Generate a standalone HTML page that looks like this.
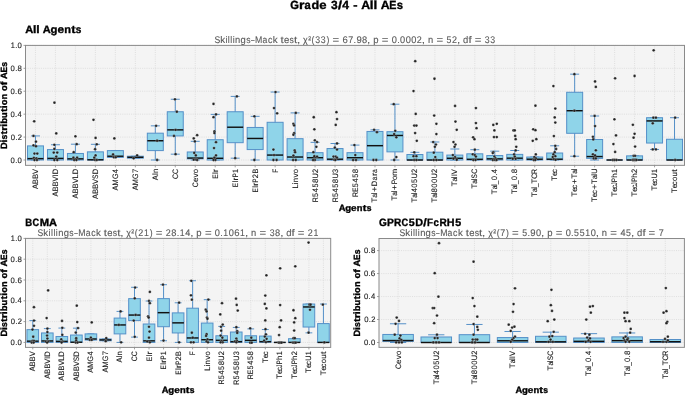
<!DOCTYPE html>
<html><head><meta charset="utf-8"><style>
html,body{margin:0;padding:0;background:#fff;}
svg{display:block;font-family:"Liberation Sans", sans-serif;will-change:transform;text-rendering:geometricPrecision;}
</style></head><body>
<svg width="685" height="395" viewBox="0 0 685 395">
<rect width="685" height="395" fill="#fff"/>
<rect x="25.5" y="45.4" width="659.0" height="119.94999999999999" fill="#f4f4f4"/>
<line x1="25.5" x2="684.5" y1="160.00" y2="160.00" stroke="#d6d6d6" stroke-width="0.7" stroke-dasharray="1 1.2"/>
<line x1="25.5" x2="684.5" y1="137.08" y2="137.08" stroke="#d6d6d6" stroke-width="0.7" stroke-dasharray="1 1.2"/>
<line x1="25.5" x2="684.5" y1="114.16" y2="114.16" stroke="#d6d6d6" stroke-width="0.7" stroke-dasharray="1 1.2"/>
<line x1="25.5" x2="684.5" y1="91.24" y2="91.24" stroke="#d6d6d6" stroke-width="0.7" stroke-dasharray="1 1.2"/>
<line x1="25.5" x2="684.5" y1="68.32" y2="68.32" stroke="#d6d6d6" stroke-width="0.7" stroke-dasharray="1 1.2"/>
<line x1="25.5" x2="684.5" y1="45.40" y2="45.40" stroke="#d6d6d6" stroke-width="0.7" stroke-dasharray="1 1.2"/>
<line x1="35.48" x2="35.48" y1="45.4" y2="165.35" stroke="#d6d6d6" stroke-width="0.7" stroke-dasharray="1 1.2"/>
<line x1="55.45" x2="55.45" y1="45.4" y2="165.35" stroke="#d6d6d6" stroke-width="0.7" stroke-dasharray="1 1.2"/>
<line x1="75.42" x2="75.42" y1="45.4" y2="165.35" stroke="#d6d6d6" stroke-width="0.7" stroke-dasharray="1 1.2"/>
<line x1="95.39" x2="95.39" y1="45.4" y2="165.35" stroke="#d6d6d6" stroke-width="0.7" stroke-dasharray="1 1.2"/>
<line x1="115.36" x2="115.36" y1="45.4" y2="165.35" stroke="#d6d6d6" stroke-width="0.7" stroke-dasharray="1 1.2"/>
<line x1="135.33" x2="135.33" y1="45.4" y2="165.35" stroke="#d6d6d6" stroke-width="0.7" stroke-dasharray="1 1.2"/>
<line x1="155.30" x2="155.30" y1="45.4" y2="165.35" stroke="#d6d6d6" stroke-width="0.7" stroke-dasharray="1 1.2"/>
<line x1="175.27" x2="175.27" y1="45.4" y2="165.35" stroke="#d6d6d6" stroke-width="0.7" stroke-dasharray="1 1.2"/>
<line x1="195.24" x2="195.24" y1="45.4" y2="165.35" stroke="#d6d6d6" stroke-width="0.7" stroke-dasharray="1 1.2"/>
<line x1="215.21" x2="215.21" y1="45.4" y2="165.35" stroke="#d6d6d6" stroke-width="0.7" stroke-dasharray="1 1.2"/>
<line x1="235.18" x2="235.18" y1="45.4" y2="165.35" stroke="#d6d6d6" stroke-width="0.7" stroke-dasharray="1 1.2"/>
<line x1="255.15" x2="255.15" y1="45.4" y2="165.35" stroke="#d6d6d6" stroke-width="0.7" stroke-dasharray="1 1.2"/>
<line x1="275.12" x2="275.12" y1="45.4" y2="165.35" stroke="#d6d6d6" stroke-width="0.7" stroke-dasharray="1 1.2"/>
<line x1="295.09" x2="295.09" y1="45.4" y2="165.35" stroke="#d6d6d6" stroke-width="0.7" stroke-dasharray="1 1.2"/>
<line x1="315.06" x2="315.06" y1="45.4" y2="165.35" stroke="#d6d6d6" stroke-width="0.7" stroke-dasharray="1 1.2"/>
<line x1="335.03" x2="335.03" y1="45.4" y2="165.35" stroke="#d6d6d6" stroke-width="0.7" stroke-dasharray="1 1.2"/>
<line x1="355.00" x2="355.00" y1="45.4" y2="165.35" stroke="#d6d6d6" stroke-width="0.7" stroke-dasharray="1 1.2"/>
<line x1="374.97" x2="374.97" y1="45.4" y2="165.35" stroke="#d6d6d6" stroke-width="0.7" stroke-dasharray="1 1.2"/>
<line x1="394.94" x2="394.94" y1="45.4" y2="165.35" stroke="#d6d6d6" stroke-width="0.7" stroke-dasharray="1 1.2"/>
<line x1="414.91" x2="414.91" y1="45.4" y2="165.35" stroke="#d6d6d6" stroke-width="0.7" stroke-dasharray="1 1.2"/>
<line x1="434.88" x2="434.88" y1="45.4" y2="165.35" stroke="#d6d6d6" stroke-width="0.7" stroke-dasharray="1 1.2"/>
<line x1="454.85" x2="454.85" y1="45.4" y2="165.35" stroke="#d6d6d6" stroke-width="0.7" stroke-dasharray="1 1.2"/>
<line x1="474.82" x2="474.82" y1="45.4" y2="165.35" stroke="#d6d6d6" stroke-width="0.7" stroke-dasharray="1 1.2"/>
<line x1="494.79" x2="494.79" y1="45.4" y2="165.35" stroke="#d6d6d6" stroke-width="0.7" stroke-dasharray="1 1.2"/>
<line x1="514.76" x2="514.76" y1="45.4" y2="165.35" stroke="#d6d6d6" stroke-width="0.7" stroke-dasharray="1 1.2"/>
<line x1="534.73" x2="534.73" y1="45.4" y2="165.35" stroke="#d6d6d6" stroke-width="0.7" stroke-dasharray="1 1.2"/>
<line x1="554.70" x2="554.70" y1="45.4" y2="165.35" stroke="#d6d6d6" stroke-width="0.7" stroke-dasharray="1 1.2"/>
<line x1="574.67" x2="574.67" y1="45.4" y2="165.35" stroke="#d6d6d6" stroke-width="0.7" stroke-dasharray="1 1.2"/>
<line x1="594.64" x2="594.64" y1="45.4" y2="165.35" stroke="#d6d6d6" stroke-width="0.7" stroke-dasharray="1 1.2"/>
<line x1="614.61" x2="614.61" y1="45.4" y2="165.35" stroke="#d6d6d6" stroke-width="0.7" stroke-dasharray="1 1.2"/>
<line x1="634.58" x2="634.58" y1="45.4" y2="165.35" stroke="#d6d6d6" stroke-width="0.7" stroke-dasharray="1 1.2"/>
<line x1="654.55" x2="654.55" y1="45.4" y2="165.35" stroke="#d6d6d6" stroke-width="0.7" stroke-dasharray="1 1.2"/>
<line x1="674.52" x2="674.52" y1="45.4" y2="165.35" stroke="#d6d6d6" stroke-width="0.7" stroke-dasharray="1 1.2"/>
<line x1="35.48" x2="35.48" y1="145.90" y2="135.93" stroke="#5590c8" stroke-width="1.0" stroke-linecap="square"/>
<line x1="35.48" x2="35.48" y1="160.00" y2="160.00" stroke="#5590c8" stroke-width="1.0" stroke-linecap="square"/>
<line x1="31.49" x2="39.48" y1="135.93" y2="135.93" stroke="#5590c8" stroke-width="1.0" stroke-linecap="square"/>
<line x1="31.49" x2="39.48" y1="160.00" y2="160.00" stroke="#5590c8" stroke-width="1.0" stroke-linecap="square"/>
<rect x="27.50" y="145.90" width="15.98" height="14.10" fill="#8fd4e9" stroke="#5590c8" stroke-width="1.0" stroke-linecap="square"/>
<line x1="27.50" x2="43.47" y1="158.62" y2="158.62" stroke="#111" stroke-width="1.45"/>
<circle cx="34.18" cy="121.27" r="1.38" fill="#222" stroke="#fff" stroke-width="0.22"/>
<circle cx="33.48" cy="135.93" r="1.38" fill="#222" stroke="#fff" stroke-width="0.22"/>
<circle cx="35.98" cy="141.66" r="1.38" fill="#222" stroke="#fff" stroke-width="0.22"/>
<circle cx="33.48" cy="145.33" r="1.38" fill="#222" stroke="#fff" stroke-width="0.22"/>
<circle cx="35.98" cy="146.25" r="1.38" fill="#222" stroke="#fff" stroke-width="0.22"/>
<circle cx="34.48" cy="153.58" r="1.38" fill="#222" stroke="#fff" stroke-width="0.22"/>
<circle cx="37.28" cy="153.58" r="1.38" fill="#222" stroke="#fff" stroke-width="0.22"/>
<circle cx="33.88" cy="157.82" r="1.38" fill="#222" stroke="#fff" stroke-width="0.22"/>
<circle cx="36.38" cy="158.40" r="1.38" fill="#222" stroke="#fff" stroke-width="0.22"/>
<circle cx="34.48" cy="160.00" r="1.38" fill="#222" stroke="#fff" stroke-width="0.22"/>
<circle cx="36.98" cy="160.00" r="1.38" fill="#222" stroke="#fff" stroke-width="0.22"/>
<line x1="55.45" x2="55.45" y1="149.57" y2="144.76" stroke="#5590c8" stroke-width="1.0" stroke-linecap="square"/>
<line x1="55.45" x2="55.45" y1="160.00" y2="160.00" stroke="#5590c8" stroke-width="1.0" stroke-linecap="square"/>
<line x1="51.46" x2="59.45" y1="144.76" y2="144.76" stroke="#5590c8" stroke-width="1.0" stroke-linecap="square"/>
<line x1="51.46" x2="59.45" y1="160.00" y2="160.00" stroke="#5590c8" stroke-width="1.0" stroke-linecap="square"/>
<rect x="47.47" y="149.57" width="15.98" height="10.43" fill="#8fd4e9" stroke="#5590c8" stroke-width="1.0" stroke-linecap="square"/>
<line x1="47.47" x2="63.44" y1="158.40" y2="158.40" stroke="#111" stroke-width="1.45"/>
<circle cx="54.45" cy="102.70" r="1.38" fill="#222" stroke="#fff" stroke-width="0.22"/>
<circle cx="56.25" cy="133.41" r="1.38" fill="#222" stroke="#fff" stroke-width="0.22"/>
<circle cx="54.35" cy="144.76" r="1.38" fill="#222" stroke="#fff" stroke-width="0.22"/>
<circle cx="54.35" cy="148.88" r="1.38" fill="#222" stroke="#fff" stroke-width="0.22"/>
<circle cx="53.75" cy="152.55" r="1.38" fill="#222" stroke="#fff" stroke-width="0.22"/>
<circle cx="57.25" cy="152.55" r="1.38" fill="#222" stroke="#fff" stroke-width="0.22"/>
<circle cx="56.25" cy="156.56" r="1.38" fill="#222" stroke="#fff" stroke-width="0.22"/>
<circle cx="54.35" cy="160.00" r="1.38" fill="#222" stroke="#fff" stroke-width="0.22"/>
<circle cx="57.25" cy="160.00" r="1.38" fill="#222" stroke="#fff" stroke-width="0.22"/>
<line x1="75.42" x2="75.42" y1="153.47" y2="144.19" stroke="#5590c8" stroke-width="1.0" stroke-linecap="square"/>
<line x1="75.42" x2="75.42" y1="160.00" y2="160.00" stroke="#5590c8" stroke-width="1.0" stroke-linecap="square"/>
<line x1="71.43" x2="79.42" y1="144.19" y2="144.19" stroke="#5590c8" stroke-width="1.0" stroke-linecap="square"/>
<line x1="71.43" x2="79.42" y1="160.00" y2="160.00" stroke="#5590c8" stroke-width="1.0" stroke-linecap="square"/>
<rect x="67.44" y="153.47" width="15.98" height="6.53" fill="#8fd4e9" stroke="#5590c8" stroke-width="1.0" stroke-linecap="square"/>
<line x1="67.44" x2="83.41" y1="158.85" y2="158.85" stroke="#111" stroke-width="1.45"/>
<circle cx="75.42" cy="136.28" r="1.38" fill="#222" stroke="#fff" stroke-width="0.22"/>
<circle cx="76.72" cy="144.19" r="1.38" fill="#222" stroke="#fff" stroke-width="0.22"/>
<circle cx="73.72" cy="152.21" r="1.38" fill="#222" stroke="#fff" stroke-width="0.22"/>
<circle cx="73.42" cy="157.71" r="1.38" fill="#222" stroke="#fff" stroke-width="0.22"/>
<circle cx="77.12" cy="157.71" r="1.38" fill="#222" stroke="#fff" stroke-width="0.22"/>
<circle cx="74.22" cy="160.00" r="1.38" fill="#222" stroke="#fff" stroke-width="0.22"/>
<circle cx="76.42" cy="160.00" r="1.38" fill="#222" stroke="#fff" stroke-width="0.22"/>
<line x1="95.39" x2="95.39" y1="151.86" y2="144.30" stroke="#5590c8" stroke-width="1.0" stroke-linecap="square"/>
<line x1="95.39" x2="95.39" y1="160.00" y2="160.00" stroke="#5590c8" stroke-width="1.0" stroke-linecap="square"/>
<line x1="91.40" x2="99.39" y1="144.30" y2="144.30" stroke="#5590c8" stroke-width="1.0" stroke-linecap="square"/>
<line x1="91.40" x2="99.39" y1="160.00" y2="160.00" stroke="#5590c8" stroke-width="1.0" stroke-linecap="square"/>
<rect x="87.41" y="151.86" width="15.98" height="8.14" fill="#8fd4e9" stroke="#5590c8" stroke-width="1.0" stroke-linecap="square"/>
<line x1="87.41" x2="103.38" y1="159.77" y2="159.77" stroke="#111" stroke-width="1.45"/>
<circle cx="93.49" cy="119.78" r="1.38" fill="#222" stroke="#fff" stroke-width="0.22"/>
<circle cx="95.59" cy="137.88" r="1.38" fill="#222" stroke="#fff" stroke-width="0.22"/>
<circle cx="96.79" cy="144.30" r="1.38" fill="#222" stroke="#fff" stroke-width="0.22"/>
<circle cx="95.09" cy="149.23" r="1.38" fill="#222" stroke="#fff" stroke-width="0.22"/>
<circle cx="95.59" cy="155.42" r="1.38" fill="#222" stroke="#fff" stroke-width="0.22"/>
<circle cx="94.29" cy="157.71" r="1.38" fill="#222" stroke="#fff" stroke-width="0.22"/>
<circle cx="95.09" cy="160.00" r="1.38" fill="#222" stroke="#fff" stroke-width="0.22"/>
<circle cx="96.79" cy="160.00" r="1.38" fill="#222" stroke="#fff" stroke-width="0.22"/>
<line x1="115.36" x2="115.36" y1="150.60" y2="150.60" stroke="#5590c8" stroke-width="1.0" stroke-linecap="square"/>
<line x1="115.36" x2="115.36" y1="157.36" y2="157.36" stroke="#5590c8" stroke-width="1.0" stroke-linecap="square"/>
<line x1="111.37" x2="119.36" y1="150.60" y2="150.60" stroke="#5590c8" stroke-width="1.0" stroke-linecap="square"/>
<line x1="111.37" x2="119.36" y1="157.36" y2="157.36" stroke="#5590c8" stroke-width="1.0" stroke-linecap="square"/>
<rect x="107.38" y="150.60" width="15.98" height="6.76" fill="#8fd4e9" stroke="#5590c8" stroke-width="1.0" stroke-linecap="square"/>
<line x1="107.38" x2="123.35" y1="156.22" y2="156.22" stroke="#111" stroke-width="1.45"/>
<circle cx="114.36" cy="138.46" r="1.38" fill="#222" stroke="#fff" stroke-width="0.22"/>
<circle cx="113.06" cy="154.50" r="1.38" fill="#222" stroke="#fff" stroke-width="0.22"/>
<circle cx="113.86" cy="157.25" r="1.38" fill="#222" stroke="#fff" stroke-width="0.22"/>
<circle cx="115.76" cy="157.25" r="1.38" fill="#222" stroke="#fff" stroke-width="0.22"/>
<line x1="135.33" x2="135.33" y1="156.22" y2="156.22" stroke="#5590c8" stroke-width="1.0" stroke-linecap="square"/>
<line x1="135.33" x2="135.33" y1="158.17" y2="158.17" stroke="#5590c8" stroke-width="1.0" stroke-linecap="square"/>
<line x1="131.34" x2="139.33" y1="156.22" y2="156.22" stroke="#5590c8" stroke-width="1.0" stroke-linecap="square"/>
<line x1="131.34" x2="139.33" y1="158.17" y2="158.17" stroke="#5590c8" stroke-width="1.0" stroke-linecap="square"/>
<rect x="127.35" y="156.22" width="15.98" height="1.95" fill="#8fd4e9" stroke="#5590c8" stroke-width="1.0" stroke-linecap="square"/>
<line x1="127.35" x2="143.32" y1="157.25" y2="157.25" stroke="#111" stroke-width="1.45"/>
<circle cx="137.13" cy="155.42" r="1.38" fill="#222" stroke="#fff" stroke-width="0.22"/>
<circle cx="133.63" cy="158.28" r="1.38" fill="#222" stroke="#fff" stroke-width="0.22"/>
<line x1="155.30" x2="155.30" y1="133.18" y2="125.85" stroke="#5590c8" stroke-width="1.0" stroke-linecap="square"/>
<line x1="155.30" x2="155.30" y1="150.60" y2="160.00" stroke="#5590c8" stroke-width="1.0" stroke-linecap="square"/>
<line x1="151.31" x2="159.30" y1="125.85" y2="125.85" stroke="#5590c8" stroke-width="1.0" stroke-linecap="square"/>
<line x1="151.31" x2="159.30" y1="160.00" y2="160.00" stroke="#5590c8" stroke-width="1.0" stroke-linecap="square"/>
<rect x="147.32" y="133.18" width="15.98" height="17.42" fill="#8fd4e9" stroke="#5590c8" stroke-width="1.0" stroke-linecap="square"/>
<line x1="147.32" x2="163.29" y1="140.75" y2="140.75" stroke="#111" stroke-width="1.45"/>
<circle cx="156.10" cy="125.85" r="1.38" fill="#222" stroke="#fff" stroke-width="0.22"/>
<circle cx="157.10" cy="140.75" r="1.38" fill="#222" stroke="#fff" stroke-width="0.22"/>
<circle cx="157.10" cy="160.00" r="1.38" fill="#222" stroke="#fff" stroke-width="0.22"/>
<line x1="175.27" x2="175.27" y1="111.75" y2="99.26" stroke="#5590c8" stroke-width="1.0" stroke-linecap="square"/>
<line x1="175.27" x2="175.27" y1="135.93" y2="154.16" stroke="#5590c8" stroke-width="1.0" stroke-linecap="square"/>
<line x1="171.28" x2="179.27" y1="99.26" y2="99.26" stroke="#5590c8" stroke-width="1.0" stroke-linecap="square"/>
<line x1="171.28" x2="179.27" y1="154.16" y2="154.16" stroke="#5590c8" stroke-width="1.0" stroke-linecap="square"/>
<rect x="167.28" y="111.75" width="15.98" height="24.18" fill="#8fd4e9" stroke="#5590c8" stroke-width="1.0" stroke-linecap="square"/>
<line x1="167.28" x2="183.26" y1="129.86" y2="129.86" stroke="#111" stroke-width="1.45"/>
<circle cx="174.97" cy="99.26" r="1.38" fill="#222" stroke="#fff" stroke-width="0.22"/>
<circle cx="176.87" cy="111.75" r="1.38" fill="#222" stroke="#fff" stroke-width="0.22"/>
<circle cx="175.57" cy="129.86" r="1.38" fill="#222" stroke="#fff" stroke-width="0.22"/>
<circle cx="173.97" cy="135.93" r="1.38" fill="#222" stroke="#fff" stroke-width="0.22"/>
<circle cx="175.57" cy="154.16" r="1.38" fill="#222" stroke="#fff" stroke-width="0.22"/>
<line x1="195.24" x2="195.24" y1="151.98" y2="141.32" stroke="#5590c8" stroke-width="1.0" stroke-linecap="square"/>
<line x1="195.24" x2="195.24" y1="158.85" y2="160.00" stroke="#5590c8" stroke-width="1.0" stroke-linecap="square"/>
<line x1="191.25" x2="199.24" y1="141.32" y2="141.32" stroke="#5590c8" stroke-width="1.0" stroke-linecap="square"/>
<line x1="191.25" x2="199.24" y1="160.00" y2="160.00" stroke="#5590c8" stroke-width="1.0" stroke-linecap="square"/>
<rect x="187.25" y="151.98" width="15.98" height="6.88" fill="#8fd4e9" stroke="#5590c8" stroke-width="1.0" stroke-linecap="square"/>
<line x1="187.25" x2="203.23" y1="158.05" y2="158.05" stroke="#111" stroke-width="1.45"/>
<circle cx="197.14" cy="135.13" r="1.38" fill="#222" stroke="#fff" stroke-width="0.22"/>
<circle cx="193.74" cy="138.46" r="1.38" fill="#222" stroke="#fff" stroke-width="0.22"/>
<circle cx="194.84" cy="141.43" r="1.38" fill="#222" stroke="#fff" stroke-width="0.22"/>
<circle cx="194.24" cy="152.89" r="1.38" fill="#222" stroke="#fff" stroke-width="0.22"/>
<circle cx="195.84" cy="155.42" r="1.38" fill="#222" stroke="#fff" stroke-width="0.22"/>
<circle cx="193.74" cy="159.66" r="1.38" fill="#222" stroke="#fff" stroke-width="0.22"/>
<circle cx="196.24" cy="159.66" r="1.38" fill="#222" stroke="#fff" stroke-width="0.22"/>
<circle cx="197.14" cy="160.00" r="1.38" fill="#222" stroke="#fff" stroke-width="0.22"/>
<line x1="215.21" x2="215.21" y1="139.72" y2="114.39" stroke="#5590c8" stroke-width="1.0" stroke-linecap="square"/>
<line x1="215.21" x2="215.21" y1="160.00" y2="160.00" stroke="#5590c8" stroke-width="1.0" stroke-linecap="square"/>
<line x1="211.22" x2="219.21" y1="114.39" y2="114.39" stroke="#5590c8" stroke-width="1.0" stroke-linecap="square"/>
<line x1="211.22" x2="219.21" y1="160.00" y2="160.00" stroke="#5590c8" stroke-width="1.0" stroke-linecap="square"/>
<rect x="207.22" y="139.72" width="15.98" height="20.28" fill="#8fd4e9" stroke="#5590c8" stroke-width="1.0" stroke-linecap="square"/>
<line x1="207.22" x2="223.20" y1="158.28" y2="158.28" stroke="#111" stroke-width="1.45"/>
<circle cx="213.51" cy="103.96" r="1.38" fill="#222" stroke="#fff" stroke-width="0.22"/>
<circle cx="216.01" cy="114.39" r="1.38" fill="#222" stroke="#fff" stroke-width="0.22"/>
<circle cx="213.51" cy="117.14" r="1.38" fill="#222" stroke="#fff" stroke-width="0.22"/>
<circle cx="214.41" cy="131.35" r="1.38" fill="#222" stroke="#fff" stroke-width="0.22"/>
<circle cx="214.41" cy="133.07" r="1.38" fill="#222" stroke="#fff" stroke-width="0.22"/>
<circle cx="216.01" cy="142.24" r="1.38" fill="#222" stroke="#fff" stroke-width="0.22"/>
<circle cx="214.01" cy="148.08" r="1.38" fill="#222" stroke="#fff" stroke-width="0.22"/>
<circle cx="216.01" cy="155.42" r="1.38" fill="#222" stroke="#fff" stroke-width="0.22"/>
<circle cx="214.41" cy="157.71" r="1.38" fill="#222" stroke="#fff" stroke-width="0.22"/>
<circle cx="215.41" cy="160.00" r="1.38" fill="#222" stroke="#fff" stroke-width="0.22"/>
<circle cx="213.51" cy="160.00" r="1.38" fill="#222" stroke="#fff" stroke-width="0.22"/>
<line x1="235.18" x2="235.18" y1="111.75" y2="96.40" stroke="#5590c8" stroke-width="1.0" stroke-linecap="square"/>
<line x1="235.18" x2="235.18" y1="142.70" y2="158.17" stroke="#5590c8" stroke-width="1.0" stroke-linecap="square"/>
<line x1="231.19" x2="239.18" y1="96.40" y2="96.40" stroke="#5590c8" stroke-width="1.0" stroke-linecap="square"/>
<line x1="231.19" x2="239.18" y1="158.17" y2="158.17" stroke="#5590c8" stroke-width="1.0" stroke-linecap="square"/>
<rect x="227.19" y="111.75" width="15.98" height="30.94" fill="#8fd4e9" stroke="#5590c8" stroke-width="1.0" stroke-linecap="square"/>
<line x1="227.19" x2="243.17" y1="127.22" y2="127.22" stroke="#111" stroke-width="1.45"/>
<circle cx="236.88" cy="96.40" r="1.38" fill="#222" stroke="#fff" stroke-width="0.22"/>
<circle cx="235.18" cy="158.17" r="1.38" fill="#222" stroke="#fff" stroke-width="0.22"/>
<line x1="255.15" x2="255.15" y1="127.45" y2="116.34" stroke="#5590c8" stroke-width="1.0" stroke-linecap="square"/>
<line x1="255.15" x2="255.15" y1="149.57" y2="160.00" stroke="#5590c8" stroke-width="1.0" stroke-linecap="square"/>
<line x1="251.16" x2="259.15" y1="116.34" y2="116.34" stroke="#5590c8" stroke-width="1.0" stroke-linecap="square"/>
<line x1="251.16" x2="259.15" y1="160.00" y2="160.00" stroke="#5590c8" stroke-width="1.0" stroke-linecap="square"/>
<rect x="247.16" y="127.45" width="15.98" height="22.12" fill="#8fd4e9" stroke="#5590c8" stroke-width="1.0" stroke-linecap="square"/>
<line x1="247.16" x2="263.14" y1="138.46" y2="138.46" stroke="#111" stroke-width="1.45"/>
<circle cx="254.35" cy="116.34" r="1.38" fill="#222" stroke="#fff" stroke-width="0.22"/>
<circle cx="254.35" cy="160.00" r="1.38" fill="#222" stroke="#fff" stroke-width="0.22"/>
<line x1="275.12" x2="275.12" y1="122.30" y2="92.04" stroke="#5590c8" stroke-width="1.0" stroke-linecap="square"/>
<line x1="275.12" x2="275.12" y1="160.00" y2="160.00" stroke="#5590c8" stroke-width="1.0" stroke-linecap="square"/>
<line x1="271.13" x2="279.12" y1="92.04" y2="92.04" stroke="#5590c8" stroke-width="1.0" stroke-linecap="square"/>
<line x1="271.13" x2="279.12" y1="160.00" y2="160.00" stroke="#5590c8" stroke-width="1.0" stroke-linecap="square"/>
<rect x="267.13" y="122.30" width="15.98" height="37.70" fill="#8fd4e9" stroke="#5590c8" stroke-width="1.0" stroke-linecap="square"/>
<line x1="267.13" x2="283.11" y1="155.07" y2="155.07" stroke="#111" stroke-width="1.45"/>
<circle cx="275.52" cy="92.04" r="1.38" fill="#222" stroke="#fff" stroke-width="0.22"/>
<circle cx="274.02" cy="108.09" r="1.38" fill="#222" stroke="#fff" stroke-width="0.22"/>
<circle cx="277.12" cy="113.36" r="1.38" fill="#222" stroke="#fff" stroke-width="0.22"/>
<circle cx="273.42" cy="149.57" r="1.38" fill="#222" stroke="#fff" stroke-width="0.22"/>
<circle cx="274.02" cy="155.07" r="1.38" fill="#222" stroke="#fff" stroke-width="0.22"/>
<circle cx="273.42" cy="160.00" r="1.38" fill="#222" stroke="#fff" stroke-width="0.22"/>
<circle cx="276.62" cy="160.00" r="1.38" fill="#222" stroke="#fff" stroke-width="0.22"/>
<line x1="295.09" x2="295.09" y1="138.68" y2="112.90" stroke="#5590c8" stroke-width="1.0" stroke-linecap="square"/>
<line x1="295.09" x2="295.09" y1="160.00" y2="160.00" stroke="#5590c8" stroke-width="1.0" stroke-linecap="square"/>
<line x1="291.10" x2="299.08" y1="112.90" y2="112.90" stroke="#5590c8" stroke-width="1.0" stroke-linecap="square"/>
<line x1="291.10" x2="299.08" y1="160.00" y2="160.00" stroke="#5590c8" stroke-width="1.0" stroke-linecap="square"/>
<rect x="287.10" y="138.68" width="15.98" height="21.32" fill="#8fd4e9" stroke="#5590c8" stroke-width="1.0" stroke-linecap="square"/>
<line x1="287.10" x2="303.08" y1="157.02" y2="157.02" stroke="#111" stroke-width="1.45"/>
<circle cx="295.79" cy="112.90" r="1.38" fill="#222" stroke="#fff" stroke-width="0.22"/>
<circle cx="293.39" cy="123.79" r="1.38" fill="#222" stroke="#fff" stroke-width="0.22"/>
<circle cx="294.09" cy="125.39" r="1.38" fill="#222" stroke="#fff" stroke-width="0.22"/>
<circle cx="294.09" cy="133.18" r="1.38" fill="#222" stroke="#fff" stroke-width="0.22"/>
<circle cx="293.39" cy="134.79" r="1.38" fill="#222" stroke="#fff" stroke-width="0.22"/>
<circle cx="294.69" cy="150.49" r="1.38" fill="#222" stroke="#fff" stroke-width="0.22"/>
<circle cx="295.09" cy="152.21" r="1.38" fill="#222" stroke="#fff" stroke-width="0.22"/>
<circle cx="293.39" cy="155.53" r="1.38" fill="#222" stroke="#fff" stroke-width="0.22"/>
<circle cx="293.09" cy="160.00" r="1.38" fill="#222" stroke="#fff" stroke-width="0.22"/>
<circle cx="295.79" cy="160.00" r="1.38" fill="#222" stroke="#fff" stroke-width="0.22"/>
<line x1="315.06" x2="315.06" y1="152.67" y2="142.35" stroke="#5590c8" stroke-width="1.0" stroke-linecap="square"/>
<line x1="315.06" x2="315.06" y1="160.00" y2="160.00" stroke="#5590c8" stroke-width="1.0" stroke-linecap="square"/>
<line x1="311.07" x2="319.05" y1="142.35" y2="142.35" stroke="#5590c8" stroke-width="1.0" stroke-linecap="square"/>
<line x1="311.07" x2="319.05" y1="160.00" y2="160.00" stroke="#5590c8" stroke-width="1.0" stroke-linecap="square"/>
<rect x="307.07" y="152.67" width="15.98" height="7.33" fill="#8fd4e9" stroke="#5590c8" stroke-width="1.0" stroke-linecap="square"/>
<line x1="307.07" x2="323.05" y1="157.71" y2="157.71" stroke="#111" stroke-width="1.45"/>
<circle cx="313.76" cy="117.25" r="1.38" fill="#222" stroke="#fff" stroke-width="0.22"/>
<circle cx="314.36" cy="129.29" r="1.38" fill="#222" stroke="#fff" stroke-width="0.22"/>
<circle cx="314.86" cy="140.29" r="1.38" fill="#222" stroke="#fff" stroke-width="0.22"/>
<circle cx="317.06" cy="142.01" r="1.38" fill="#222" stroke="#fff" stroke-width="0.22"/>
<circle cx="316.36" cy="146.82" r="1.38" fill="#222" stroke="#fff" stroke-width="0.22"/>
<circle cx="313.36" cy="152.21" r="1.38" fill="#222" stroke="#fff" stroke-width="0.22"/>
<circle cx="314.36" cy="156.22" r="1.38" fill="#222" stroke="#fff" stroke-width="0.22"/>
<circle cx="317.06" cy="156.56" r="1.38" fill="#222" stroke="#fff" stroke-width="0.22"/>
<circle cx="314.86" cy="160.00" r="1.38" fill="#222" stroke="#fff" stroke-width="0.22"/>
<circle cx="313.06" cy="160.00" r="1.38" fill="#222" stroke="#fff" stroke-width="0.22"/>
<line x1="335.03" x2="335.03" y1="148.54" y2="143.50" stroke="#5590c8" stroke-width="1.0" stroke-linecap="square"/>
<line x1="335.03" x2="335.03" y1="160.00" y2="160.00" stroke="#5590c8" stroke-width="1.0" stroke-linecap="square"/>
<line x1="331.04" x2="339.02" y1="143.50" y2="143.50" stroke="#5590c8" stroke-width="1.0" stroke-linecap="square"/>
<line x1="331.04" x2="339.02" y1="160.00" y2="160.00" stroke="#5590c8" stroke-width="1.0" stroke-linecap="square"/>
<rect x="327.04" y="148.54" width="15.98" height="11.46" fill="#8fd4e9" stroke="#5590c8" stroke-width="1.0" stroke-linecap="square"/>
<line x1="327.04" x2="343.02" y1="159.20" y2="159.20" stroke="#111" stroke-width="1.45"/>
<circle cx="336.43" cy="112.21" r="1.38" fill="#222" stroke="#fff" stroke-width="0.22"/>
<circle cx="337.03" cy="119.09" r="1.38" fill="#222" stroke="#fff" stroke-width="0.22"/>
<circle cx="335.73" cy="124.93" r="1.38" fill="#222" stroke="#fff" stroke-width="0.22"/>
<circle cx="337.03" cy="143.50" r="1.38" fill="#222" stroke="#fff" stroke-width="0.22"/>
<circle cx="334.83" cy="147.51" r="1.38" fill="#222" stroke="#fff" stroke-width="0.22"/>
<circle cx="337.03" cy="149.57" r="1.38" fill="#222" stroke="#fff" stroke-width="0.22"/>
<circle cx="333.53" cy="156.56" r="1.38" fill="#222" stroke="#fff" stroke-width="0.22"/>
<circle cx="335.73" cy="156.56" r="1.38" fill="#222" stroke="#fff" stroke-width="0.22"/>
<circle cx="337.03" cy="157.71" r="1.38" fill="#222" stroke="#fff" stroke-width="0.22"/>
<circle cx="334.23" cy="159.77" r="1.38" fill="#222" stroke="#fff" stroke-width="0.22"/>
<circle cx="335.33" cy="160.00" r="1.38" fill="#222" stroke="#fff" stroke-width="0.22"/>
<line x1="355.00" x2="355.00" y1="152.67" y2="145.10" stroke="#5590c8" stroke-width="1.0" stroke-linecap="square"/>
<line x1="355.00" x2="355.00" y1="160.00" y2="160.00" stroke="#5590c8" stroke-width="1.0" stroke-linecap="square"/>
<line x1="351.01" x2="358.99" y1="145.10" y2="145.10" stroke="#5590c8" stroke-width="1.0" stroke-linecap="square"/>
<line x1="351.01" x2="358.99" y1="160.00" y2="160.00" stroke="#5590c8" stroke-width="1.0" stroke-linecap="square"/>
<rect x="347.01" y="152.67" width="15.98" height="7.33" fill="#8fd4e9" stroke="#5590c8" stroke-width="1.0" stroke-linecap="square"/>
<line x1="347.01" x2="362.99" y1="157.71" y2="157.71" stroke="#111" stroke-width="1.45"/>
<circle cx="354.40" cy="145.10" r="1.38" fill="#222" stroke="#fff" stroke-width="0.22"/>
<circle cx="355.30" cy="155.07" r="1.38" fill="#222" stroke="#fff" stroke-width="0.22"/>
<circle cx="353.10" cy="160.00" r="1.38" fill="#222" stroke="#fff" stroke-width="0.22"/>
<circle cx="356.00" cy="160.00" r="1.38" fill="#222" stroke="#fff" stroke-width="0.22"/>
<line x1="374.97" x2="374.97" y1="131.46" y2="129.86" stroke="#5590c8" stroke-width="1.0" stroke-linecap="square"/>
<line x1="374.97" x2="374.97" y1="160.00" y2="160.00" stroke="#5590c8" stroke-width="1.0" stroke-linecap="square"/>
<line x1="370.98" x2="378.96" y1="129.86" y2="129.86" stroke="#5590c8" stroke-width="1.0" stroke-linecap="square"/>
<line x1="370.98" x2="378.96" y1="160.00" y2="160.00" stroke="#5590c8" stroke-width="1.0" stroke-linecap="square"/>
<rect x="366.98" y="131.46" width="15.98" height="28.54" fill="#8fd4e9" stroke="#5590c8" stroke-width="1.0" stroke-linecap="square"/>
<line x1="366.98" x2="382.96" y1="145.68" y2="145.68" stroke="#111" stroke-width="1.45"/>
<circle cx="374.07" cy="129.86" r="1.38" fill="#222" stroke="#fff" stroke-width="0.22"/>
<circle cx="376.97" cy="132.15" r="1.38" fill="#222" stroke="#fff" stroke-width="0.22"/>
<circle cx="373.47" cy="160.00" r="1.38" fill="#222" stroke="#fff" stroke-width="0.22"/>
<circle cx="376.27" cy="160.00" r="1.38" fill="#222" stroke="#fff" stroke-width="0.22"/>
<line x1="394.94" x2="394.94" y1="131.69" y2="104.19" stroke="#5590c8" stroke-width="1.0" stroke-linecap="square"/>
<line x1="394.94" x2="394.94" y1="151.86" y2="160.00" stroke="#5590c8" stroke-width="1.0" stroke-linecap="square"/>
<line x1="390.95" x2="398.93" y1="104.19" y2="104.19" stroke="#5590c8" stroke-width="1.0" stroke-linecap="square"/>
<line x1="390.95" x2="398.93" y1="160.00" y2="160.00" stroke="#5590c8" stroke-width="1.0" stroke-linecap="square"/>
<rect x="386.95" y="131.69" width="15.98" height="20.17" fill="#8fd4e9" stroke="#5590c8" stroke-width="1.0" stroke-linecap="square"/>
<line x1="386.95" x2="402.93" y1="135.48" y2="135.48" stroke="#111" stroke-width="1.45"/>
<circle cx="393.74" cy="104.19" r="1.38" fill="#222" stroke="#fff" stroke-width="0.22"/>
<circle cx="395.24" cy="130.78" r="1.38" fill="#222" stroke="#fff" stroke-width="0.22"/>
<circle cx="394.14" cy="134.10" r="1.38" fill="#222" stroke="#fff" stroke-width="0.22"/>
<circle cx="396.34" cy="137.31" r="1.38" fill="#222" stroke="#fff" stroke-width="0.22"/>
<circle cx="396.34" cy="157.02" r="1.38" fill="#222" stroke="#fff" stroke-width="0.22"/>
<circle cx="394.14" cy="160.00" r="1.38" fill="#222" stroke="#fff" stroke-width="0.22"/>
<line x1="414.91" x2="414.91" y1="154.50" y2="152.32" stroke="#5590c8" stroke-width="1.0" stroke-linecap="square"/>
<line x1="414.91" x2="414.91" y1="160.00" y2="160.00" stroke="#5590c8" stroke-width="1.0" stroke-linecap="square"/>
<line x1="410.92" x2="418.90" y1="152.32" y2="152.32" stroke="#5590c8" stroke-width="1.0" stroke-linecap="square"/>
<line x1="410.92" x2="418.90" y1="160.00" y2="160.00" stroke="#5590c8" stroke-width="1.0" stroke-linecap="square"/>
<rect x="406.92" y="154.50" width="15.98" height="5.50" fill="#8fd4e9" stroke="#5590c8" stroke-width="1.0" stroke-linecap="square"/>
<line x1="406.92" x2="422.90" y1="160.00" y2="160.00" stroke="#111" stroke-width="1.45"/>
<circle cx="415.21" cy="61.21" r="1.38" fill="#222" stroke="#fff" stroke-width="0.22"/>
<circle cx="413.51" cy="91.01" r="1.38" fill="#222" stroke="#fff" stroke-width="0.22"/>
<circle cx="415.71" cy="113.93" r="1.38" fill="#222" stroke="#fff" stroke-width="0.22"/>
<circle cx="414.21" cy="125.62" r="1.38" fill="#222" stroke="#fff" stroke-width="0.22"/>
<circle cx="416.41" cy="125.62" r="1.38" fill="#222" stroke="#fff" stroke-width="0.22"/>
<circle cx="415.11" cy="133.07" r="1.38" fill="#222" stroke="#fff" stroke-width="0.22"/>
<circle cx="416.81" cy="140.86" r="1.38" fill="#222" stroke="#fff" stroke-width="0.22"/>
<circle cx="414.21" cy="152.32" r="1.38" fill="#222" stroke="#fff" stroke-width="0.22"/>
<circle cx="413.51" cy="156.22" r="1.38" fill="#222" stroke="#fff" stroke-width="0.22"/>
<circle cx="416.41" cy="156.22" r="1.38" fill="#222" stroke="#fff" stroke-width="0.22"/>
<circle cx="414.21" cy="160.00" r="1.38" fill="#222" stroke="#fff" stroke-width="0.22"/>
<circle cx="416.41" cy="160.00" r="1.38" fill="#222" stroke="#fff" stroke-width="0.22"/>
<line x1="434.88" x2="434.88" y1="152.21" y2="142.01" stroke="#5590c8" stroke-width="1.0" stroke-linecap="square"/>
<line x1="434.88" x2="434.88" y1="160.00" y2="160.00" stroke="#5590c8" stroke-width="1.0" stroke-linecap="square"/>
<line x1="430.88" x2="438.87" y1="142.01" y2="142.01" stroke="#5590c8" stroke-width="1.0" stroke-linecap="square"/>
<line x1="430.88" x2="438.87" y1="160.00" y2="160.00" stroke="#5590c8" stroke-width="1.0" stroke-linecap="square"/>
<rect x="426.89" y="152.21" width="15.98" height="7.79" fill="#8fd4e9" stroke="#5590c8" stroke-width="1.0" stroke-linecap="square"/>
<line x1="426.89" x2="442.87" y1="160.00" y2="160.00" stroke="#111" stroke-width="1.45"/>
<circle cx="434.48" cy="78.75" r="1.38" fill="#222" stroke="#fff" stroke-width="0.22"/>
<circle cx="434.18" cy="115.54" r="1.38" fill="#222" stroke="#fff" stroke-width="0.22"/>
<circle cx="436.38" cy="123.79" r="1.38" fill="#222" stroke="#fff" stroke-width="0.22"/>
<circle cx="436.38" cy="134.10" r="1.38" fill="#222" stroke="#fff" stroke-width="0.22"/>
<circle cx="433.18" cy="142.01" r="1.38" fill="#222" stroke="#fff" stroke-width="0.22"/>
<circle cx="435.98" cy="144.53" r="1.38" fill="#222" stroke="#fff" stroke-width="0.22"/>
<circle cx="434.88" cy="146.82" r="1.38" fill="#222" stroke="#fff" stroke-width="0.22"/>
<circle cx="433.78" cy="152.67" r="1.38" fill="#222" stroke="#fff" stroke-width="0.22"/>
<circle cx="435.28" cy="157.02" r="1.38" fill="#222" stroke="#fff" stroke-width="0.22"/>
<circle cx="433.78" cy="160.00" r="1.38" fill="#222" stroke="#fff" stroke-width="0.22"/>
<circle cx="436.38" cy="160.00" r="1.38" fill="#222" stroke="#fff" stroke-width="0.22"/>
<line x1="454.85" x2="454.85" y1="155.07" y2="149.00" stroke="#5590c8" stroke-width="1.0" stroke-linecap="square"/>
<line x1="454.85" x2="454.85" y1="160.00" y2="160.00" stroke="#5590c8" stroke-width="1.0" stroke-linecap="square"/>
<line x1="450.85" x2="458.84" y1="149.00" y2="149.00" stroke="#5590c8" stroke-width="1.0" stroke-linecap="square"/>
<line x1="450.85" x2="458.84" y1="160.00" y2="160.00" stroke="#5590c8" stroke-width="1.0" stroke-linecap="square"/>
<rect x="446.86" y="155.07" width="15.98" height="4.93" fill="#8fd4e9" stroke="#5590c8" stroke-width="1.0" stroke-linecap="square"/>
<line x1="446.86" x2="462.84" y1="158.28" y2="158.28" stroke="#111" stroke-width="1.45"/>
<circle cx="455.05" cy="105.91" r="1.38" fill="#222" stroke="#fff" stroke-width="0.22"/>
<circle cx="455.45" cy="121.61" r="1.38" fill="#222" stroke="#fff" stroke-width="0.22"/>
<circle cx="456.75" cy="129.86" r="1.38" fill="#222" stroke="#fff" stroke-width="0.22"/>
<circle cx="453.45" cy="142.01" r="1.38" fill="#222" stroke="#fff" stroke-width="0.22"/>
<circle cx="455.45" cy="144.53" r="1.38" fill="#222" stroke="#fff" stroke-width="0.22"/>
<circle cx="454.55" cy="146.82" r="1.38" fill="#222" stroke="#fff" stroke-width="0.22"/>
<circle cx="452.85" cy="155.07" r="1.38" fill="#222" stroke="#fff" stroke-width="0.22"/>
<circle cx="455.05" cy="157.02" r="1.38" fill="#222" stroke="#fff" stroke-width="0.22"/>
<circle cx="453.45" cy="158.74" r="1.38" fill="#222" stroke="#fff" stroke-width="0.22"/>
<circle cx="456.75" cy="159.77" r="1.38" fill="#222" stroke="#fff" stroke-width="0.22"/>
<line x1="474.82" x2="474.82" y1="153.81" y2="149.69" stroke="#5590c8" stroke-width="1.0" stroke-linecap="square"/>
<line x1="474.82" x2="474.82" y1="160.00" y2="160.00" stroke="#5590c8" stroke-width="1.0" stroke-linecap="square"/>
<line x1="470.82" x2="478.81" y1="149.69" y2="149.69" stroke="#5590c8" stroke-width="1.0" stroke-linecap="square"/>
<line x1="470.82" x2="478.81" y1="160.00" y2="160.00" stroke="#5590c8" stroke-width="1.0" stroke-linecap="square"/>
<rect x="466.83" y="153.81" width="15.98" height="6.19" fill="#8fd4e9" stroke="#5590c8" stroke-width="1.0" stroke-linecap="square"/>
<line x1="466.83" x2="482.81" y1="159.31" y2="159.31" stroke="#111" stroke-width="1.45"/>
<circle cx="475.92" cy="108.09" r="1.38" fill="#222" stroke="#fff" stroke-width="0.22"/>
<circle cx="475.92" cy="123.10" r="1.38" fill="#222" stroke="#fff" stroke-width="0.22"/>
<circle cx="476.52" cy="128.14" r="1.38" fill="#222" stroke="#fff" stroke-width="0.22"/>
<circle cx="473.12" cy="137.31" r="1.38" fill="#222" stroke="#fff" stroke-width="0.22"/>
<circle cx="474.42" cy="139.14" r="1.38" fill="#222" stroke="#fff" stroke-width="0.22"/>
<circle cx="474.82" cy="149.69" r="1.38" fill="#222" stroke="#fff" stroke-width="0.22"/>
<circle cx="472.82" cy="154.27" r="1.38" fill="#222" stroke="#fff" stroke-width="0.22"/>
<circle cx="474.82" cy="155.07" r="1.38" fill="#222" stroke="#fff" stroke-width="0.22"/>
<circle cx="475.92" cy="156.56" r="1.38" fill="#222" stroke="#fff" stroke-width="0.22"/>
<circle cx="473.32" cy="160.00" r="1.38" fill="#222" stroke="#fff" stroke-width="0.22"/>
<circle cx="475.52" cy="160.00" r="1.38" fill="#222" stroke="#fff" stroke-width="0.22"/>
<line x1="494.79" x2="494.79" y1="155.53" y2="151.18" stroke="#5590c8" stroke-width="1.0" stroke-linecap="square"/>
<line x1="494.79" x2="494.79" y1="160.00" y2="160.00" stroke="#5590c8" stroke-width="1.0" stroke-linecap="square"/>
<line x1="490.79" x2="498.78" y1="151.18" y2="151.18" stroke="#5590c8" stroke-width="1.0" stroke-linecap="square"/>
<line x1="490.79" x2="498.78" y1="160.00" y2="160.00" stroke="#5590c8" stroke-width="1.0" stroke-linecap="square"/>
<rect x="486.80" y="155.53" width="15.98" height="4.47" fill="#8fd4e9" stroke="#5590c8" stroke-width="1.0" stroke-linecap="square"/>
<line x1="486.80" x2="502.78" y1="158.85" y2="158.85" stroke="#111" stroke-width="1.45"/>
<circle cx="493.29" cy="124.93" r="1.38" fill="#222" stroke="#fff" stroke-width="0.22"/>
<circle cx="496.79" cy="123.79" r="1.38" fill="#222" stroke="#fff" stroke-width="0.22"/>
<circle cx="494.39" cy="130.43" r="1.38" fill="#222" stroke="#fff" stroke-width="0.22"/>
<circle cx="493.99" cy="137.08" r="1.38" fill="#222" stroke="#fff" stroke-width="0.22"/>
<circle cx="496.79" cy="137.08" r="1.38" fill="#222" stroke="#fff" stroke-width="0.22"/>
<circle cx="493.29" cy="152.21" r="1.38" fill="#222" stroke="#fff" stroke-width="0.22"/>
<circle cx="492.79" cy="153.12" r="1.38" fill="#222" stroke="#fff" stroke-width="0.22"/>
<circle cx="494.39" cy="156.56" r="1.38" fill="#222" stroke="#fff" stroke-width="0.22"/>
<circle cx="495.49" cy="158.28" r="1.38" fill="#222" stroke="#fff" stroke-width="0.22"/>
<circle cx="492.89" cy="160.00" r="1.38" fill="#222" stroke="#fff" stroke-width="0.22"/>
<circle cx="495.09" cy="160.00" r="1.38" fill="#222" stroke="#fff" stroke-width="0.22"/>
<circle cx="496.59" cy="160.00" r="1.38" fill="#222" stroke="#fff" stroke-width="0.22"/>
<line x1="514.76" x2="514.76" y1="154.38" y2="150.49" stroke="#5590c8" stroke-width="1.0" stroke-linecap="square"/>
<line x1="514.76" x2="514.76" y1="160.00" y2="160.00" stroke="#5590c8" stroke-width="1.0" stroke-linecap="square"/>
<line x1="510.76" x2="518.75" y1="150.49" y2="150.49" stroke="#5590c8" stroke-width="1.0" stroke-linecap="square"/>
<line x1="510.76" x2="518.75" y1="160.00" y2="160.00" stroke="#5590c8" stroke-width="1.0" stroke-linecap="square"/>
<rect x="506.77" y="154.38" width="15.98" height="5.62" fill="#8fd4e9" stroke="#5590c8" stroke-width="1.0" stroke-linecap="square"/>
<line x1="506.77" x2="522.75" y1="158.17" y2="158.17" stroke="#111" stroke-width="1.45"/>
<circle cx="513.46" cy="130.43" r="1.38" fill="#222" stroke="#fff" stroke-width="0.22"/>
<circle cx="514.76" cy="130.43" r="1.38" fill="#222" stroke="#fff" stroke-width="0.22"/>
<circle cx="515.16" cy="135.93" r="1.38" fill="#222" stroke="#fff" stroke-width="0.22"/>
<circle cx="515.66" cy="139.14" r="1.38" fill="#222" stroke="#fff" stroke-width="0.22"/>
<circle cx="516.26" cy="146.82" r="1.38" fill="#222" stroke="#fff" stroke-width="0.22"/>
<circle cx="515.66" cy="150.49" r="1.38" fill="#222" stroke="#fff" stroke-width="0.22"/>
<circle cx="514.06" cy="154.38" r="1.38" fill="#222" stroke="#fff" stroke-width="0.22"/>
<circle cx="514.76" cy="156.56" r="1.38" fill="#222" stroke="#fff" stroke-width="0.22"/>
<circle cx="512.76" cy="158.85" r="1.38" fill="#222" stroke="#fff" stroke-width="0.22"/>
<circle cx="515.66" cy="158.85" r="1.38" fill="#222" stroke="#fff" stroke-width="0.22"/>
<line x1="534.73" x2="534.73" y1="157.02" y2="157.02" stroke="#5590c8" stroke-width="1.0" stroke-linecap="square"/>
<line x1="534.73" x2="534.73" y1="160.00" y2="160.00" stroke="#5590c8" stroke-width="1.0" stroke-linecap="square"/>
<line x1="530.73" x2="538.72" y1="157.02" y2="157.02" stroke="#5590c8" stroke-width="1.0" stroke-linecap="square"/>
<line x1="530.73" x2="538.72" y1="160.00" y2="160.00" stroke="#5590c8" stroke-width="1.0" stroke-linecap="square"/>
<rect x="526.74" y="157.02" width="15.98" height="2.98" fill="#8fd4e9" stroke="#5590c8" stroke-width="1.0" stroke-linecap="square"/>
<line x1="526.74" x2="542.72" y1="159.20" y2="159.20" stroke="#111" stroke-width="1.45"/>
<circle cx="535.43" cy="105.68" r="1.38" fill="#222" stroke="#fff" stroke-width="0.22"/>
<circle cx="533.23" cy="129.29" r="1.38" fill="#222" stroke="#fff" stroke-width="0.22"/>
<circle cx="535.43" cy="130.20" r="1.38" fill="#222" stroke="#fff" stroke-width="0.22"/>
<circle cx="536.33" cy="139.14" r="1.38" fill="#222" stroke="#fff" stroke-width="0.22"/>
<circle cx="532.73" cy="140.86" r="1.38" fill="#222" stroke="#fff" stroke-width="0.22"/>
<circle cx="535.83" cy="154.38" r="1.38" fill="#222" stroke="#fff" stroke-width="0.22"/>
<circle cx="534.33" cy="157.02" r="1.38" fill="#222" stroke="#fff" stroke-width="0.22"/>
<circle cx="535.83" cy="158.28" r="1.38" fill="#222" stroke="#fff" stroke-width="0.22"/>
<circle cx="533.73" cy="160.00" r="1.38" fill="#222" stroke="#fff" stroke-width="0.22"/>
<circle cx="535.23" cy="160.00" r="1.38" fill="#222" stroke="#fff" stroke-width="0.22"/>
<line x1="554.70" x2="554.70" y1="153.01" y2="145.79" stroke="#5590c8" stroke-width="1.0" stroke-linecap="square"/>
<line x1="554.70" x2="554.70" y1="159.77" y2="160.00" stroke="#5590c8" stroke-width="1.0" stroke-linecap="square"/>
<line x1="550.70" x2="558.69" y1="145.79" y2="145.79" stroke="#5590c8" stroke-width="1.0" stroke-linecap="square"/>
<line x1="550.70" x2="558.69" y1="160.00" y2="160.00" stroke="#5590c8" stroke-width="1.0" stroke-linecap="square"/>
<rect x="546.71" y="153.01" width="15.98" height="6.76" fill="#8fd4e9" stroke="#5590c8" stroke-width="1.0" stroke-linecap="square"/>
<line x1="546.71" x2="562.68" y1="159.20" y2="159.20" stroke="#111" stroke-width="1.45"/>
<circle cx="553.40" cy="86.08" r="1.38" fill="#222" stroke="#fff" stroke-width="0.22"/>
<circle cx="555.30" cy="108.54" r="1.38" fill="#222" stroke="#fff" stroke-width="0.22"/>
<circle cx="554.70" cy="117.48" r="1.38" fill="#222" stroke="#fff" stroke-width="0.22"/>
<circle cx="555.30" cy="122.53" r="1.38" fill="#222" stroke="#fff" stroke-width="0.22"/>
<circle cx="553.90" cy="136.05" r="1.38" fill="#222" stroke="#fff" stroke-width="0.22"/>
<circle cx="555.30" cy="145.79" r="1.38" fill="#222" stroke="#fff" stroke-width="0.22"/>
<circle cx="556.10" cy="149.00" r="1.38" fill="#222" stroke="#fff" stroke-width="0.22"/>
<circle cx="554.70" cy="152.21" r="1.38" fill="#222" stroke="#fff" stroke-width="0.22"/>
<circle cx="553.40" cy="154.38" r="1.38" fill="#222" stroke="#fff" stroke-width="0.22"/>
<circle cx="555.30" cy="156.22" r="1.38" fill="#222" stroke="#fff" stroke-width="0.22"/>
<circle cx="552.70" cy="157.02" r="1.38" fill="#222" stroke="#fff" stroke-width="0.22"/>
<circle cx="553.90" cy="159.20" r="1.38" fill="#222" stroke="#fff" stroke-width="0.22"/>
<circle cx="555.60" cy="159.77" r="1.38" fill="#222" stroke="#fff" stroke-width="0.22"/>
<line x1="574.67" x2="574.67" y1="92.27" y2="74.16" stroke="#5590c8" stroke-width="1.0" stroke-linecap="square"/>
<line x1="574.67" x2="574.67" y1="133.30" y2="156.22" stroke="#5590c8" stroke-width="1.0" stroke-linecap="square"/>
<line x1="570.67" x2="578.66" y1="74.16" y2="74.16" stroke="#5590c8" stroke-width="1.0" stroke-linecap="square"/>
<line x1="570.67" x2="578.66" y1="156.22" y2="156.22" stroke="#5590c8" stroke-width="1.0" stroke-linecap="square"/>
<rect x="566.68" y="92.27" width="15.98" height="41.03" fill="#8fd4e9" stroke="#5590c8" stroke-width="1.0" stroke-linecap="square"/>
<line x1="566.68" x2="582.65" y1="110.72" y2="110.72" stroke="#111" stroke-width="1.45"/>
<circle cx="574.37" cy="74.16" r="1.38" fill="#222" stroke="#fff" stroke-width="0.22"/>
<circle cx="574.37" cy="110.72" r="1.38" fill="#222" stroke="#fff" stroke-width="0.22"/>
<circle cx="574.37" cy="156.22" r="1.38" fill="#222" stroke="#fff" stroke-width="0.22"/>
<line x1="594.64" x2="594.64" y1="139.49" y2="115.99" stroke="#5590c8" stroke-width="1.0" stroke-linecap="square"/>
<line x1="594.64" x2="594.64" y1="158.40" y2="160.00" stroke="#5590c8" stroke-width="1.0" stroke-linecap="square"/>
<line x1="590.64" x2="598.63" y1="115.99" y2="115.99" stroke="#5590c8" stroke-width="1.0" stroke-linecap="square"/>
<line x1="590.64" x2="598.63" y1="160.00" y2="160.00" stroke="#5590c8" stroke-width="1.0" stroke-linecap="square"/>
<rect x="586.65" y="139.49" width="15.98" height="18.91" fill="#8fd4e9" stroke="#5590c8" stroke-width="1.0" stroke-linecap="square"/>
<line x1="586.65" x2="602.62" y1="156.56" y2="156.56" stroke="#111" stroke-width="1.45"/>
<circle cx="595.04" cy="81.50" r="1.38" fill="#222" stroke="#fff" stroke-width="0.22"/>
<circle cx="595.84" cy="86.89" r="1.38" fill="#222" stroke="#fff" stroke-width="0.22"/>
<circle cx="594.64" cy="115.99" r="1.38" fill="#222" stroke="#fff" stroke-width="0.22"/>
<circle cx="595.04" cy="126.08" r="1.38" fill="#222" stroke="#fff" stroke-width="0.22"/>
<circle cx="592.94" cy="136.85" r="1.38" fill="#222" stroke="#fff" stroke-width="0.22"/>
<circle cx="593.24" cy="139.49" r="1.38" fill="#222" stroke="#fff" stroke-width="0.22"/>
<circle cx="595.84" cy="150.26" r="1.38" fill="#222" stroke="#fff" stroke-width="0.22"/>
<circle cx="592.94" cy="154.27" r="1.38" fill="#222" stroke="#fff" stroke-width="0.22"/>
<circle cx="595.04" cy="155.42" r="1.38" fill="#222" stroke="#fff" stroke-width="0.22"/>
<circle cx="593.74" cy="158.40" r="1.38" fill="#222" stroke="#fff" stroke-width="0.22"/>
<circle cx="595.84" cy="158.40" r="1.38" fill="#222" stroke="#fff" stroke-width="0.22"/>
<line x1="614.61" x2="614.61" y1="160.00" y2="160.00" stroke="#5590c8" stroke-width="1.0" stroke-linecap="square"/>
<line x1="614.61" x2="614.61" y1="160.00" y2="160.00" stroke="#5590c8" stroke-width="1.0" stroke-linecap="square"/>
<line x1="610.61" x2="618.60" y1="160.00" y2="160.00" stroke="#5590c8" stroke-width="1.0" stroke-linecap="square"/>
<line x1="610.61" x2="618.60" y1="160.00" y2="160.00" stroke="#5590c8" stroke-width="1.0" stroke-linecap="square"/>
<rect x="606.62" y="160.00" width="15.98" height="0.01" fill="#8fd4e9" stroke="#5590c8" stroke-width="1.0" stroke-linecap="square"/>
<line x1="606.62" x2="622.59" y1="160.00" y2="160.00" stroke="#111" stroke-width="1.45"/>
<circle cx="615.11" cy="78.29" r="1.38" fill="#222" stroke="#fff" stroke-width="0.22"/>
<circle cx="614.41" cy="119.32" r="1.38" fill="#222" stroke="#fff" stroke-width="0.22"/>
<circle cx="616.01" cy="135.48" r="1.38" fill="#222" stroke="#fff" stroke-width="0.22"/>
<circle cx="613.41" cy="144.07" r="1.38" fill="#222" stroke="#fff" stroke-width="0.22"/>
<circle cx="615.11" cy="151.98" r="1.38" fill="#222" stroke="#fff" stroke-width="0.22"/>
<circle cx="612.81" cy="160.00" r="1.38" fill="#222" stroke="#fff" stroke-width="0.22"/>
<circle cx="614.41" cy="160.00" r="1.38" fill="#222" stroke="#fff" stroke-width="0.22"/>
<circle cx="616.41" cy="160.00" r="1.38" fill="#222" stroke="#fff" stroke-width="0.22"/>
<line x1="634.58" x2="634.58" y1="155.87" y2="155.87" stroke="#5590c8" stroke-width="1.0" stroke-linecap="square"/>
<line x1="634.58" x2="634.58" y1="160.00" y2="160.00" stroke="#5590c8" stroke-width="1.0" stroke-linecap="square"/>
<line x1="630.58" x2="638.57" y1="155.87" y2="155.87" stroke="#5590c8" stroke-width="1.0" stroke-linecap="square"/>
<line x1="630.58" x2="638.57" y1="160.00" y2="160.00" stroke="#5590c8" stroke-width="1.0" stroke-linecap="square"/>
<rect x="626.59" y="155.87" width="15.98" height="4.13" fill="#8fd4e9" stroke="#5590c8" stroke-width="1.0" stroke-linecap="square"/>
<line x1="626.59" x2="642.56" y1="160.00" y2="160.00" stroke="#111" stroke-width="1.45"/>
<circle cx="634.58" cy="76.00" r="1.38" fill="#222" stroke="#fff" stroke-width="0.22"/>
<circle cx="632.88" cy="124.82" r="1.38" fill="#222" stroke="#fff" stroke-width="0.22"/>
<circle cx="634.58" cy="133.76" r="1.38" fill="#222" stroke="#fff" stroke-width="0.22"/>
<circle cx="633.58" cy="137.65" r="1.38" fill="#222" stroke="#fff" stroke-width="0.22"/>
<circle cx="635.08" cy="146.59" r="1.38" fill="#222" stroke="#fff" stroke-width="0.22"/>
<circle cx="633.58" cy="155.87" r="1.38" fill="#222" stroke="#fff" stroke-width="0.22"/>
<circle cx="635.08" cy="155.87" r="1.38" fill="#222" stroke="#fff" stroke-width="0.22"/>
<circle cx="632.78" cy="160.00" r="1.38" fill="#222" stroke="#fff" stroke-width="0.22"/>
<circle cx="633.98" cy="160.00" r="1.38" fill="#222" stroke="#fff" stroke-width="0.22"/>
<circle cx="635.18" cy="160.00" r="1.38" fill="#222" stroke="#fff" stroke-width="0.22"/>
<circle cx="636.38" cy="160.00" r="1.38" fill="#222" stroke="#fff" stroke-width="0.22"/>
<line x1="654.55" x2="654.55" y1="117.71" y2="117.71" stroke="#5590c8" stroke-width="1.0" stroke-linecap="square"/>
<line x1="654.55" x2="654.55" y1="143.04" y2="149.46" stroke="#5590c8" stroke-width="1.0" stroke-linecap="square"/>
<line x1="650.55" x2="658.54" y1="117.71" y2="117.71" stroke="#5590c8" stroke-width="1.0" stroke-linecap="square"/>
<line x1="650.55" x2="658.54" y1="149.46" y2="149.46" stroke="#5590c8" stroke-width="1.0" stroke-linecap="square"/>
<rect x="646.56" y="117.71" width="15.98" height="25.33" fill="#8fd4e9" stroke="#5590c8" stroke-width="1.0" stroke-linecap="square"/>
<line x1="646.56" x2="662.53" y1="120.92" y2="120.92" stroke="#111" stroke-width="1.45"/>
<circle cx="653.65" cy="50.33" r="1.38" fill="#222" stroke="#fff" stroke-width="0.22"/>
<circle cx="653.35" cy="117.71" r="1.38" fill="#222" stroke="#fff" stroke-width="0.22"/>
<circle cx="655.95" cy="117.71" r="1.38" fill="#222" stroke="#fff" stroke-width="0.22"/>
<circle cx="652.75" cy="123.33" r="1.38" fill="#222" stroke="#fff" stroke-width="0.22"/>
<circle cx="652.75" cy="149.46" r="1.38" fill="#222" stroke="#fff" stroke-width="0.22"/>
<circle cx="655.95" cy="149.46" r="1.38" fill="#222" stroke="#fff" stroke-width="0.22"/>
<line x1="674.52" x2="674.52" y1="139.26" y2="117.71" stroke="#5590c8" stroke-width="1.0" stroke-linecap="square"/>
<line x1="674.52" x2="674.52" y1="160.00" y2="160.00" stroke="#5590c8" stroke-width="1.0" stroke-linecap="square"/>
<line x1="670.52" x2="678.51" y1="117.71" y2="117.71" stroke="#5590c8" stroke-width="1.0" stroke-linecap="square"/>
<line x1="670.52" x2="678.51" y1="160.00" y2="160.00" stroke="#5590c8" stroke-width="1.0" stroke-linecap="square"/>
<rect x="666.53" y="139.26" width="15.98" height="20.74" fill="#8fd4e9" stroke="#5590c8" stroke-width="1.0" stroke-linecap="square"/>
<line x1="666.53" x2="682.50" y1="160.00" y2="160.00" stroke="#111" stroke-width="1.45"/>
<circle cx="675.12" cy="117.71" r="1.38" fill="#222" stroke="#fff" stroke-width="0.22"/>
<circle cx="675.12" cy="160.00" r="1.38" fill="#222" stroke="#fff" stroke-width="0.22"/>
<rect x="25.5" y="45.4" width="659.0" height="119.94999999999999" fill="none" stroke="#8a8a8a" stroke-width="1"/>
<line x1="23.5" x2="25.5" y1="160.00" y2="160.00" stroke="#8a8a8a" stroke-width="0.8"/>
<text transform="translate(10.39,162.65)" y="0" font-size="7.86" fill="#222" font-weight="normal" stroke="#222" stroke-width="0.12"><tspan x="0.17" textLength="4.30" lengthAdjust="spacingAndGlyphs">0</tspan><tspan x="4.75" textLength="2.14" lengthAdjust="spacingAndGlyphs">.</tspan><tspan x="7.18" textLength="4.30" lengthAdjust="spacingAndGlyphs">0</tspan></text>
<line x1="23.5" x2="25.5" y1="137.08" y2="137.08" stroke="#8a8a8a" stroke-width="0.8"/>
<text transform="translate(10.65,139.73)" y="0" font-size="7.86" fill="#222" font-weight="normal" stroke="#222" stroke-width="0.12"><tspan x="0.17" textLength="4.30" lengthAdjust="spacingAndGlyphs">0</tspan><tspan x="4.75" textLength="2.14" lengthAdjust="spacingAndGlyphs">.</tspan><tspan x="7.15" textLength="4.18" lengthAdjust="spacingAndGlyphs">2</tspan></text>
<line x1="23.5" x2="25.5" y1="114.16" y2="114.16" stroke="#8a8a8a" stroke-width="0.8"/>
<text transform="translate(10.32,116.81)" y="0" font-size="7.86" fill="#222" font-weight="normal" stroke="#222" stroke-width="0.12"><tspan x="0.17" textLength="4.30" lengthAdjust="spacingAndGlyphs">0</tspan><tspan x="4.75" textLength="2.14" lengthAdjust="spacingAndGlyphs">.</tspan><tspan x="7.23" textLength="4.25" lengthAdjust="spacingAndGlyphs">4</tspan></text>
<line x1="23.5" x2="25.5" y1="91.24" y2="91.24" stroke="#8a8a8a" stroke-width="0.8"/>
<text transform="translate(10.35,93.89)" y="0" font-size="7.86" fill="#222" font-weight="normal" stroke="#222" stroke-width="0.12"><tspan x="0.17" textLength="4.30" lengthAdjust="spacingAndGlyphs">0</tspan><tspan x="4.75" textLength="2.14" lengthAdjust="spacingAndGlyphs">.</tspan><tspan x="7.13" textLength="4.44" lengthAdjust="spacingAndGlyphs">6</tspan></text>
<line x1="23.5" x2="25.5" y1="68.32" y2="68.32" stroke="#8a8a8a" stroke-width="0.8"/>
<text transform="translate(10.39,70.97)" y="0" font-size="7.86" fill="#222" font-weight="normal" stroke="#222" stroke-width="0.12"><tspan x="0.17" textLength="4.30" lengthAdjust="spacingAndGlyphs">0</tspan><tspan x="4.75" textLength="2.14" lengthAdjust="spacingAndGlyphs">.</tspan><tspan x="7.18" textLength="4.35" lengthAdjust="spacingAndGlyphs">8</tspan></text>
<line x1="23.5" x2="25.5" y1="45.40" y2="45.40" stroke="#8a8a8a" stroke-width="0.8"/>
<text transform="translate(10.39,48.05)" y="0" font-size="7.86" fill="#222" font-weight="normal" stroke="#222" stroke-width="0.12"><tspan x="0.26" textLength="4.09" lengthAdjust="spacingAndGlyphs">1</tspan><tspan x="4.75" textLength="2.14" lengthAdjust="spacingAndGlyphs">.</tspan><tspan x="7.18" textLength="4.30" lengthAdjust="spacingAndGlyphs">0</tspan></text>
<line x1="35.48" x2="35.48" y1="165.35" y2="167.35" stroke="#8a8a8a" stroke-width="0.8"/>
<text transform="translate(37.98,189.04) rotate(-90)" y="0" font-size="7.86" fill="#222" font-weight="normal" stroke="#222" stroke-width="0.12"><tspan x="0.04" textLength="4.94" lengthAdjust="spacingAndGlyphs">A</tspan><tspan x="5.15" textLength="4.76" lengthAdjust="spacingAndGlyphs">B</tspan><tspan x="10.20" textLength="4.76" lengthAdjust="spacingAndGlyphs">B</tspan><tspan x="15.11" textLength="4.98" lengthAdjust="spacingAndGlyphs">V</tspan></text>
<line x1="55.45" x2="55.45" y1="165.35" y2="167.35" stroke="#8a8a8a" stroke-width="0.8"/>
<text transform="translate(57.95,196.51) rotate(-90)" y="0" font-size="7.86" fill="#222" font-weight="normal" stroke="#222" stroke-width="0.12"><tspan x="0.04" textLength="4.94" lengthAdjust="spacingAndGlyphs">A</tspan><tspan x="5.15" textLength="4.76" lengthAdjust="spacingAndGlyphs">B</tspan><tspan x="10.20" textLength="4.76" lengthAdjust="spacingAndGlyphs">B</tspan><tspan x="15.11" textLength="4.98" lengthAdjust="spacingAndGlyphs">V</tspan><tspan x="19.88" textLength="2.26" lengthAdjust="spacingAndGlyphs">I</tspan><tspan x="22.17" textLength="5.49" lengthAdjust="spacingAndGlyphs">D</tspan></text>
<line x1="75.42" x2="75.42" y1="165.35" y2="167.35" stroke="#8a8a8a" stroke-width="0.8"/>
<text transform="translate(77.92,198.42) rotate(-90)" y="0" font-size="7.86" fill="#222" font-weight="normal" stroke="#222" stroke-width="0.12"><tspan x="0.04" textLength="4.94" lengthAdjust="spacingAndGlyphs">A</tspan><tspan x="5.15" textLength="4.76" lengthAdjust="spacingAndGlyphs">B</tspan><tspan x="10.20" textLength="4.76" lengthAdjust="spacingAndGlyphs">B</tspan><tspan x="15.11" textLength="4.98" lengthAdjust="spacingAndGlyphs">V</tspan><tspan x="20.00" textLength="4.23" lengthAdjust="spacingAndGlyphs">L</tspan><tspan x="24.10" textLength="5.49" lengthAdjust="spacingAndGlyphs">D</tspan></text>
<line x1="95.39" x2="95.39" y1="165.35" y2="167.35" stroke="#8a8a8a" stroke-width="0.8"/>
<text transform="translate(97.89,199.00) rotate(-90)" y="0" font-size="7.86" fill="#222" font-weight="normal" stroke="#222" stroke-width="0.12"><tspan x="0.04" textLength="4.94" lengthAdjust="spacingAndGlyphs">A</tspan><tspan x="5.15" textLength="4.76" lengthAdjust="spacingAndGlyphs">B</tspan><tspan x="10.20" textLength="4.76" lengthAdjust="spacingAndGlyphs">B</tspan><tspan x="15.11" textLength="4.98" lengthAdjust="spacingAndGlyphs">V</tspan><tspan x="20.10" textLength="4.39" lengthAdjust="spacingAndGlyphs">S</tspan><tspan x="24.67" textLength="5.49" lengthAdjust="spacingAndGlyphs">D</tspan></text>
<line x1="115.36" x2="115.36" y1="165.35" y2="167.35" stroke="#8a8a8a" stroke-width="0.8"/>
<text transform="translate(117.86,190.51) rotate(-90)" y="0" font-size="7.86" fill="#222" font-weight="normal" stroke="#222" stroke-width="0.12"><tspan x="0.04" textLength="4.94" lengthAdjust="spacingAndGlyphs">A</tspan><tspan x="5.14" textLength="6.12" lengthAdjust="spacingAndGlyphs">M</tspan><tspan x="11.41" textLength="5.59" lengthAdjust="spacingAndGlyphs">G</tspan><tspan x="17.28" textLength="4.25" lengthAdjust="spacingAndGlyphs">4</tspan></text>
<line x1="135.33" x2="135.33" y1="165.35" y2="167.35" stroke="#8a8a8a" stroke-width="0.8"/>
<text transform="translate(137.83,190.29) rotate(-90)" y="0" font-size="7.86" fill="#222" font-weight="normal" stroke="#222" stroke-width="0.12"><tspan x="0.04" textLength="4.94" lengthAdjust="spacingAndGlyphs">A</tspan><tspan x="5.14" textLength="6.12" lengthAdjust="spacingAndGlyphs">M</tspan><tspan x="11.41" textLength="5.59" lengthAdjust="spacingAndGlyphs">G</tspan><tspan x="17.27" textLength="4.22" lengthAdjust="spacingAndGlyphs">7</tspan></text>
<line x1="155.30" x2="155.30" y1="165.35" y2="167.35" stroke="#8a8a8a" stroke-width="0.8"/>
<text transform="translate(157.80,180.30) rotate(-90)" y="0" font-size="7.86" fill="#222" font-weight="normal" stroke="#222" stroke-width="0.12"><tspan x="0.04" textLength="4.94" lengthAdjust="spacingAndGlyphs">A</tspan><tspan x="5.25" textLength="1.63" lengthAdjust="spacingAndGlyphs">l</tspan><tspan x="7.22" textLength="4.37" lengthAdjust="spacingAndGlyphs">n</tspan></text>
<line x1="175.27" x2="175.27" y1="165.35" y2="167.35" stroke="#8a8a8a" stroke-width="0.8"/>
<text transform="translate(177.77,179.09) rotate(-90)" y="0" font-size="7.86" fill="#222" font-weight="normal" stroke="#222" stroke-width="0.12"><tspan x="0.06" textLength="4.93" lengthAdjust="spacingAndGlyphs">C</tspan><tspan x="5.19" textLength="4.93" lengthAdjust="spacingAndGlyphs">C</tspan></text>
<line x1="195.24" x2="195.24" y1="165.35" y2="167.35" stroke="#8a8a8a" stroke-width="0.8"/>
<text transform="translate(197.74,187.32) rotate(-90)" y="0" font-size="7.86" fill="#222" font-weight="normal" stroke="#222" stroke-width="0.12"><tspan x="0.06" textLength="4.93" lengthAdjust="spacingAndGlyphs">C</tspan><tspan x="5.22" textLength="4.39" lengthAdjust="spacingAndGlyphs">e</tspan><tspan x="9.83" textLength="3.98" lengthAdjust="spacingAndGlyphs">v</tspan><tspan x="14.10" textLength="4.35" lengthAdjust="spacingAndGlyphs">o</tspan></text>
<line x1="215.21" x2="215.21" y1="165.35" y2="167.35" stroke="#8a8a8a" stroke-width="0.8"/>
<text transform="translate(217.71,178.90) rotate(-90)" y="0" font-size="7.86" fill="#222" font-weight="normal" stroke="#222" stroke-width="0.12"><tspan x="0.06" textLength="4.50" lengthAdjust="spacingAndGlyphs">E</tspan><tspan x="4.86" textLength="1.63" lengthAdjust="spacingAndGlyphs">l</tspan><tspan x="6.77" textLength="3.04" lengthAdjust="spacingAndGlyphs">r</tspan></text>
<line x1="235.18" x2="235.18" y1="165.35" y2="167.35" stroke="#8a8a8a" stroke-width="0.8"/>
<text transform="translate(237.68,187.35) rotate(-90)" y="0" font-size="7.86" fill="#222" font-weight="normal" stroke="#222" stroke-width="0.12"><tspan x="0.14" textLength="4.36" lengthAdjust="spacingAndGlyphs">E</tspan><tspan x="4.86" textLength="1.63" lengthAdjust="spacingAndGlyphs">l</tspan><tspan x="6.82" textLength="2.95" lengthAdjust="spacingAndGlyphs">r</tspan><tspan x="9.88" textLength="4.36" lengthAdjust="spacingAndGlyphs">P</tspan><tspan x="14.40" textLength="4.09" lengthAdjust="spacingAndGlyphs">1</tspan></text>
<line x1="255.15" x2="255.15" y1="165.35" y2="167.35" stroke="#8a8a8a" stroke-width="0.8"/>
<text transform="translate(257.65,192.54) rotate(-90)" y="0" font-size="7.86" fill="#222" font-weight="normal" stroke="#222" stroke-width="0.12"><tspan x="0.15" textLength="4.35" lengthAdjust="spacingAndGlyphs">E</tspan><tspan x="4.86" textLength="1.63" lengthAdjust="spacingAndGlyphs">l</tspan><tspan x="6.83" textLength="2.94" lengthAdjust="spacingAndGlyphs">r</tspan><tspan x="9.88" textLength="4.35" lengthAdjust="spacingAndGlyphs">P</tspan><tspan x="14.28" textLength="4.18" lengthAdjust="spacingAndGlyphs">2</tspan><tspan x="18.94" textLength="4.76" lengthAdjust="spacingAndGlyphs">B</tspan></text>
<line x1="275.12" x2="275.12" y1="165.35" y2="167.35" stroke="#8a8a8a" stroke-width="0.8"/>
<text transform="translate(277.62,173.02) rotate(-90)" y="0" font-size="7.86" fill="#222" font-weight="normal" stroke="#222" stroke-width="0.12"><tspan x="0.19" textLength="3.89" lengthAdjust="spacingAndGlyphs">F</tspan></text>
<line x1="295.09" x2="295.09" y1="165.35" y2="167.35" stroke="#8a8a8a" stroke-width="0.8"/>
<text transform="translate(297.59,188.46) rotate(-90)" y="0" font-size="7.86" fill="#222" font-weight="normal" stroke="#222" stroke-width="0.12"><tspan x="0.09" textLength="4.23" lengthAdjust="spacingAndGlyphs">L</tspan><tspan x="4.32" textLength="1.63" lengthAdjust="spacingAndGlyphs">i</tspan><tspan x="6.29" textLength="4.37" lengthAdjust="spacingAndGlyphs">n</tspan><tspan x="10.98" textLength="3.98" lengthAdjust="spacingAndGlyphs">v</tspan><tspan x="15.24" textLength="4.35" lengthAdjust="spacingAndGlyphs">o</tspan></text>
<line x1="315.06" x2="315.06" y1="165.35" y2="167.35" stroke="#8a8a8a" stroke-width="0.8"/>
<text transform="translate(317.56,202.31) rotate(-90)" y="0" font-size="7.86" fill="#222" font-weight="normal" stroke="#222" stroke-width="0.12"><tspan x="0.13" textLength="5.08" lengthAdjust="spacingAndGlyphs">R</tspan><tspan x="5.36" textLength="4.09" lengthAdjust="spacingAndGlyphs">5</tspan><tspan x="10.00" textLength="4.25" lengthAdjust="spacingAndGlyphs">4</tspan><tspan x="14.72" textLength="4.09" lengthAdjust="spacingAndGlyphs">5</tspan><tspan x="19.30" textLength="4.35" lengthAdjust="spacingAndGlyphs">8</tspan><tspan x="23.90" textLength="5.21" lengthAdjust="spacingAndGlyphs">U</tspan><tspan x="29.33" textLength="4.18" lengthAdjust="spacingAndGlyphs">2</tspan></text>
<line x1="335.03" x2="335.03" y1="165.35" y2="167.35" stroke="#8a8a8a" stroke-width="0.8"/>
<text transform="translate(337.53,202.46) rotate(-90)" y="0" font-size="7.86" fill="#222" font-weight="normal" stroke="#222" stroke-width="0.12"><tspan x="0.13" textLength="5.08" lengthAdjust="spacingAndGlyphs">R</tspan><tspan x="5.36" textLength="4.09" lengthAdjust="spacingAndGlyphs">5</tspan><tspan x="10.00" textLength="4.25" lengthAdjust="spacingAndGlyphs">4</tspan><tspan x="14.72" textLength="4.09" lengthAdjust="spacingAndGlyphs">5</tspan><tspan x="19.30" textLength="4.35" lengthAdjust="spacingAndGlyphs">8</tspan><tspan x="23.90" textLength="5.21" lengthAdjust="spacingAndGlyphs">U</tspan><tspan x="29.49" textLength="4.09" lengthAdjust="spacingAndGlyphs">3</tspan></text>
<line x1="355.00" x2="355.00" y1="165.35" y2="167.35" stroke="#8a8a8a" stroke-width="0.8"/>
<text transform="translate(357.50,197.17) rotate(-90)" y="0" font-size="7.86" fill="#222" font-weight="normal" stroke="#222" stroke-width="0.12"><tspan x="0.13" textLength="5.08" lengthAdjust="spacingAndGlyphs">R</tspan><tspan x="5.19" textLength="4.46" lengthAdjust="spacingAndGlyphs">E</tspan><tspan x="10.01" textLength="4.09" lengthAdjust="spacingAndGlyphs">5</tspan><tspan x="14.64" textLength="4.25" lengthAdjust="spacingAndGlyphs">4</tspan><tspan x="19.36" textLength="4.09" lengthAdjust="spacingAndGlyphs">5</tspan><tspan x="23.95" textLength="4.35" lengthAdjust="spacingAndGlyphs">8</tspan></text>
<line x1="374.97" x2="374.97" y1="165.35" y2="167.35" stroke="#8a8a8a" stroke-width="0.8"/>
<text transform="translate(377.47,202.24) rotate(-90)" y="0" font-size="7.86" fill="#222" font-weight="normal" stroke="#222" stroke-width="0.12"><tspan x="-0.20" textLength="4.88" lengthAdjust="spacingAndGlyphs">T</tspan><tspan x="4.58" textLength="3.84" lengthAdjust="spacingAndGlyphs">a</tspan><tspan x="8.00" textLength="1.63" lengthAdjust="spacingAndGlyphs">l</tspan><tspan x="10.17" textLength="5.46" lengthAdjust="spacingAndGlyphs">+</tspan><tspan x="16.07" textLength="5.49" lengthAdjust="spacingAndGlyphs">D</tspan><tspan x="21.73" textLength="3.84" lengthAdjust="spacingAndGlyphs">a</tspan><tspan x="26.20" textLength="3.07" lengthAdjust="spacingAndGlyphs">r</tspan><tspan x="29.26" textLength="3.84" lengthAdjust="spacingAndGlyphs">a</tspan></text>
<line x1="394.94" x2="394.94" y1="165.35" y2="167.35" stroke="#8a8a8a" stroke-width="0.8"/>
<text transform="translate(397.44,200.40) rotate(-90)" y="0" font-size="7.86" fill="#222" font-weight="normal" stroke="#222" stroke-width="0.12"><tspan x="-0.20" textLength="4.88" lengthAdjust="spacingAndGlyphs">T</tspan><tspan x="4.64" textLength="3.73" lengthAdjust="spacingAndGlyphs">a</tspan><tspan x="8.00" textLength="1.63" lengthAdjust="spacingAndGlyphs">l</tspan><tspan x="10.25" textLength="5.30" lengthAdjust="spacingAndGlyphs">+</tspan><tspan x="16.09" textLength="4.48" lengthAdjust="spacingAndGlyphs">P</tspan><tspan x="20.50" textLength="4.35" lengthAdjust="spacingAndGlyphs">o</tspan><tspan x="24.76" textLength="6.95" lengthAdjust="spacingAndGlyphs">m</tspan></text>
<line x1="414.91" x2="414.91" y1="165.35" y2="167.35" stroke="#8a8a8a" stroke-width="0.8"/>
<text transform="translate(417.41,202.35) rotate(-90)" y="0" font-size="7.86" fill="#222" font-weight="normal" stroke="#222" stroke-width="0.12"><tspan x="-0.20" textLength="4.88" lengthAdjust="spacingAndGlyphs">T</tspan><tspan x="4.66" textLength="3.70" lengthAdjust="spacingAndGlyphs">a</tspan><tspan x="8.00" textLength="1.63" lengthAdjust="spacingAndGlyphs">l</tspan><tspan x="10.03" textLength="4.25" lengthAdjust="spacingAndGlyphs">4</tspan><tspan x="14.66" textLength="4.30" lengthAdjust="spacingAndGlyphs">0</tspan><tspan x="19.43" textLength="4.09" lengthAdjust="spacingAndGlyphs">5</tspan><tspan x="23.93" textLength="5.21" lengthAdjust="spacingAndGlyphs">U</tspan><tspan x="29.37" textLength="4.18" lengthAdjust="spacingAndGlyphs">2</tspan></text>
<line x1="434.88" x2="434.88" y1="165.35" y2="167.35" stroke="#8a8a8a" stroke-width="0.8"/>
<text transform="translate(437.38,202.35) rotate(-90)" y="0" font-size="7.86" fill="#222" font-weight="normal" stroke="#222" stroke-width="0.12"><tspan x="-0.20" textLength="4.88" lengthAdjust="spacingAndGlyphs">T</tspan><tspan x="4.66" textLength="3.70" lengthAdjust="spacingAndGlyphs">a</tspan><tspan x="8.00" textLength="1.63" lengthAdjust="spacingAndGlyphs">l</tspan><tspan x="9.98" textLength="4.35" lengthAdjust="spacingAndGlyphs">8</tspan><tspan x="14.66" textLength="4.30" lengthAdjust="spacingAndGlyphs">0</tspan><tspan x="19.34" textLength="4.30" lengthAdjust="spacingAndGlyphs">0</tspan><tspan x="23.93" textLength="5.21" lengthAdjust="spacingAndGlyphs">U</tspan><tspan x="29.37" textLength="4.18" lengthAdjust="spacingAndGlyphs">2</tspan></text>
<line x1="454.85" x2="454.85" y1="165.35" y2="167.35" stroke="#8a8a8a" stroke-width="0.8"/>
<text transform="translate(457.35,186.14) rotate(-90)" y="0" font-size="7.86" fill="#222" font-weight="normal" stroke="#222" stroke-width="0.12"><tspan x="-0.20" textLength="4.88" lengthAdjust="spacingAndGlyphs">T</tspan><tspan x="4.67" textLength="3.69" lengthAdjust="spacingAndGlyphs">a</tspan><tspan x="8.00" textLength="1.63" lengthAdjust="spacingAndGlyphs">l</tspan><tspan x="9.79" textLength="2.26" lengthAdjust="spacingAndGlyphs">I</tspan><tspan x="11.99" textLength="4.98" lengthAdjust="spacingAndGlyphs">V</tspan></text>
<line x1="474.82" x2="474.82" y1="165.35" y2="167.35" stroke="#8a8a8a" stroke-width="0.8"/>
<text transform="translate(477.32,188.42) rotate(-90)" y="0" font-size="7.86" fill="#222" font-weight="normal" stroke="#222" stroke-width="0.12"><tspan x="-0.20" textLength="4.88" lengthAdjust="spacingAndGlyphs">T</tspan><tspan x="4.67" textLength="3.69" lengthAdjust="spacingAndGlyphs">a</tspan><tspan x="8.00" textLength="1.63" lengthAdjust="spacingAndGlyphs">l</tspan><tspan x="10.00" textLength="4.39" lengthAdjust="spacingAndGlyphs">S</tspan><tspan x="14.55" textLength="4.93" lengthAdjust="spacingAndGlyphs">C</tspan></text>
<line x1="494.79" x2="494.79" y1="165.35" y2="167.35" stroke="#8a8a8a" stroke-width="0.8"/>
<text transform="translate(497.29,193.97) rotate(-90)" y="0" font-size="7.86" fill="#222" font-weight="normal" stroke="#222" stroke-width="0.12"><tspan x="-0.20" textLength="4.88" lengthAdjust="spacingAndGlyphs">T</tspan><tspan x="4.67" textLength="3.69" lengthAdjust="spacingAndGlyphs">a</tspan><tspan x="8.00" textLength="1.63" lengthAdjust="spacingAndGlyphs">l</tspan><tspan x="9.84" textLength="3.63" lengthAdjust="spacingAndGlyphs">_</tspan><tspan x="13.66" textLength="4.30" lengthAdjust="spacingAndGlyphs">0</tspan><tspan x="18.25" textLength="2.14" lengthAdjust="spacingAndGlyphs">.</tspan><tspan x="20.72" textLength="4.25" lengthAdjust="spacingAndGlyphs">4</tspan></text>
<line x1="514.76" x2="514.76" y1="165.35" y2="167.35" stroke="#8a8a8a" stroke-width="0.8"/>
<text transform="translate(517.26,193.90) rotate(-90)" y="0" font-size="7.86" fill="#222" font-weight="normal" stroke="#222" stroke-width="0.12"><tspan x="-0.20" textLength="4.88" lengthAdjust="spacingAndGlyphs">T</tspan><tspan x="4.67" textLength="3.69" lengthAdjust="spacingAndGlyphs">a</tspan><tspan x="8.00" textLength="1.63" lengthAdjust="spacingAndGlyphs">l</tspan><tspan x="9.84" textLength="3.63" lengthAdjust="spacingAndGlyphs">_</tspan><tspan x="13.66" textLength="4.30" lengthAdjust="spacingAndGlyphs">0</tspan><tspan x="18.25" textLength="2.14" lengthAdjust="spacingAndGlyphs">.</tspan><tspan x="20.67" textLength="4.35" lengthAdjust="spacingAndGlyphs">8</tspan></text>
<line x1="534.73" x2="534.73" y1="165.35" y2="167.35" stroke="#8a8a8a" stroke-width="0.8"/>
<text transform="translate(537.23,196.76) rotate(-90)" y="0" font-size="7.86" fill="#222" font-weight="normal" stroke="#222" stroke-width="0.12"><tspan x="-0.19" textLength="4.88" lengthAdjust="spacingAndGlyphs">T</tspan><tspan x="4.67" textLength="3.69" lengthAdjust="spacingAndGlyphs">a</tspan><tspan x="8.00" textLength="1.63" lengthAdjust="spacingAndGlyphs">l</tspan><tspan x="9.84" textLength="3.63" lengthAdjust="spacingAndGlyphs">_</tspan><tspan x="13.30" textLength="4.88" lengthAdjust="spacingAndGlyphs">T</tspan><tspan x="18.05" textLength="4.93" lengthAdjust="spacingAndGlyphs">C</tspan><tspan x="22.82" textLength="5.08" lengthAdjust="spacingAndGlyphs">R</tspan></text>
<line x1="554.70" x2="554.70" y1="165.35" y2="167.35" stroke="#8a8a8a" stroke-width="0.8"/>
<text transform="translate(557.20,180.56) rotate(-90)" y="0" font-size="7.86" fill="#222" font-weight="normal" stroke="#222" stroke-width="0.12"><tspan x="-0.20" textLength="4.88" lengthAdjust="spacingAndGlyphs">T</tspan><tspan x="4.58" textLength="4.39" lengthAdjust="spacingAndGlyphs">e</tspan><tspan x="7.87" textLength="3.67" lengthAdjust="spacingAndGlyphs">c</tspan></text>
<line x1="574.67" x2="574.67" y1="165.35" y2="167.35" stroke="#8a8a8a" stroke-width="0.8"/>
<text transform="translate(577.17,196.28) rotate(-90)" y="0" font-size="7.86" fill="#222" font-weight="normal" stroke="#222" stroke-width="0.12"><tspan x="-0.20" textLength="4.88" lengthAdjust="spacingAndGlyphs">T</tspan><tspan x="4.58" textLength="4.39" lengthAdjust="spacingAndGlyphs">e</tspan><tspan x="7.87" textLength="3.67" lengthAdjust="spacingAndGlyphs">c</tspan><tspan x="12.32" textLength="5.13" lengthAdjust="spacingAndGlyphs">+</tspan><tspan x="17.77" textLength="4.88" lengthAdjust="spacingAndGlyphs">T</tspan><tspan x="22.63" textLength="3.69" lengthAdjust="spacingAndGlyphs">a</tspan><tspan x="25.96" textLength="1.63" lengthAdjust="spacingAndGlyphs">l</tspan></text>
<line x1="594.64" x2="594.64" y1="165.35" y2="167.35" stroke="#8a8a8a" stroke-width="0.8"/>
<text transform="translate(597.14,201.72) rotate(-90)" y="0" font-size="7.86" fill="#222" font-weight="normal" stroke="#222" stroke-width="0.12"><tspan x="-0.20" textLength="4.88" lengthAdjust="spacingAndGlyphs">T</tspan><tspan x="4.58" textLength="4.39" lengthAdjust="spacingAndGlyphs">e</tspan><tspan x="7.87" textLength="3.67" lengthAdjust="spacingAndGlyphs">c</tspan><tspan x="12.33" textLength="5.11" lengthAdjust="spacingAndGlyphs">+</tspan><tspan x="17.77" textLength="4.88" lengthAdjust="spacingAndGlyphs">T</tspan><tspan x="22.63" textLength="3.69" lengthAdjust="spacingAndGlyphs">a</tspan><tspan x="25.96" textLength="1.63" lengthAdjust="spacingAndGlyphs">l</tspan><tspan x="27.86" textLength="5.21" lengthAdjust="spacingAndGlyphs">U</tspan></text>
<line x1="614.61" x2="614.61" y1="165.35" y2="167.35" stroke="#8a8a8a" stroke-width="0.8"/>
<text transform="translate(617.11,196.28) rotate(-90)" y="0" font-size="7.86" fill="#222" font-weight="normal" stroke="#222" stroke-width="0.12"><tspan x="-0.20" textLength="4.88" lengthAdjust="spacingAndGlyphs">T</tspan><tspan x="4.58" textLength="4.39" lengthAdjust="spacingAndGlyphs">e</tspan><tspan x="7.87" textLength="3.67" lengthAdjust="spacingAndGlyphs">c</tspan><tspan x="11.02" textLength="2.99" lengthAdjust="spacingAndGlyphs">J</tspan><tspan x="14.15" textLength="4.35" lengthAdjust="spacingAndGlyphs">P</tspan><tspan x="18.51" textLength="4.42" lengthAdjust="spacingAndGlyphs">h</tspan><tspan x="23.32" textLength="4.09" lengthAdjust="spacingAndGlyphs">1</tspan></text>
<line x1="634.58" x2="634.58" y1="165.35" y2="167.35" stroke="#8a8a8a" stroke-width="0.8"/>
<text transform="translate(637.08,196.21) rotate(-90)" y="0" font-size="7.86" fill="#222" font-weight="normal" stroke="#222" stroke-width="0.12"><tspan x="-0.20" textLength="4.88" lengthAdjust="spacingAndGlyphs">T</tspan><tspan x="4.58" textLength="4.39" lengthAdjust="spacingAndGlyphs">e</tspan><tspan x="7.87" textLength="3.67" lengthAdjust="spacingAndGlyphs">c</tspan><tspan x="11.02" textLength="2.99" lengthAdjust="spacingAndGlyphs">J</tspan><tspan x="14.15" textLength="4.35" lengthAdjust="spacingAndGlyphs">P</tspan><tspan x="18.51" textLength="4.42" lengthAdjust="spacingAndGlyphs">h</tspan><tspan x="23.20" textLength="4.18" lengthAdjust="spacingAndGlyphs">2</tspan></text>
<line x1="654.55" x2="654.55" y1="165.35" y2="167.35" stroke="#8a8a8a" stroke-width="0.8"/>
<text transform="translate(657.05,190.40) rotate(-90)" y="0" font-size="7.86" fill="#222" font-weight="normal" stroke="#222" stroke-width="0.12"><tspan x="-0.20" textLength="4.88" lengthAdjust="spacingAndGlyphs">T</tspan><tspan x="4.58" textLength="4.39" lengthAdjust="spacingAndGlyphs">e</tspan><tspan x="7.87" textLength="3.67" lengthAdjust="spacingAndGlyphs">c</tspan><tspan x="11.89" textLength="5.21" lengthAdjust="spacingAndGlyphs">U</tspan><tspan x="17.44" textLength="4.09" lengthAdjust="spacingAndGlyphs">1</tspan></text>
<line x1="674.52" x2="674.52" y1="165.35" y2="167.35" stroke="#8a8a8a" stroke-width="0.8"/>
<text transform="translate(677.02,192.87) rotate(-90)" y="0" font-size="7.86" fill="#222" font-weight="normal" stroke="#222" stroke-width="0.12"><tspan x="-0.20" textLength="4.88" lengthAdjust="spacingAndGlyphs">T</tspan><tspan x="4.58" textLength="4.39" lengthAdjust="spacingAndGlyphs">e</tspan><tspan x="7.87" textLength="3.67" lengthAdjust="spacingAndGlyphs">c</tspan><tspan x="11.90" textLength="4.35" lengthAdjust="spacingAndGlyphs">o</tspan><tspan x="16.41" textLength="4.42" lengthAdjust="spacingAndGlyphs">u</tspan><tspan x="21.13" textLength="2.49" lengthAdjust="spacingAndGlyphs">t</tspan></text>
<text transform="translate(25.55,32.80)" y="0" font-size="10.67" fill="#000" font-weight="bold" stroke="#000" stroke-width="0.35"><tspan x="-0.23" textLength="8.00" lengthAdjust="spacingAndGlyphs">A</tspan><tspan x="7.48" textLength="3.37" lengthAdjust="spacingAndGlyphs">l</tspan><tspan x="10.81" textLength="3.37" lengthAdjust="spacingAndGlyphs">l</tspan><tspan x="17.31" textLength="8.00" lengthAdjust="spacingAndGlyphs">A</tspan><tspan x="25.02" textLength="6.92" lengthAdjust="spacingAndGlyphs">g</tspan><tspan x="31.90" textLength="6.56" lengthAdjust="spacingAndGlyphs">e</tspan><tspan x="38.67" textLength="6.72" lengthAdjust="spacingAndGlyphs">n</tspan><tspan x="45.58" textLength="4.33" lengthAdjust="spacingAndGlyphs">t</tspan><tspan x="50.24" textLength="5.62" lengthAdjust="spacingAndGlyphs">s</tspan></text>
<text transform="translate(214.51,42.50)" y="0" font-size="9.64" fill="#5a5a5a" font-weight="normal" stroke="#5a5a5a" stroke-width="0.12"><tspan x="-0.05" textLength="5.76" lengthAdjust="spacingAndGlyphs">S</tspan><tspan x="5.71" textLength="4.88" lengthAdjust="spacingAndGlyphs">k</tspan><tspan x="10.90" textLength="1.95" lengthAdjust="spacingAndGlyphs">i</tspan><tspan x="13.33" textLength="1.95" lengthAdjust="spacingAndGlyphs">l</tspan><tspan x="15.76" textLength="1.95" lengthAdjust="spacingAndGlyphs">l</tspan><tspan x="18.20" textLength="1.95" lengthAdjust="spacingAndGlyphs">i</tspan><tspan x="20.55" textLength="5.21" lengthAdjust="spacingAndGlyphs">n</tspan><tspan x="26.03" textLength="5.25" lengthAdjust="spacingAndGlyphs">g</tspan><tspan x="31.69" textLength="4.32" lengthAdjust="spacingAndGlyphs">s</tspan><tspan x="36.48" textLength="3.51" lengthAdjust="spacingAndGlyphs">–</tspan><tspan x="40.56" textLength="7.30" lengthAdjust="spacingAndGlyphs">M</tspan><tspan x="47.98" textLength="4.81" lengthAdjust="spacingAndGlyphs">a</tspan><tspan x="53.48" textLength="4.38" lengthAdjust="spacingAndGlyphs">c</tspan><tspan x="58.32" textLength="4.88" lengthAdjust="spacingAndGlyphs">k</tspan><tspan x="66.09" textLength="3.25" lengthAdjust="spacingAndGlyphs">t</tspan><tspan x="69.57" textLength="5.23" lengthAdjust="spacingAndGlyphs">e</tspan><tspan x="75.05" textLength="4.32" lengthAdjust="spacingAndGlyphs">s</tspan><tspan x="79.48" textLength="3.25" lengthAdjust="spacingAndGlyphs">t</tspan><tspan x="82.50" textLength="3.25" lengthAdjust="spacingAndGlyphs">,</tspan><tspan x="88.59" textLength="4.73" lengthAdjust="spacingAndGlyphs">χ</tspan><tspan x="93.70" textLength="2.92" lengthAdjust="spacingAndGlyphs">²</tspan><tspan x="97.06" textLength="2.88" lengthAdjust="spacingAndGlyphs">(</tspan><tspan x="100.76" textLength="4.87" lengthAdjust="spacingAndGlyphs">3</tspan><tspan x="106.33" textLength="4.87" lengthAdjust="spacingAndGlyphs">3</tspan><tspan x="112.05" textLength="2.88" lengthAdjust="spacingAndGlyphs">)</tspan><tspan x="118.11" textLength="6.65" lengthAdjust="spacingAndGlyphs">=</tspan><tspan x="128.02" textLength="5.29" lengthAdjust="spacingAndGlyphs">6</tspan><tspan x="133.70" textLength="5.03" lengthAdjust="spacingAndGlyphs">7</tspan><tspan x="139.12" textLength="2.56" lengthAdjust="spacingAndGlyphs">.</tspan><tspan x="141.91" textLength="5.29" lengthAdjust="spacingAndGlyphs">9</tspan><tspan x="147.58" textLength="5.18" lengthAdjust="spacingAndGlyphs">8</tspan><tspan x="152.61" textLength="3.25" lengthAdjust="spacingAndGlyphs">,</tspan><tspan x="158.70" textLength="5.30" lengthAdjust="spacingAndGlyphs">p</tspan><tspan x="167.22" textLength="6.65" lengthAdjust="spacingAndGlyphs">=</tspan><tspan x="177.20" textLength="5.13" lengthAdjust="spacingAndGlyphs">0</tspan><tspan x="182.66" textLength="2.56" lengthAdjust="spacingAndGlyphs">.</tspan><tspan x="185.56" textLength="5.13" lengthAdjust="spacingAndGlyphs">0</tspan><tspan x="191.13" textLength="5.13" lengthAdjust="spacingAndGlyphs">0</tspan><tspan x="196.70" textLength="5.13" lengthAdjust="spacingAndGlyphs">0</tspan><tspan x="202.24" textLength="4.98" lengthAdjust="spacingAndGlyphs">2</tspan><tspan x="207.30" textLength="3.25" lengthAdjust="spacingAndGlyphs">,</tspan><tspan x="213.40" textLength="5.21" lengthAdjust="spacingAndGlyphs">n</tspan><tspan x="221.91" textLength="6.65" lengthAdjust="spacingAndGlyphs">=</tspan><tspan x="231.99" textLength="4.87" lengthAdjust="spacingAndGlyphs">5</tspan><tspan x="237.42" textLength="4.98" lengthAdjust="spacingAndGlyphs">2</tspan><tspan x="242.48" textLength="3.25" lengthAdjust="spacingAndGlyphs">,</tspan><tspan x="248.50" textLength="5.25" lengthAdjust="spacingAndGlyphs">d</tspan><tspan x="253.96" textLength="3.21" lengthAdjust="spacingAndGlyphs">f</tspan><tspan x="260.18" textLength="6.65" lengthAdjust="spacingAndGlyphs">=</tspan><tspan x="270.30" textLength="4.87" lengthAdjust="spacingAndGlyphs">3</tspan><tspan x="275.87" textLength="4.87" lengthAdjust="spacingAndGlyphs">3</tspan></text>
<text transform="translate(6.70,149.18) rotate(-90)" y="0" font-size="9.05" fill="#000" font-weight="bold" stroke="#000" stroke-width="0.35"><tspan x="0.14" textLength="6.67" lengthAdjust="spacingAndGlyphs">D</tspan><tspan x="6.81" textLength="2.86" lengthAdjust="spacingAndGlyphs">i</tspan><tspan x="9.76" textLength="4.77" lengthAdjust="spacingAndGlyphs">s</tspan><tspan x="14.64" textLength="3.69" lengthAdjust="spacingAndGlyphs">t</tspan><tspan x="18.49" textLength="4.18" lengthAdjust="spacingAndGlyphs">r</tspan><tspan x="22.52" textLength="2.86" lengthAdjust="spacingAndGlyphs">i</tspan><tspan x="25.45" textLength="5.82" lengthAdjust="spacingAndGlyphs">b</tspan><tspan x="31.31" textLength="5.75" lengthAdjust="spacingAndGlyphs">u</tspan><tspan x="37.20" textLength="3.69" lengthAdjust="spacingAndGlyphs">t</tspan><tspan x="41.03" textLength="2.86" lengthAdjust="spacingAndGlyphs">i</tspan><tspan x="43.83" textLength="5.69" lengthAdjust="spacingAndGlyphs">o</tspan><tspan x="49.62" textLength="5.70" lengthAdjust="spacingAndGlyphs">n</tspan><tspan x="58.21" textLength="5.69" lengthAdjust="spacingAndGlyphs">o</tspan><tspan x="63.90" textLength="3.64" lengthAdjust="spacingAndGlyphs">f</tspan><tspan x="70.16" textLength="6.79" lengthAdjust="spacingAndGlyphs">A</tspan><tspan x="76.75" textLength="5.46" lengthAdjust="spacingAndGlyphs">E</tspan><tspan x="82.45" textLength="4.77" lengthAdjust="spacingAndGlyphs">s</tspan></text>
<text transform="translate(338.89,210.50)" y="0" font-size="9.05" fill="#000" font-weight="bold" stroke="#000" stroke-width="0.35"><tspan x="-0.19" textLength="6.79" lengthAdjust="spacingAndGlyphs">A</tspan><tspan x="6.36" textLength="5.87" lengthAdjust="spacingAndGlyphs">g</tspan><tspan x="12.19" textLength="5.57" lengthAdjust="spacingAndGlyphs">e</tspan><tspan x="17.94" textLength="5.70" lengthAdjust="spacingAndGlyphs">n</tspan><tspan x="23.79" textLength="3.68" lengthAdjust="spacingAndGlyphs">t</tspan><tspan x="27.75" textLength="4.77" lengthAdjust="spacingAndGlyphs">s</tspan></text>
<rect x="25.5" y="238.4" width="305.2" height="108.99999999999997" fill="#f4f4f4"/>
<line x1="25.5" x2="330.7" y1="342.42" y2="342.42" stroke="#d6d6d6" stroke-width="0.7" stroke-dasharray="1 1.2"/>
<line x1="25.5" x2="330.7" y1="321.62" y2="321.62" stroke="#d6d6d6" stroke-width="0.7" stroke-dasharray="1 1.2"/>
<line x1="25.5" x2="330.7" y1="300.81" y2="300.81" stroke="#d6d6d6" stroke-width="0.7" stroke-dasharray="1 1.2"/>
<line x1="25.5" x2="330.7" y1="280.01" y2="280.01" stroke="#d6d6d6" stroke-width="0.7" stroke-dasharray="1 1.2"/>
<line x1="25.5" x2="330.7" y1="259.20" y2="259.20" stroke="#d6d6d6" stroke-width="0.7" stroke-dasharray="1 1.2"/>
<line x1="25.5" x2="330.7" y1="238.40" y2="238.40" stroke="#d6d6d6" stroke-width="0.7" stroke-dasharray="1 1.2"/>
<line x1="32.77" x2="32.77" y1="238.4" y2="347.4" stroke="#d6d6d6" stroke-width="0.7" stroke-dasharray="1 1.2"/>
<line x1="47.30" x2="47.30" y1="238.4" y2="347.4" stroke="#d6d6d6" stroke-width="0.7" stroke-dasharray="1 1.2"/>
<line x1="61.83" x2="61.83" y1="238.4" y2="347.4" stroke="#d6d6d6" stroke-width="0.7" stroke-dasharray="1 1.2"/>
<line x1="76.37" x2="76.37" y1="238.4" y2="347.4" stroke="#d6d6d6" stroke-width="0.7" stroke-dasharray="1 1.2"/>
<line x1="90.90" x2="90.90" y1="238.4" y2="347.4" stroke="#d6d6d6" stroke-width="0.7" stroke-dasharray="1 1.2"/>
<line x1="105.43" x2="105.43" y1="238.4" y2="347.4" stroke="#d6d6d6" stroke-width="0.7" stroke-dasharray="1 1.2"/>
<line x1="119.97" x2="119.97" y1="238.4" y2="347.4" stroke="#d6d6d6" stroke-width="0.7" stroke-dasharray="1 1.2"/>
<line x1="134.50" x2="134.50" y1="238.4" y2="347.4" stroke="#d6d6d6" stroke-width="0.7" stroke-dasharray="1 1.2"/>
<line x1="149.03" x2="149.03" y1="238.4" y2="347.4" stroke="#d6d6d6" stroke-width="0.7" stroke-dasharray="1 1.2"/>
<line x1="163.57" x2="163.57" y1="238.4" y2="347.4" stroke="#d6d6d6" stroke-width="0.7" stroke-dasharray="1 1.2"/>
<line x1="178.10" x2="178.10" y1="238.4" y2="347.4" stroke="#d6d6d6" stroke-width="0.7" stroke-dasharray="1 1.2"/>
<line x1="192.63" x2="192.63" y1="238.4" y2="347.4" stroke="#d6d6d6" stroke-width="0.7" stroke-dasharray="1 1.2"/>
<line x1="207.17" x2="207.17" y1="238.4" y2="347.4" stroke="#d6d6d6" stroke-width="0.7" stroke-dasharray="1 1.2"/>
<line x1="221.70" x2="221.70" y1="238.4" y2="347.4" stroke="#d6d6d6" stroke-width="0.7" stroke-dasharray="1 1.2"/>
<line x1="236.23" x2="236.23" y1="238.4" y2="347.4" stroke="#d6d6d6" stroke-width="0.7" stroke-dasharray="1 1.2"/>
<line x1="250.77" x2="250.77" y1="238.4" y2="347.4" stroke="#d6d6d6" stroke-width="0.7" stroke-dasharray="1 1.2"/>
<line x1="265.30" x2="265.30" y1="238.4" y2="347.4" stroke="#d6d6d6" stroke-width="0.7" stroke-dasharray="1 1.2"/>
<line x1="279.83" x2="279.83" y1="238.4" y2="347.4" stroke="#d6d6d6" stroke-width="0.7" stroke-dasharray="1 1.2"/>
<line x1="294.37" x2="294.37" y1="238.4" y2="347.4" stroke="#d6d6d6" stroke-width="0.7" stroke-dasharray="1 1.2"/>
<line x1="308.90" x2="308.90" y1="238.4" y2="347.4" stroke="#d6d6d6" stroke-width="0.7" stroke-dasharray="1 1.2"/>
<line x1="323.43" x2="323.43" y1="238.4" y2="347.4" stroke="#d6d6d6" stroke-width="0.7" stroke-dasharray="1 1.2"/>
<line x1="32.77" x2="32.77" y1="329.63" y2="320.58" stroke="#5590c8" stroke-width="1.0" stroke-linecap="square"/>
<line x1="32.77" x2="32.77" y1="342.42" y2="342.42" stroke="#5590c8" stroke-width="1.0" stroke-linecap="square"/>
<line x1="29.86" x2="35.67" y1="320.58" y2="320.58" stroke="#5590c8" stroke-width="1.0" stroke-linecap="square"/>
<line x1="29.86" x2="35.67" y1="342.42" y2="342.42" stroke="#5590c8" stroke-width="1.0" stroke-linecap="square"/>
<rect x="26.95" y="329.63" width="11.63" height="12.79" fill="#8fd4e9" stroke="#5590c8" stroke-width="1.0" stroke-linecap="square"/>
<line x1="26.95" x2="38.58" y1="341.17" y2="341.17" stroke="#111" stroke-width="1.45"/>
<circle cx="33.96" cy="307.18" r="1.38" fill="#222" stroke="#fff" stroke-width="0.22"/>
<circle cx="33.96" cy="320.62" r="1.38" fill="#222" stroke="#fff" stroke-width="0.22"/>
<circle cx="33.96" cy="325.85" r="1.38" fill="#222" stroke="#fff" stroke-width="0.22"/>
<circle cx="32.46" cy="329.58" r="1.38" fill="#222" stroke="#fff" stroke-width="0.22"/>
<circle cx="33.21" cy="336.75" r="1.38" fill="#222" stroke="#fff" stroke-width="0.22"/>
<circle cx="32.46" cy="340.78" r="1.38" fill="#222" stroke="#fff" stroke-width="0.22"/>
<circle cx="33.96" cy="340.78" r="1.38" fill="#222" stroke="#fff" stroke-width="0.22"/>
<circle cx="31.72" cy="342.58" r="1.38" fill="#222" stroke="#fff" stroke-width="0.22"/>
<circle cx="33.66" cy="342.58" r="1.38" fill="#222" stroke="#fff" stroke-width="0.22"/>
<line x1="47.30" x2="47.30" y1="332.95" y2="328.59" stroke="#5590c8" stroke-width="1.0" stroke-linecap="square"/>
<line x1="47.30" x2="47.30" y1="342.42" y2="342.42" stroke="#5590c8" stroke-width="1.0" stroke-linecap="square"/>
<line x1="44.39" x2="50.21" y1="328.59" y2="328.59" stroke="#5590c8" stroke-width="1.0" stroke-linecap="square"/>
<line x1="44.39" x2="50.21" y1="342.42" y2="342.42" stroke="#5590c8" stroke-width="1.0" stroke-linecap="square"/>
<rect x="41.49" y="332.95" width="11.63" height="9.47" fill="#8fd4e9" stroke="#5590c8" stroke-width="1.0" stroke-linecap="square"/>
<line x1="41.49" x2="53.11" y1="340.96" y2="340.96" stroke="#111" stroke-width="1.45"/>
<circle cx="48.13" cy="290.45" r="1.38" fill="#222" stroke="#fff" stroke-width="0.22"/>
<circle cx="46.64" cy="318.08" r="1.38" fill="#222" stroke="#fff" stroke-width="0.22"/>
<circle cx="47.39" cy="328.54" r="1.38" fill="#222" stroke="#fff" stroke-width="0.22"/>
<circle cx="47.39" cy="332.12" r="1.38" fill="#222" stroke="#fff" stroke-width="0.22"/>
<circle cx="47.09" cy="335.56" r="1.38" fill="#222" stroke="#fff" stroke-width="0.22"/>
<circle cx="47.39" cy="338.54" r="1.38" fill="#222" stroke="#fff" stroke-width="0.22"/>
<circle cx="45.90" cy="341.53" r="1.38" fill="#222" stroke="#fff" stroke-width="0.22"/>
<circle cx="48.13" cy="341.53" r="1.38" fill="#222" stroke="#fff" stroke-width="0.22"/>
<circle cx="47.09" cy="342.58" r="1.38" fill="#222" stroke="#fff" stroke-width="0.22"/>
<line x1="61.83" x2="61.83" y1="336.49" y2="328.07" stroke="#5590c8" stroke-width="1.0" stroke-linecap="square"/>
<line x1="61.83" x2="61.83" y1="342.42" y2="342.42" stroke="#5590c8" stroke-width="1.0" stroke-linecap="square"/>
<line x1="58.93" x2="64.74" y1="328.07" y2="328.07" stroke="#5590c8" stroke-width="1.0" stroke-linecap="square"/>
<line x1="58.93" x2="64.74" y1="342.42" y2="342.42" stroke="#5590c8" stroke-width="1.0" stroke-linecap="square"/>
<rect x="56.02" y="336.49" width="11.63" height="5.93" fill="#8fd4e9" stroke="#5590c8" stroke-width="1.0" stroke-linecap="square"/>
<line x1="56.02" x2="67.65" y1="341.38" y2="341.38" stroke="#111" stroke-width="1.45"/>
<circle cx="62.01" cy="320.92" r="1.38" fill="#222" stroke="#fff" stroke-width="0.22"/>
<circle cx="62.31" cy="327.79" r="1.38" fill="#222" stroke="#fff" stroke-width="0.22"/>
<circle cx="62.31" cy="334.81" r="1.38" fill="#222" stroke="#fff" stroke-width="0.22"/>
<circle cx="61.27" cy="339.29" r="1.38" fill="#222" stroke="#fff" stroke-width="0.22"/>
<circle cx="62.61" cy="341.53" r="1.38" fill="#222" stroke="#fff" stroke-width="0.22"/>
<circle cx="61.57" cy="342.58" r="1.38" fill="#222" stroke="#fff" stroke-width="0.22"/>
<line x1="76.37" x2="76.37" y1="335.03" y2="328.17" stroke="#5590c8" stroke-width="1.0" stroke-linecap="square"/>
<line x1="76.37" x2="76.37" y1="342.42" y2="342.42" stroke="#5590c8" stroke-width="1.0" stroke-linecap="square"/>
<line x1="73.46" x2="79.27" y1="328.17" y2="328.17" stroke="#5590c8" stroke-width="1.0" stroke-linecap="square"/>
<line x1="73.46" x2="79.27" y1="342.42" y2="342.42" stroke="#5590c8" stroke-width="1.0" stroke-linecap="square"/>
<rect x="70.55" y="335.03" width="11.63" height="7.39" fill="#8fd4e9" stroke="#5590c8" stroke-width="1.0" stroke-linecap="square"/>
<line x1="70.55" x2="82.18" y1="342.21" y2="342.21" stroke="#111" stroke-width="1.45"/>
<circle cx="76.79" cy="305.68" r="1.38" fill="#222" stroke="#fff" stroke-width="0.22"/>
<circle cx="77.24" cy="322.11" r="1.38" fill="#222" stroke="#fff" stroke-width="0.22"/>
<circle cx="77.99" cy="328.09" r="1.38" fill="#222" stroke="#fff" stroke-width="0.22"/>
<circle cx="75.75" cy="332.57" r="1.38" fill="#222" stroke="#fff" stroke-width="0.22"/>
<circle cx="76.19" cy="338.24" r="1.38" fill="#222" stroke="#fff" stroke-width="0.22"/>
<circle cx="76.19" cy="340.49" r="1.38" fill="#222" stroke="#fff" stroke-width="0.22"/>
<circle cx="75.75" cy="342.58" r="1.38" fill="#222" stroke="#fff" stroke-width="0.22"/>
<circle cx="77.54" cy="342.58" r="1.38" fill="#222" stroke="#fff" stroke-width="0.22"/>
<line x1="90.90" x2="90.90" y1="333.89" y2="333.89" stroke="#5590c8" stroke-width="1.0" stroke-linecap="square"/>
<line x1="90.90" x2="90.90" y1="340.03" y2="340.03" stroke="#5590c8" stroke-width="1.0" stroke-linecap="square"/>
<line x1="87.99" x2="93.81" y1="333.89" y2="333.89" stroke="#5590c8" stroke-width="1.0" stroke-linecap="square"/>
<line x1="87.99" x2="93.81" y1="340.03" y2="340.03" stroke="#5590c8" stroke-width="1.0" stroke-linecap="square"/>
<rect x="85.09" y="333.89" width="11.63" height="6.14" fill="#8fd4e9" stroke="#5590c8" stroke-width="1.0" stroke-linecap="square"/>
<line x1="85.09" x2="96.71" y1="338.99" y2="338.99" stroke="#111" stroke-width="1.45"/>
<circle cx="91.72" cy="322.45" r="1.38" fill="#222" stroke="#fff" stroke-width="0.22"/>
<circle cx="90.84" cy="337.64" r="1.38" fill="#222" stroke="#fff" stroke-width="0.22"/>
<circle cx="89.97" cy="339.91" r="1.38" fill="#222" stroke="#fff" stroke-width="0.22"/>
<circle cx="91.72" cy="339.91" r="1.38" fill="#222" stroke="#fff" stroke-width="0.22"/>
<line x1="105.43" x2="105.43" y1="338.99" y2="338.99" stroke="#5590c8" stroke-width="1.0" stroke-linecap="square"/>
<line x1="105.43" x2="105.43" y1="340.76" y2="340.76" stroke="#5590c8" stroke-width="1.0" stroke-linecap="square"/>
<line x1="102.53" x2="108.34" y1="338.99" y2="338.99" stroke="#5590c8" stroke-width="1.0" stroke-linecap="square"/>
<line x1="102.53" x2="108.34" y1="340.76" y2="340.76" stroke="#5590c8" stroke-width="1.0" stroke-linecap="square"/>
<rect x="99.62" y="338.99" width="11.63" height="1.77" fill="#8fd4e9" stroke="#5590c8" stroke-width="1.0" stroke-linecap="square"/>
<line x1="99.62" x2="111.25" y1="339.92" y2="339.92" stroke="#111" stroke-width="1.45"/>
<circle cx="106.24" cy="338.17" r="1.38" fill="#222" stroke="#fff" stroke-width="0.22"/>
<circle cx="105.71" cy="341.14" r="1.38" fill="#222" stroke="#fff" stroke-width="0.22"/>
<line x1="119.97" x2="119.97" y1="318.08" y2="311.42" stroke="#5590c8" stroke-width="1.0" stroke-linecap="square"/>
<line x1="119.97" x2="119.97" y1="333.89" y2="342.42" stroke="#5590c8" stroke-width="1.0" stroke-linecap="square"/>
<line x1="117.06" x2="122.87" y1="311.42" y2="311.42" stroke="#5590c8" stroke-width="1.0" stroke-linecap="square"/>
<line x1="117.06" x2="122.87" y1="342.42" y2="342.42" stroke="#5590c8" stroke-width="1.0" stroke-linecap="square"/>
<rect x="114.15" y="318.08" width="11.63" height="15.81" fill="#8fd4e9" stroke="#5590c8" stroke-width="1.0" stroke-linecap="square"/>
<line x1="114.15" x2="125.78" y1="324.94" y2="324.94" stroke="#111" stroke-width="1.45"/>
<circle cx="120.58" cy="311.44" r="1.38" fill="#222" stroke="#fff" stroke-width="0.22"/>
<circle cx="118.83" cy="324.89" r="1.38" fill="#222" stroke="#fff" stroke-width="0.22"/>
<circle cx="121.11" cy="342.36" r="1.38" fill="#222" stroke="#fff" stroke-width="0.22"/>
<line x1="134.50" x2="134.50" y1="298.63" y2="287.29" stroke="#5590c8" stroke-width="1.0" stroke-linecap="square"/>
<line x1="134.50" x2="134.50" y1="320.58" y2="337.11" stroke="#5590c8" stroke-width="1.0" stroke-linecap="square"/>
<line x1="131.59" x2="137.41" y1="287.29" y2="287.29" stroke="#5590c8" stroke-width="1.0" stroke-linecap="square"/>
<line x1="131.59" x2="137.41" y1="337.11" y2="337.11" stroke="#5590c8" stroke-width="1.0" stroke-linecap="square"/>
<rect x="128.69" y="298.63" width="11.63" height="21.95" fill="#8fd4e9" stroke="#5590c8" stroke-width="1.0" stroke-linecap="square"/>
<line x1="128.69" x2="140.31" y1="315.06" y2="315.06" stroke="#111" stroke-width="1.45"/>
<circle cx="135.10" cy="287.51" r="1.38" fill="#222" stroke="#fff" stroke-width="0.22"/>
<circle cx="134.75" cy="298.34" r="1.38" fill="#222" stroke="#fff" stroke-width="0.22"/>
<circle cx="135.62" cy="314.93" r="1.38" fill="#222" stroke="#fff" stroke-width="0.22"/>
<circle cx="133.70" cy="320.52" r="1.38" fill="#222" stroke="#fff" stroke-width="0.22"/>
<circle cx="134.75" cy="336.77" r="1.38" fill="#222" stroke="#fff" stroke-width="0.22"/>
<line x1="149.03" x2="149.03" y1="324.01" y2="301.02" stroke="#5590c8" stroke-width="1.0" stroke-linecap="square"/>
<line x1="149.03" x2="149.03" y1="342.42" y2="342.42" stroke="#5590c8" stroke-width="1.0" stroke-linecap="square"/>
<line x1="146.13" x2="151.94" y1="301.02" y2="301.02" stroke="#5590c8" stroke-width="1.0" stroke-linecap="square"/>
<line x1="146.13" x2="151.94" y1="342.42" y2="342.42" stroke="#5590c8" stroke-width="1.0" stroke-linecap="square"/>
<rect x="143.22" y="324.01" width="11.63" height="18.41" fill="#8fd4e9" stroke="#5590c8" stroke-width="1.0" stroke-linecap="square"/>
<line x1="143.22" x2="154.85" y1="340.86" y2="340.86" stroke="#111" stroke-width="1.45"/>
<circle cx="149.87" cy="291.88" r="1.38" fill="#222" stroke="#fff" stroke-width="0.22"/>
<circle cx="148.99" cy="300.96" r="1.38" fill="#222" stroke="#fff" stroke-width="0.22"/>
<circle cx="149.87" cy="303.23" r="1.38" fill="#222" stroke="#fff" stroke-width="0.22"/>
<circle cx="148.12" cy="316.33" r="1.38" fill="#222" stroke="#fff" stroke-width="0.22"/>
<circle cx="148.64" cy="317.55" r="1.38" fill="#222" stroke="#fff" stroke-width="0.22"/>
<circle cx="148.99" cy="326.81" r="1.38" fill="#222" stroke="#fff" stroke-width="0.22"/>
<circle cx="149.52" cy="331.53" r="1.38" fill="#222" stroke="#fff" stroke-width="0.22"/>
<circle cx="148.99" cy="337.64" r="1.38" fill="#222" stroke="#fff" stroke-width="0.22"/>
<circle cx="147.24" cy="341.48" r="1.38" fill="#222" stroke="#fff" stroke-width="0.22"/>
<circle cx="149.87" cy="342.36" r="1.38" fill="#222" stroke="#fff" stroke-width="0.22"/>
<line x1="163.57" x2="163.57" y1="298.63" y2="284.69" stroke="#5590c8" stroke-width="1.0" stroke-linecap="square"/>
<line x1="163.57" x2="163.57" y1="326.71" y2="340.76" stroke="#5590c8" stroke-width="1.0" stroke-linecap="square"/>
<line x1="160.66" x2="166.47" y1="284.69" y2="284.69" stroke="#5590c8" stroke-width="1.0" stroke-linecap="square"/>
<line x1="160.66" x2="166.47" y1="340.76" y2="340.76" stroke="#5590c8" stroke-width="1.0" stroke-linecap="square"/>
<rect x="157.75" y="298.63" width="11.63" height="28.09" fill="#8fd4e9" stroke="#5590c8" stroke-width="1.0" stroke-linecap="square"/>
<line x1="157.75" x2="169.38" y1="312.67" y2="312.67" stroke="#111" stroke-width="1.45"/>
<circle cx="162.99" cy="284.72" r="1.38" fill="#222" stroke="#fff" stroke-width="0.22"/>
<circle cx="163.51" cy="340.61" r="1.38" fill="#222" stroke="#fff" stroke-width="0.22"/>
<line x1="178.10" x2="178.10" y1="312.88" y2="302.79" stroke="#5590c8" stroke-width="1.0" stroke-linecap="square"/>
<line x1="178.10" x2="178.10" y1="332.95" y2="342.42" stroke="#5590c8" stroke-width="1.0" stroke-linecap="square"/>
<line x1="175.19" x2="181.01" y1="302.79" y2="302.79" stroke="#5590c8" stroke-width="1.0" stroke-linecap="square"/>
<line x1="175.19" x2="181.01" y1="342.42" y2="342.42" stroke="#5590c8" stroke-width="1.0" stroke-linecap="square"/>
<rect x="172.29" y="312.88" width="11.63" height="20.08" fill="#8fd4e9" stroke="#5590c8" stroke-width="1.0" stroke-linecap="square"/>
<line x1="172.29" x2="183.91" y1="322.86" y2="322.86" stroke="#111" stroke-width="1.45"/>
<circle cx="179.08" cy="302.71" r="1.38" fill="#222" stroke="#fff" stroke-width="0.22"/>
<circle cx="179.08" cy="342.36" r="1.38" fill="#222" stroke="#fff" stroke-width="0.22"/>
<line x1="192.63" x2="192.63" y1="308.20" y2="280.74" stroke="#5590c8" stroke-width="1.0" stroke-linecap="square"/>
<line x1="192.63" x2="192.63" y1="342.42" y2="342.42" stroke="#5590c8" stroke-width="1.0" stroke-linecap="square"/>
<line x1="189.73" x2="195.54" y1="280.74" y2="280.74" stroke="#5590c8" stroke-width="1.0" stroke-linecap="square"/>
<line x1="189.73" x2="195.54" y1="342.42" y2="342.42" stroke="#5590c8" stroke-width="1.0" stroke-linecap="square"/>
<rect x="186.82" y="308.20" width="11.63" height="34.22" fill="#8fd4e9" stroke="#5590c8" stroke-width="1.0" stroke-linecap="square"/>
<line x1="186.82" x2="198.45" y1="337.95" y2="337.95" stroke="#111" stroke-width="1.45"/>
<circle cx="191.32" cy="280.87" r="1.38" fill="#222" stroke="#fff" stroke-width="0.22"/>
<circle cx="190.97" cy="295.37" r="1.38" fill="#222" stroke="#fff" stroke-width="0.22"/>
<circle cx="191.85" cy="299.74" r="1.38" fill="#222" stroke="#fff" stroke-width="0.22"/>
<circle cx="191.85" cy="332.75" r="1.38" fill="#222" stroke="#fff" stroke-width="0.22"/>
<circle cx="192.72" cy="337.64" r="1.38" fill="#222" stroke="#fff" stroke-width="0.22"/>
<circle cx="190.97" cy="342.36" r="1.38" fill="#222" stroke="#fff" stroke-width="0.22"/>
<circle cx="193.60" cy="342.36" r="1.38" fill="#222" stroke="#fff" stroke-width="0.22"/>
<line x1="207.17" x2="207.17" y1="323.07" y2="299.67" stroke="#5590c8" stroke-width="1.0" stroke-linecap="square"/>
<line x1="207.17" x2="207.17" y1="342.42" y2="342.42" stroke="#5590c8" stroke-width="1.0" stroke-linecap="square"/>
<line x1="204.26" x2="210.07" y1="299.67" y2="299.67" stroke="#5590c8" stroke-width="1.0" stroke-linecap="square"/>
<line x1="204.26" x2="210.07" y1="342.42" y2="342.42" stroke="#5590c8" stroke-width="1.0" stroke-linecap="square"/>
<rect x="201.35" y="323.07" width="11.63" height="19.35" fill="#8fd4e9" stroke="#5590c8" stroke-width="1.0" stroke-linecap="square"/>
<line x1="201.35" x2="212.98" y1="339.72" y2="339.72" stroke="#111" stroke-width="1.45"/>
<circle cx="208.37" cy="299.56" r="1.38" fill="#222" stroke="#fff" stroke-width="0.22"/>
<circle cx="205.74" cy="309.69" r="1.38" fill="#222" stroke="#fff" stroke-width="0.22"/>
<circle cx="206.62" cy="311.44" r="1.38" fill="#222" stroke="#fff" stroke-width="0.22"/>
<circle cx="206.97" cy="317.55" r="1.38" fill="#222" stroke="#fff" stroke-width="0.22"/>
<circle cx="207.49" cy="318.78" r="1.38" fill="#222" stroke="#fff" stroke-width="0.22"/>
<circle cx="206.62" cy="334.15" r="1.38" fill="#222" stroke="#fff" stroke-width="0.22"/>
<circle cx="206.09" cy="335.90" r="1.38" fill="#222" stroke="#fff" stroke-width="0.22"/>
<circle cx="207.49" cy="339.39" r="1.38" fill="#222" stroke="#fff" stroke-width="0.22"/>
<circle cx="206.62" cy="341.48" r="1.38" fill="#222" stroke="#fff" stroke-width="0.22"/>
<circle cx="208.02" cy="342.36" r="1.38" fill="#222" stroke="#fff" stroke-width="0.22"/>
<line x1="221.70" x2="221.70" y1="335.76" y2="326.40" stroke="#5590c8" stroke-width="1.0" stroke-linecap="square"/>
<line x1="221.70" x2="221.70" y1="342.42" y2="342.42" stroke="#5590c8" stroke-width="1.0" stroke-linecap="square"/>
<line x1="218.79" x2="224.61" y1="326.40" y2="326.40" stroke="#5590c8" stroke-width="1.0" stroke-linecap="square"/>
<line x1="218.79" x2="224.61" y1="342.42" y2="342.42" stroke="#5590c8" stroke-width="1.0" stroke-linecap="square"/>
<rect x="215.89" y="335.76" width="11.63" height="6.66" fill="#8fd4e9" stroke="#5590c8" stroke-width="1.0" stroke-linecap="square"/>
<line x1="215.89" x2="227.51" y1="340.34" y2="340.34" stroke="#111" stroke-width="1.45"/>
<circle cx="222.01" cy="303.23" r="1.38" fill="#222" stroke="#fff" stroke-width="0.22"/>
<circle cx="220.26" cy="314.41" r="1.38" fill="#222" stroke="#fff" stroke-width="0.22"/>
<circle cx="222.71" cy="324.54" r="1.38" fill="#222" stroke="#fff" stroke-width="0.22"/>
<circle cx="220.96" cy="326.81" r="1.38" fill="#222" stroke="#fff" stroke-width="0.22"/>
<circle cx="221.14" cy="330.66" r="1.38" fill="#222" stroke="#fff" stroke-width="0.22"/>
<circle cx="220.61" cy="335.55" r="1.38" fill="#222" stroke="#fff" stroke-width="0.22"/>
<circle cx="222.36" cy="337.64" r="1.38" fill="#222" stroke="#fff" stroke-width="0.22"/>
<circle cx="221.49" cy="340.79" r="1.38" fill="#222" stroke="#fff" stroke-width="0.22"/>
<circle cx="222.71" cy="342.36" r="1.38" fill="#222" stroke="#fff" stroke-width="0.22"/>
<circle cx="220.61" cy="342.36" r="1.38" fill="#222" stroke="#fff" stroke-width="0.22"/>
<line x1="236.23" x2="236.23" y1="332.02" y2="327.44" stroke="#5590c8" stroke-width="1.0" stroke-linecap="square"/>
<line x1="236.23" x2="236.23" y1="342.42" y2="342.42" stroke="#5590c8" stroke-width="1.0" stroke-linecap="square"/>
<line x1="233.33" x2="239.14" y1="327.44" y2="327.44" stroke="#5590c8" stroke-width="1.0" stroke-linecap="square"/>
<line x1="233.33" x2="239.14" y1="342.42" y2="342.42" stroke="#5590c8" stroke-width="1.0" stroke-linecap="square"/>
<rect x="230.42" y="332.02" width="11.63" height="10.40" fill="#8fd4e9" stroke="#5590c8" stroke-width="1.0" stroke-linecap="square"/>
<line x1="230.42" x2="242.05" y1="341.69" y2="341.69" stroke="#111" stroke-width="1.45"/>
<circle cx="236.00" cy="298.69" r="1.38" fill="#222" stroke="#fff" stroke-width="0.22"/>
<circle cx="236.70" cy="304.98" r="1.38" fill="#222" stroke="#fff" stroke-width="0.22"/>
<circle cx="237.75" cy="310.57" r="1.38" fill="#222" stroke="#fff" stroke-width="0.22"/>
<circle cx="236.35" cy="327.16" r="1.38" fill="#222" stroke="#fff" stroke-width="0.22"/>
<circle cx="237.23" cy="331.18" r="1.38" fill="#222" stroke="#fff" stroke-width="0.22"/>
<circle cx="237.23" cy="332.93" r="1.38" fill="#222" stroke="#fff" stroke-width="0.22"/>
<circle cx="236.35" cy="338.52" r="1.38" fill="#222" stroke="#fff" stroke-width="0.22"/>
<circle cx="236.88" cy="340.61" r="1.38" fill="#222" stroke="#fff" stroke-width="0.22"/>
<circle cx="234.95" cy="341.48" r="1.38" fill="#222" stroke="#fff" stroke-width="0.22"/>
<circle cx="236.35" cy="342.36" r="1.38" fill="#222" stroke="#fff" stroke-width="0.22"/>
<line x1="250.77" x2="250.77" y1="335.76" y2="328.90" stroke="#5590c8" stroke-width="1.0" stroke-linecap="square"/>
<line x1="250.77" x2="250.77" y1="342.42" y2="342.42" stroke="#5590c8" stroke-width="1.0" stroke-linecap="square"/>
<line x1="247.86" x2="253.67" y1="328.90" y2="328.90" stroke="#5590c8" stroke-width="1.0" stroke-linecap="square"/>
<line x1="247.86" x2="253.67" y1="342.42" y2="342.42" stroke="#5590c8" stroke-width="1.0" stroke-linecap="square"/>
<rect x="244.95" y="335.76" width="11.63" height="6.66" fill="#8fd4e9" stroke="#5590c8" stroke-width="1.0" stroke-linecap="square"/>
<line x1="244.95" x2="256.58" y1="340.34" y2="340.34" stroke="#111" stroke-width="1.45"/>
<circle cx="250.15" cy="328.27" r="1.38" fill="#222" stroke="#fff" stroke-width="0.22"/>
<circle cx="251.28" cy="337.74" r="1.38" fill="#222" stroke="#fff" stroke-width="0.22"/>
<circle cx="250.15" cy="342.69" r="1.38" fill="#222" stroke="#fff" stroke-width="0.22"/>
<circle cx="251.73" cy="342.69" r="1.38" fill="#222" stroke="#fff" stroke-width="0.22"/>
<line x1="265.30" x2="265.30" y1="336.07" y2="329.52" stroke="#5590c8" stroke-width="1.0" stroke-linecap="square"/>
<line x1="265.30" x2="265.30" y1="342.21" y2="342.42" stroke="#5590c8" stroke-width="1.0" stroke-linecap="square"/>
<line x1="262.39" x2="268.21" y1="329.52" y2="329.52" stroke="#5590c8" stroke-width="1.0" stroke-linecap="square"/>
<line x1="262.39" x2="268.21" y1="342.42" y2="342.42" stroke="#5590c8" stroke-width="1.0" stroke-linecap="square"/>
<rect x="259.49" y="336.07" width="11.63" height="6.14" fill="#8fd4e9" stroke="#5590c8" stroke-width="1.0" stroke-linecap="square"/>
<line x1="259.49" x2="271.11" y1="341.69" y2="341.69" stroke="#111" stroke-width="1.45"/>
<circle cx="266.39" cy="275.32" r="1.38" fill="#222" stroke="#fff" stroke-width="0.22"/>
<circle cx="265.27" cy="295.60" r="1.38" fill="#222" stroke="#fff" stroke-width="0.22"/>
<circle cx="264.81" cy="303.94" r="1.38" fill="#222" stroke="#fff" stroke-width="0.22"/>
<circle cx="266.39" cy="308.45" r="1.38" fill="#222" stroke="#fff" stroke-width="0.22"/>
<circle cx="265.27" cy="320.39" r="1.38" fill="#222" stroke="#fff" stroke-width="0.22"/>
<circle cx="265.49" cy="329.18" r="1.38" fill="#222" stroke="#fff" stroke-width="0.22"/>
<circle cx="265.94" cy="334.36" r="1.38" fill="#222" stroke="#fff" stroke-width="0.22"/>
<circle cx="264.81" cy="336.61" r="1.38" fill="#222" stroke="#fff" stroke-width="0.22"/>
<circle cx="266.62" cy="338.86" r="1.38" fill="#222" stroke="#fff" stroke-width="0.22"/>
<circle cx="264.14" cy="340.67" r="1.38" fill="#222" stroke="#fff" stroke-width="0.22"/>
<circle cx="265.94" cy="342.24" r="1.38" fill="#222" stroke="#fff" stroke-width="0.22"/>
<line x1="279.83" x2="279.83" y1="342.42" y2="342.42" stroke="#5590c8" stroke-width="1.0" stroke-linecap="square"/>
<line x1="279.83" x2="279.83" y1="342.42" y2="342.42" stroke="#5590c8" stroke-width="1.0" stroke-linecap="square"/>
<line x1="276.93" x2="282.74" y1="342.42" y2="342.42" stroke="#5590c8" stroke-width="1.0" stroke-linecap="square"/>
<line x1="276.93" x2="282.74" y1="342.42" y2="342.42" stroke="#5590c8" stroke-width="1.0" stroke-linecap="square"/>
<rect x="274.02" y="342.42" width="11.63" height="0.01" fill="#8fd4e9" stroke="#5590c8" stroke-width="1.0" stroke-linecap="square"/>
<line x1="274.02" x2="285.65" y1="342.42" y2="342.42" stroke="#111" stroke-width="1.45"/>
<circle cx="280.15" cy="268.34" r="1.38" fill="#222" stroke="#fff" stroke-width="0.22"/>
<circle cx="280.15" cy="305.07" r="1.38" fill="#222" stroke="#fff" stroke-width="0.22"/>
<circle cx="281.06" cy="320.39" r="1.38" fill="#222" stroke="#fff" stroke-width="0.22"/>
<circle cx="279.70" cy="327.15" r="1.38" fill="#222" stroke="#fff" stroke-width="0.22"/>
<circle cx="279.03" cy="335.03" r="1.38" fill="#222" stroke="#fff" stroke-width="0.22"/>
<circle cx="278.80" cy="342.69" r="1.38" fill="#222" stroke="#fff" stroke-width="0.22"/>
<circle cx="280.15" cy="342.69" r="1.38" fill="#222" stroke="#fff" stroke-width="0.22"/>
<circle cx="281.51" cy="342.69" r="1.38" fill="#222" stroke="#fff" stroke-width="0.22"/>
<line x1="294.37" x2="294.37" y1="338.68" y2="338.68" stroke="#5590c8" stroke-width="1.0" stroke-linecap="square"/>
<line x1="294.37" x2="294.37" y1="342.42" y2="342.42" stroke="#5590c8" stroke-width="1.0" stroke-linecap="square"/>
<line x1="291.46" x2="297.27" y1="338.68" y2="338.68" stroke="#5590c8" stroke-width="1.0" stroke-linecap="square"/>
<line x1="291.46" x2="297.27" y1="342.42" y2="342.42" stroke="#5590c8" stroke-width="1.0" stroke-linecap="square"/>
<rect x="288.55" y="338.68" width="11.63" height="3.74" fill="#8fd4e9" stroke="#5590c8" stroke-width="1.0" stroke-linecap="square"/>
<line x1="288.55" x2="300.18" y1="342.42" y2="342.42" stroke="#111" stroke-width="1.45"/>
<circle cx="295.27" cy="266.31" r="1.38" fill="#222" stroke="#fff" stroke-width="0.22"/>
<circle cx="293.46" cy="310.25" r="1.38" fill="#222" stroke="#fff" stroke-width="0.22"/>
<circle cx="295.27" cy="318.13" r="1.38" fill="#222" stroke="#fff" stroke-width="0.22"/>
<circle cx="294.14" cy="322.42" r="1.38" fill="#222" stroke="#fff" stroke-width="0.22"/>
<circle cx="294.14" cy="330.53" r="1.38" fill="#222" stroke="#fff" stroke-width="0.22"/>
<circle cx="293.46" cy="338.19" r="1.38" fill="#222" stroke="#fff" stroke-width="0.22"/>
<circle cx="294.82" cy="338.19" r="1.38" fill="#222" stroke="#fff" stroke-width="0.22"/>
<circle cx="293.01" cy="342.69" r="1.38" fill="#222" stroke="#fff" stroke-width="0.22"/>
<circle cx="294.36" cy="342.69" r="1.38" fill="#222" stroke="#fff" stroke-width="0.22"/>
<circle cx="295.72" cy="342.69" r="1.38" fill="#222" stroke="#fff" stroke-width="0.22"/>
<line x1="308.90" x2="308.90" y1="304.04" y2="304.04" stroke="#5590c8" stroke-width="1.0" stroke-linecap="square"/>
<line x1="308.90" x2="308.90" y1="327.03" y2="332.85" stroke="#5590c8" stroke-width="1.0" stroke-linecap="square"/>
<line x1="305.99" x2="311.81" y1="304.04" y2="304.04" stroke="#5590c8" stroke-width="1.0" stroke-linecap="square"/>
<line x1="305.99" x2="311.81" y1="332.85" y2="332.85" stroke="#5590c8" stroke-width="1.0" stroke-linecap="square"/>
<rect x="303.09" y="304.04" width="11.63" height="22.99" fill="#8fd4e9" stroke="#5590c8" stroke-width="1.0" stroke-linecap="square"/>
<line x1="303.09" x2="314.71" y1="306.95" y2="306.95" stroke="#111" stroke-width="1.45"/>
<circle cx="308.57" cy="242.58" r="1.38" fill="#222" stroke="#fff" stroke-width="0.22"/>
<circle cx="309.43" cy="304.65" r="1.38" fill="#222" stroke="#fff" stroke-width="0.22"/>
<circle cx="310.57" cy="304.65" r="1.38" fill="#222" stroke="#fff" stroke-width="0.22"/>
<circle cx="310.00" cy="309.80" r="1.38" fill="#222" stroke="#fff" stroke-width="0.22"/>
<circle cx="308.57" cy="332.68" r="1.38" fill="#222" stroke="#fff" stroke-width="0.22"/>
<line x1="323.43" x2="323.43" y1="323.59" y2="304.04" stroke="#5590c8" stroke-width="1.0" stroke-linecap="square"/>
<line x1="323.43" x2="323.43" y1="342.42" y2="342.42" stroke="#5590c8" stroke-width="1.0" stroke-linecap="square"/>
<line x1="320.53" x2="326.34" y1="304.04" y2="304.04" stroke="#5590c8" stroke-width="1.0" stroke-linecap="square"/>
<line x1="320.53" x2="326.34" y1="342.42" y2="342.42" stroke="#5590c8" stroke-width="1.0" stroke-linecap="square"/>
<rect x="317.62" y="323.59" width="11.63" height="18.83" fill="#8fd4e9" stroke="#5590c8" stroke-width="1.0" stroke-linecap="square"/>
<line x1="317.62" x2="329.25" y1="342.42" y2="342.42" stroke="#111" stroke-width="1.45"/>
<circle cx="322.86" cy="304.65" r="1.38" fill="#222" stroke="#fff" stroke-width="0.22"/>
<circle cx="324.29" cy="342.41" r="1.38" fill="#222" stroke="#fff" stroke-width="0.22"/>
<rect x="25.5" y="238.4" width="305.2" height="108.99999999999997" fill="none" stroke="#8a8a8a" stroke-width="1"/>
<line x1="23.5" x2="25.5" y1="342.42" y2="342.42" stroke="#8a8a8a" stroke-width="0.8"/>
<text transform="translate(10.39,345.07)" y="0" font-size="7.86" fill="#222" font-weight="normal" stroke="#222" stroke-width="0.12"><tspan x="0.17" textLength="4.30" lengthAdjust="spacingAndGlyphs">0</tspan><tspan x="4.75" textLength="2.14" lengthAdjust="spacingAndGlyphs">.</tspan><tspan x="7.18" textLength="4.30" lengthAdjust="spacingAndGlyphs">0</tspan></text>
<line x1="23.5" x2="25.5" y1="321.62" y2="321.62" stroke="#8a8a8a" stroke-width="0.8"/>
<text transform="translate(10.65,324.27)" y="0" font-size="7.86" fill="#222" font-weight="normal" stroke="#222" stroke-width="0.12"><tspan x="0.17" textLength="4.30" lengthAdjust="spacingAndGlyphs">0</tspan><tspan x="4.75" textLength="2.14" lengthAdjust="spacingAndGlyphs">.</tspan><tspan x="7.15" textLength="4.18" lengthAdjust="spacingAndGlyphs">2</tspan></text>
<line x1="23.5" x2="25.5" y1="300.81" y2="300.81" stroke="#8a8a8a" stroke-width="0.8"/>
<text transform="translate(10.32,303.46)" y="0" font-size="7.86" fill="#222" font-weight="normal" stroke="#222" stroke-width="0.12"><tspan x="0.17" textLength="4.30" lengthAdjust="spacingAndGlyphs">0</tspan><tspan x="4.75" textLength="2.14" lengthAdjust="spacingAndGlyphs">.</tspan><tspan x="7.23" textLength="4.25" lengthAdjust="spacingAndGlyphs">4</tspan></text>
<line x1="23.5" x2="25.5" y1="280.01" y2="280.01" stroke="#8a8a8a" stroke-width="0.8"/>
<text transform="translate(10.35,282.66)" y="0" font-size="7.86" fill="#222" font-weight="normal" stroke="#222" stroke-width="0.12"><tspan x="0.17" textLength="4.30" lengthAdjust="spacingAndGlyphs">0</tspan><tspan x="4.75" textLength="2.14" lengthAdjust="spacingAndGlyphs">.</tspan><tspan x="7.13" textLength="4.44" lengthAdjust="spacingAndGlyphs">6</tspan></text>
<line x1="23.5" x2="25.5" y1="259.20" y2="259.20" stroke="#8a8a8a" stroke-width="0.8"/>
<text transform="translate(10.39,261.85)" y="0" font-size="7.86" fill="#222" font-weight="normal" stroke="#222" stroke-width="0.12"><tspan x="0.17" textLength="4.30" lengthAdjust="spacingAndGlyphs">0</tspan><tspan x="4.75" textLength="2.14" lengthAdjust="spacingAndGlyphs">.</tspan><tspan x="7.18" textLength="4.35" lengthAdjust="spacingAndGlyphs">8</tspan></text>
<line x1="23.5" x2="25.5" y1="238.40" y2="238.40" stroke="#8a8a8a" stroke-width="0.8"/>
<text transform="translate(10.39,241.05)" y="0" font-size="7.86" fill="#222" font-weight="normal" stroke="#222" stroke-width="0.12"><tspan x="0.26" textLength="4.09" lengthAdjust="spacingAndGlyphs">1</tspan><tspan x="4.75" textLength="2.14" lengthAdjust="spacingAndGlyphs">.</tspan><tspan x="7.18" textLength="4.30" lengthAdjust="spacingAndGlyphs">0</tspan></text>
<line x1="32.77" x2="32.77" y1="347.4" y2="349.4" stroke="#8a8a8a" stroke-width="0.8"/>
<text transform="translate(35.27,371.35) rotate(-90)" y="0" font-size="7.86" fill="#222" font-weight="normal" stroke="#222" stroke-width="0.12"><tspan x="0.04" textLength="4.94" lengthAdjust="spacingAndGlyphs">A</tspan><tspan x="5.15" textLength="4.76" lengthAdjust="spacingAndGlyphs">B</tspan><tspan x="10.20" textLength="4.76" lengthAdjust="spacingAndGlyphs">B</tspan><tspan x="15.11" textLength="4.98" lengthAdjust="spacingAndGlyphs">V</tspan></text>
<line x1="47.30" x2="47.30" y1="347.4" y2="349.4" stroke="#8a8a8a" stroke-width="0.8"/>
<text transform="translate(49.80,378.81) rotate(-90)" y="0" font-size="7.86" fill="#222" font-weight="normal" stroke="#222" stroke-width="0.12"><tspan x="0.04" textLength="4.94" lengthAdjust="spacingAndGlyphs">A</tspan><tspan x="5.15" textLength="4.76" lengthAdjust="spacingAndGlyphs">B</tspan><tspan x="10.20" textLength="4.76" lengthAdjust="spacingAndGlyphs">B</tspan><tspan x="15.11" textLength="4.98" lengthAdjust="spacingAndGlyphs">V</tspan><tspan x="19.88" textLength="2.26" lengthAdjust="spacingAndGlyphs">I</tspan><tspan x="22.17" textLength="5.49" lengthAdjust="spacingAndGlyphs">D</tspan></text>
<line x1="61.83" x2="61.83" y1="347.4" y2="349.4" stroke="#8a8a8a" stroke-width="0.8"/>
<text transform="translate(64.33,380.72) rotate(-90)" y="0" font-size="7.86" fill="#222" font-weight="normal" stroke="#222" stroke-width="0.12"><tspan x="0.04" textLength="4.94" lengthAdjust="spacingAndGlyphs">A</tspan><tspan x="5.15" textLength="4.76" lengthAdjust="spacingAndGlyphs">B</tspan><tspan x="10.20" textLength="4.76" lengthAdjust="spacingAndGlyphs">B</tspan><tspan x="15.11" textLength="4.98" lengthAdjust="spacingAndGlyphs">V</tspan><tspan x="20.00" textLength="4.23" lengthAdjust="spacingAndGlyphs">L</tspan><tspan x="24.10" textLength="5.49" lengthAdjust="spacingAndGlyphs">D</tspan></text>
<line x1="76.37" x2="76.37" y1="347.4" y2="349.4" stroke="#8a8a8a" stroke-width="0.8"/>
<text transform="translate(78.87,381.30) rotate(-90)" y="0" font-size="7.86" fill="#222" font-weight="normal" stroke="#222" stroke-width="0.12"><tspan x="0.04" textLength="4.94" lengthAdjust="spacingAndGlyphs">A</tspan><tspan x="5.15" textLength="4.76" lengthAdjust="spacingAndGlyphs">B</tspan><tspan x="10.20" textLength="4.76" lengthAdjust="spacingAndGlyphs">B</tspan><tspan x="15.11" textLength="4.98" lengthAdjust="spacingAndGlyphs">V</tspan><tspan x="20.10" textLength="4.39" lengthAdjust="spacingAndGlyphs">S</tspan><tspan x="24.67" textLength="5.49" lengthAdjust="spacingAndGlyphs">D</tspan></text>
<line x1="90.90" x2="90.90" y1="347.4" y2="349.4" stroke="#8a8a8a" stroke-width="0.8"/>
<text transform="translate(93.40,372.81) rotate(-90)" y="0" font-size="7.86" fill="#222" font-weight="normal" stroke="#222" stroke-width="0.12"><tspan x="0.04" textLength="4.94" lengthAdjust="spacingAndGlyphs">A</tspan><tspan x="5.14" textLength="6.12" lengthAdjust="spacingAndGlyphs">M</tspan><tspan x="11.41" textLength="5.59" lengthAdjust="spacingAndGlyphs">G</tspan><tspan x="17.28" textLength="4.25" lengthAdjust="spacingAndGlyphs">4</tspan></text>
<line x1="105.43" x2="105.43" y1="347.4" y2="349.4" stroke="#8a8a8a" stroke-width="0.8"/>
<text transform="translate(107.93,372.59) rotate(-90)" y="0" font-size="7.86" fill="#222" font-weight="normal" stroke="#222" stroke-width="0.12"><tspan x="0.04" textLength="4.94" lengthAdjust="spacingAndGlyphs">A</tspan><tspan x="5.14" textLength="6.12" lengthAdjust="spacingAndGlyphs">M</tspan><tspan x="11.41" textLength="5.59" lengthAdjust="spacingAndGlyphs">G</tspan><tspan x="17.27" textLength="4.22" lengthAdjust="spacingAndGlyphs">7</tspan></text>
<line x1="119.97" x2="119.97" y1="347.4" y2="349.4" stroke="#8a8a8a" stroke-width="0.8"/>
<text transform="translate(122.47,362.60) rotate(-90)" y="0" font-size="7.86" fill="#222" font-weight="normal" stroke="#222" stroke-width="0.12"><tspan x="0.04" textLength="4.94" lengthAdjust="spacingAndGlyphs">A</tspan><tspan x="5.25" textLength="1.63" lengthAdjust="spacingAndGlyphs">l</tspan><tspan x="7.22" textLength="4.37" lengthAdjust="spacingAndGlyphs">n</tspan></text>
<line x1="134.50" x2="134.50" y1="347.4" y2="349.4" stroke="#8a8a8a" stroke-width="0.8"/>
<text transform="translate(137.00,361.39) rotate(-90)" y="0" font-size="7.86" fill="#222" font-weight="normal" stroke="#222" stroke-width="0.12"><tspan x="0.06" textLength="4.93" lengthAdjust="spacingAndGlyphs">C</tspan><tspan x="5.19" textLength="4.93" lengthAdjust="spacingAndGlyphs">C</tspan></text>
<line x1="149.03" x2="149.03" y1="347.4" y2="349.4" stroke="#8a8a8a" stroke-width="0.8"/>
<text transform="translate(151.53,361.20) rotate(-90)" y="0" font-size="7.86" fill="#222" font-weight="normal" stroke="#222" stroke-width="0.12"><tspan x="0.06" textLength="4.50" lengthAdjust="spacingAndGlyphs">E</tspan><tspan x="4.86" textLength="1.63" lengthAdjust="spacingAndGlyphs">l</tspan><tspan x="6.77" textLength="3.04" lengthAdjust="spacingAndGlyphs">r</tspan></text>
<line x1="163.57" x2="163.57" y1="347.4" y2="349.4" stroke="#8a8a8a" stroke-width="0.8"/>
<text transform="translate(166.07,369.65) rotate(-90)" y="0" font-size="7.86" fill="#222" font-weight="normal" stroke="#222" stroke-width="0.12"><tspan x="0.14" textLength="4.36" lengthAdjust="spacingAndGlyphs">E</tspan><tspan x="4.86" textLength="1.63" lengthAdjust="spacingAndGlyphs">l</tspan><tspan x="6.82" textLength="2.95" lengthAdjust="spacingAndGlyphs">r</tspan><tspan x="9.88" textLength="4.36" lengthAdjust="spacingAndGlyphs">P</tspan><tspan x="14.40" textLength="4.09" lengthAdjust="spacingAndGlyphs">1</tspan></text>
<line x1="178.10" x2="178.10" y1="347.4" y2="349.4" stroke="#8a8a8a" stroke-width="0.8"/>
<text transform="translate(180.60,374.84) rotate(-90)" y="0" font-size="7.86" fill="#222" font-weight="normal" stroke="#222" stroke-width="0.12"><tspan x="0.15" textLength="4.35" lengthAdjust="spacingAndGlyphs">E</tspan><tspan x="4.86" textLength="1.63" lengthAdjust="spacingAndGlyphs">l</tspan><tspan x="6.83" textLength="2.94" lengthAdjust="spacingAndGlyphs">r</tspan><tspan x="9.88" textLength="4.35" lengthAdjust="spacingAndGlyphs">P</tspan><tspan x="14.28" textLength="4.18" lengthAdjust="spacingAndGlyphs">2</tspan><tspan x="18.94" textLength="4.76" lengthAdjust="spacingAndGlyphs">B</tspan></text>
<line x1="192.63" x2="192.63" y1="347.4" y2="349.4" stroke="#8a8a8a" stroke-width="0.8"/>
<text transform="translate(195.13,355.32) rotate(-90)" y="0" font-size="7.86" fill="#222" font-weight="normal" stroke="#222" stroke-width="0.12"><tspan x="0.19" textLength="3.89" lengthAdjust="spacingAndGlyphs">F</tspan></text>
<line x1="207.17" x2="207.17" y1="347.4" y2="349.4" stroke="#8a8a8a" stroke-width="0.8"/>
<text transform="translate(209.67,370.76) rotate(-90)" y="0" font-size="7.86" fill="#222" font-weight="normal" stroke="#222" stroke-width="0.12"><tspan x="0.09" textLength="4.23" lengthAdjust="spacingAndGlyphs">L</tspan><tspan x="4.32" textLength="1.63" lengthAdjust="spacingAndGlyphs">i</tspan><tspan x="6.29" textLength="4.37" lengthAdjust="spacingAndGlyphs">n</tspan><tspan x="10.98" textLength="3.98" lengthAdjust="spacingAndGlyphs">v</tspan><tspan x="15.24" textLength="4.35" lengthAdjust="spacingAndGlyphs">o</tspan></text>
<line x1="221.70" x2="221.70" y1="347.4" y2="349.4" stroke="#8a8a8a" stroke-width="0.8"/>
<text transform="translate(224.20,384.61) rotate(-90)" y="0" font-size="7.86" fill="#222" font-weight="normal" stroke="#222" stroke-width="0.12"><tspan x="0.13" textLength="5.08" lengthAdjust="spacingAndGlyphs">R</tspan><tspan x="5.36" textLength="4.09" lengthAdjust="spacingAndGlyphs">5</tspan><tspan x="10.00" textLength="4.25" lengthAdjust="spacingAndGlyphs">4</tspan><tspan x="14.72" textLength="4.09" lengthAdjust="spacingAndGlyphs">5</tspan><tspan x="19.30" textLength="4.35" lengthAdjust="spacingAndGlyphs">8</tspan><tspan x="23.90" textLength="5.21" lengthAdjust="spacingAndGlyphs">U</tspan><tspan x="29.33" textLength="4.18" lengthAdjust="spacingAndGlyphs">2</tspan></text>
<line x1="236.23" x2="236.23" y1="347.4" y2="349.4" stroke="#8a8a8a" stroke-width="0.8"/>
<text transform="translate(238.73,384.76) rotate(-90)" y="0" font-size="7.86" fill="#222" font-weight="normal" stroke="#222" stroke-width="0.12"><tspan x="0.13" textLength="5.08" lengthAdjust="spacingAndGlyphs">R</tspan><tspan x="5.36" textLength="4.09" lengthAdjust="spacingAndGlyphs">5</tspan><tspan x="10.00" textLength="4.25" lengthAdjust="spacingAndGlyphs">4</tspan><tspan x="14.72" textLength="4.09" lengthAdjust="spacingAndGlyphs">5</tspan><tspan x="19.30" textLength="4.35" lengthAdjust="spacingAndGlyphs">8</tspan><tspan x="23.90" textLength="5.21" lengthAdjust="spacingAndGlyphs">U</tspan><tspan x="29.49" textLength="4.09" lengthAdjust="spacingAndGlyphs">3</tspan></text>
<line x1="250.77" x2="250.77" y1="347.4" y2="349.4" stroke="#8a8a8a" stroke-width="0.8"/>
<text transform="translate(253.27,379.47) rotate(-90)" y="0" font-size="7.86" fill="#222" font-weight="normal" stroke="#222" stroke-width="0.12"><tspan x="0.13" textLength="5.08" lengthAdjust="spacingAndGlyphs">R</tspan><tspan x="5.19" textLength="4.46" lengthAdjust="spacingAndGlyphs">E</tspan><tspan x="10.01" textLength="4.09" lengthAdjust="spacingAndGlyphs">5</tspan><tspan x="14.64" textLength="4.25" lengthAdjust="spacingAndGlyphs">4</tspan><tspan x="19.36" textLength="4.09" lengthAdjust="spacingAndGlyphs">5</tspan><tspan x="23.95" textLength="4.35" lengthAdjust="spacingAndGlyphs">8</tspan></text>
<line x1="265.30" x2="265.30" y1="347.4" y2="349.4" stroke="#8a8a8a" stroke-width="0.8"/>
<text transform="translate(267.80,362.86) rotate(-90)" y="0" font-size="7.86" fill="#222" font-weight="normal" stroke="#222" stroke-width="0.12"><tspan x="-0.20" textLength="4.88" lengthAdjust="spacingAndGlyphs">T</tspan><tspan x="4.58" textLength="4.39" lengthAdjust="spacingAndGlyphs">e</tspan><tspan x="7.87" textLength="3.67" lengthAdjust="spacingAndGlyphs">c</tspan></text>
<line x1="279.83" x2="279.83" y1="347.4" y2="349.4" stroke="#8a8a8a" stroke-width="0.8"/>
<text transform="translate(282.33,378.58) rotate(-90)" y="0" font-size="7.86" fill="#222" font-weight="normal" stroke="#222" stroke-width="0.12"><tspan x="-0.20" textLength="4.88" lengthAdjust="spacingAndGlyphs">T</tspan><tspan x="4.58" textLength="4.39" lengthAdjust="spacingAndGlyphs">e</tspan><tspan x="7.87" textLength="3.67" lengthAdjust="spacingAndGlyphs">c</tspan><tspan x="11.02" textLength="2.99" lengthAdjust="spacingAndGlyphs">J</tspan><tspan x="14.15" textLength="4.35" lengthAdjust="spacingAndGlyphs">P</tspan><tspan x="18.51" textLength="4.42" lengthAdjust="spacingAndGlyphs">h</tspan><tspan x="23.32" textLength="4.09" lengthAdjust="spacingAndGlyphs">1</tspan></text>
<line x1="294.37" x2="294.37" y1="347.4" y2="349.4" stroke="#8a8a8a" stroke-width="0.8"/>
<text transform="translate(296.87,378.51) rotate(-90)" y="0" font-size="7.86" fill="#222" font-weight="normal" stroke="#222" stroke-width="0.12"><tspan x="-0.20" textLength="4.88" lengthAdjust="spacingAndGlyphs">T</tspan><tspan x="4.58" textLength="4.39" lengthAdjust="spacingAndGlyphs">e</tspan><tspan x="7.87" textLength="3.67" lengthAdjust="spacingAndGlyphs">c</tspan><tspan x="11.02" textLength="2.99" lengthAdjust="spacingAndGlyphs">J</tspan><tspan x="14.15" textLength="4.35" lengthAdjust="spacingAndGlyphs">P</tspan><tspan x="18.51" textLength="4.42" lengthAdjust="spacingAndGlyphs">h</tspan><tspan x="23.20" textLength="4.18" lengthAdjust="spacingAndGlyphs">2</tspan></text>
<line x1="308.90" x2="308.90" y1="347.4" y2="349.4" stroke="#8a8a8a" stroke-width="0.8"/>
<text transform="translate(311.40,372.70) rotate(-90)" y="0" font-size="7.86" fill="#222" font-weight="normal" stroke="#222" stroke-width="0.12"><tspan x="-0.20" textLength="4.88" lengthAdjust="spacingAndGlyphs">T</tspan><tspan x="4.58" textLength="4.39" lengthAdjust="spacingAndGlyphs">e</tspan><tspan x="7.87" textLength="3.67" lengthAdjust="spacingAndGlyphs">c</tspan><tspan x="11.89" textLength="5.21" lengthAdjust="spacingAndGlyphs">U</tspan><tspan x="17.44" textLength="4.09" lengthAdjust="spacingAndGlyphs">1</tspan></text>
<line x1="323.43" x2="323.43" y1="347.4" y2="349.4" stroke="#8a8a8a" stroke-width="0.8"/>
<text transform="translate(325.93,375.17) rotate(-90)" y="0" font-size="7.86" fill="#222" font-weight="normal" stroke="#222" stroke-width="0.12"><tspan x="-0.20" textLength="4.88" lengthAdjust="spacingAndGlyphs">T</tspan><tspan x="4.58" textLength="4.39" lengthAdjust="spacingAndGlyphs">e</tspan><tspan x="7.87" textLength="3.67" lengthAdjust="spacingAndGlyphs">c</tspan><tspan x="11.90" textLength="4.35" lengthAdjust="spacingAndGlyphs">o</tspan><tspan x="16.41" textLength="4.42" lengthAdjust="spacingAndGlyphs">u</tspan><tspan x="21.13" textLength="2.49" lengthAdjust="spacingAndGlyphs">t</tspan></text>
<text transform="translate(25.03,225.80)" y="0" font-size="10.67" fill="#000" font-weight="bold" stroke="#000" stroke-width="0.35"><tspan x="0.25" textLength="6.89" lengthAdjust="spacingAndGlyphs">B</tspan><tspan x="7.51" textLength="6.63" lengthAdjust="spacingAndGlyphs">C</tspan><tspan x="14.65" textLength="9.41" lengthAdjust="spacingAndGlyphs">M</tspan><tspan x="23.94" textLength="8.00" lengthAdjust="spacingAndGlyphs">A</tspan></text>
<text transform="translate(37.66,235.70)" y="0" font-size="9.64" fill="#5a5a5a" font-weight="normal" stroke="#5a5a5a" stroke-width="0.12"><tspan x="-0.05" textLength="5.76" lengthAdjust="spacingAndGlyphs">S</tspan><tspan x="5.71" textLength="4.88" lengthAdjust="spacingAndGlyphs">k</tspan><tspan x="10.90" textLength="1.95" lengthAdjust="spacingAndGlyphs">i</tspan><tspan x="13.33" textLength="1.95" lengthAdjust="spacingAndGlyphs">l</tspan><tspan x="15.76" textLength="1.95" lengthAdjust="spacingAndGlyphs">l</tspan><tspan x="18.20" textLength="1.95" lengthAdjust="spacingAndGlyphs">i</tspan><tspan x="20.55" textLength="5.21" lengthAdjust="spacingAndGlyphs">n</tspan><tspan x="26.03" textLength="5.25" lengthAdjust="spacingAndGlyphs">g</tspan><tspan x="31.69" textLength="4.32" lengthAdjust="spacingAndGlyphs">s</tspan><tspan x="36.48" textLength="3.51" lengthAdjust="spacingAndGlyphs">–</tspan><tspan x="40.56" textLength="7.30" lengthAdjust="spacingAndGlyphs">M</tspan><tspan x="47.98" textLength="4.81" lengthAdjust="spacingAndGlyphs">a</tspan><tspan x="53.48" textLength="4.38" lengthAdjust="spacingAndGlyphs">c</tspan><tspan x="58.32" textLength="4.88" lengthAdjust="spacingAndGlyphs">k</tspan><tspan x="66.09" textLength="3.25" lengthAdjust="spacingAndGlyphs">t</tspan><tspan x="69.57" textLength="5.23" lengthAdjust="spacingAndGlyphs">e</tspan><tspan x="75.05" textLength="4.32" lengthAdjust="spacingAndGlyphs">s</tspan><tspan x="79.48" textLength="3.25" lengthAdjust="spacingAndGlyphs">t</tspan><tspan x="82.50" textLength="3.25" lengthAdjust="spacingAndGlyphs">,</tspan><tspan x="88.59" textLength="4.73" lengthAdjust="spacingAndGlyphs">χ</tspan><tspan x="93.70" textLength="2.92" lengthAdjust="spacingAndGlyphs">²</tspan><tspan x="97.06" textLength="2.88" lengthAdjust="spacingAndGlyphs">(</tspan><tspan x="100.57" textLength="4.98" lengthAdjust="spacingAndGlyphs">2</tspan><tspan x="106.29" textLength="4.87" lengthAdjust="spacingAndGlyphs">1</tspan><tspan x="112.05" textLength="2.88" lengthAdjust="spacingAndGlyphs">)</tspan><tspan x="118.11" textLength="6.65" lengthAdjust="spacingAndGlyphs">=</tspan><tspan x="128.05" textLength="4.98" lengthAdjust="spacingAndGlyphs">2</tspan><tspan x="133.65" textLength="5.18" lengthAdjust="spacingAndGlyphs">8</tspan><tspan x="139.12" textLength="2.56" lengthAdjust="spacingAndGlyphs">.</tspan><tspan x="142.12" textLength="4.87" lengthAdjust="spacingAndGlyphs">1</tspan><tspan x="147.64" textLength="5.06" lengthAdjust="spacingAndGlyphs">4</tspan><tspan x="152.61" textLength="3.25" lengthAdjust="spacingAndGlyphs">,</tspan><tspan x="158.70" textLength="5.30" lengthAdjust="spacingAndGlyphs">p</tspan><tspan x="167.22" textLength="6.65" lengthAdjust="spacingAndGlyphs">=</tspan><tspan x="177.20" textLength="5.13" lengthAdjust="spacingAndGlyphs">0</tspan><tspan x="182.66" textLength="2.56" lengthAdjust="spacingAndGlyphs">.</tspan><tspan x="185.66" textLength="4.87" lengthAdjust="spacingAndGlyphs">1</tspan><tspan x="191.13" textLength="5.13" lengthAdjust="spacingAndGlyphs">0</tspan><tspan x="196.64" textLength="5.29" lengthAdjust="spacingAndGlyphs">6</tspan><tspan x="202.38" textLength="4.87" lengthAdjust="spacingAndGlyphs">1</tspan><tspan x="207.30" textLength="3.25" lengthAdjust="spacingAndGlyphs">,</tspan><tspan x="213.40" textLength="5.21" lengthAdjust="spacingAndGlyphs">n</tspan><tspan x="221.91" textLength="6.65" lengthAdjust="spacingAndGlyphs">=</tspan><tspan x="232.03" textLength="4.87" lengthAdjust="spacingAndGlyphs">3</tspan><tspan x="237.45" textLength="5.18" lengthAdjust="spacingAndGlyphs">8</tspan><tspan x="242.48" textLength="3.25" lengthAdjust="spacingAndGlyphs">,</tspan><tspan x="248.50" textLength="5.25" lengthAdjust="spacingAndGlyphs">d</tspan><tspan x="253.96" textLength="3.21" lengthAdjust="spacingAndGlyphs">f</tspan><tspan x="260.18" textLength="6.65" lengthAdjust="spacingAndGlyphs">=</tspan><tspan x="270.11" textLength="4.98" lengthAdjust="spacingAndGlyphs">2</tspan><tspan x="275.83" textLength="4.87" lengthAdjust="spacingAndGlyphs">1</tspan></text>
<text transform="translate(6.80,336.70) rotate(-90)" y="0" font-size="9.05" fill="#000" font-weight="bold" stroke="#000" stroke-width="0.35"><tspan x="0.14" textLength="6.67" lengthAdjust="spacingAndGlyphs">D</tspan><tspan x="6.81" textLength="2.86" lengthAdjust="spacingAndGlyphs">i</tspan><tspan x="9.76" textLength="4.77" lengthAdjust="spacingAndGlyphs">s</tspan><tspan x="14.64" textLength="3.69" lengthAdjust="spacingAndGlyphs">t</tspan><tspan x="18.49" textLength="4.18" lengthAdjust="spacingAndGlyphs">r</tspan><tspan x="22.52" textLength="2.86" lengthAdjust="spacingAndGlyphs">i</tspan><tspan x="25.45" textLength="5.82" lengthAdjust="spacingAndGlyphs">b</tspan><tspan x="31.31" textLength="5.75" lengthAdjust="spacingAndGlyphs">u</tspan><tspan x="37.20" textLength="3.69" lengthAdjust="spacingAndGlyphs">t</tspan><tspan x="41.03" textLength="2.86" lengthAdjust="spacingAndGlyphs">i</tspan><tspan x="43.83" textLength="5.69" lengthAdjust="spacingAndGlyphs">o</tspan><tspan x="49.62" textLength="5.70" lengthAdjust="spacingAndGlyphs">n</tspan><tspan x="58.21" textLength="5.69" lengthAdjust="spacingAndGlyphs">o</tspan><tspan x="63.90" textLength="3.64" lengthAdjust="spacingAndGlyphs">f</tspan><tspan x="70.16" textLength="6.79" lengthAdjust="spacingAndGlyphs">A</tspan><tspan x="76.75" textLength="5.46" lengthAdjust="spacingAndGlyphs">E</tspan><tspan x="82.45" textLength="4.77" lengthAdjust="spacingAndGlyphs">s</tspan></text>
<text transform="translate(161.99,392.75)" y="0" font-size="9.05" fill="#000" font-weight="bold" stroke="#000" stroke-width="0.35"><tspan x="-0.19" textLength="6.79" lengthAdjust="spacingAndGlyphs">A</tspan><tspan x="6.36" textLength="5.87" lengthAdjust="spacingAndGlyphs">g</tspan><tspan x="12.19" textLength="5.57" lengthAdjust="spacingAndGlyphs">e</tspan><tspan x="17.94" textLength="5.70" lengthAdjust="spacingAndGlyphs">n</tspan><tspan x="23.79" textLength="3.68" lengthAdjust="spacingAndGlyphs">t</tspan><tspan x="27.75" textLength="4.77" lengthAdjust="spacingAndGlyphs">s</tspan></text>
<rect x="379" y="238.5" width="305.4" height="108.86000000000001" fill="#f4f4f4"/>
<line x1="379" x2="684.4" y1="342.50" y2="342.50" stroke="#d6d6d6" stroke-width="0.7" stroke-dasharray="1 1.2"/>
<line x1="379" x2="684.4" y1="319.52" y2="319.52" stroke="#d6d6d6" stroke-width="0.7" stroke-dasharray="1 1.2"/>
<line x1="379" x2="684.4" y1="296.54" y2="296.54" stroke="#d6d6d6" stroke-width="0.7" stroke-dasharray="1 1.2"/>
<line x1="379" x2="684.4" y1="273.56" y2="273.56" stroke="#d6d6d6" stroke-width="0.7" stroke-dasharray="1 1.2"/>
<line x1="379" x2="684.4" y1="250.58" y2="250.58" stroke="#d6d6d6" stroke-width="0.7" stroke-dasharray="1 1.2"/>
<line x1="398.09" x2="398.09" y1="238.5" y2="347.36" stroke="#d6d6d6" stroke-width="0.7" stroke-dasharray="1 1.2"/>
<line x1="436.26" x2="436.26" y1="238.5" y2="347.36" stroke="#d6d6d6" stroke-width="0.7" stroke-dasharray="1 1.2"/>
<line x1="474.44" x2="474.44" y1="238.5" y2="347.36" stroke="#d6d6d6" stroke-width="0.7" stroke-dasharray="1 1.2"/>
<line x1="512.61" x2="512.61" y1="238.5" y2="347.36" stroke="#d6d6d6" stroke-width="0.7" stroke-dasharray="1 1.2"/>
<line x1="550.79" x2="550.79" y1="238.5" y2="347.36" stroke="#d6d6d6" stroke-width="0.7" stroke-dasharray="1 1.2"/>
<line x1="588.96" x2="588.96" y1="238.5" y2="347.36" stroke="#d6d6d6" stroke-width="0.7" stroke-dasharray="1 1.2"/>
<line x1="627.14" x2="627.14" y1="238.5" y2="347.36" stroke="#d6d6d6" stroke-width="0.7" stroke-dasharray="1 1.2"/>
<line x1="665.31" x2="665.31" y1="238.5" y2="347.36" stroke="#d6d6d6" stroke-width="0.7" stroke-dasharray="1 1.2"/>
<line x1="398.09" x2="398.09" y1="334.46" y2="323.77" stroke="#5590c8" stroke-width="1.0" stroke-linecap="square"/>
<line x1="398.09" x2="398.09" y1="341.35" y2="342.50" stroke="#5590c8" stroke-width="1.0" stroke-linecap="square"/>
<line x1="390.45" x2="405.72" y1="323.77" y2="323.77" stroke="#5590c8" stroke-width="1.0" stroke-linecap="square"/>
<line x1="390.45" x2="405.72" y1="342.50" y2="342.50" stroke="#5590c8" stroke-width="1.0" stroke-linecap="square"/>
<rect x="382.82" y="334.46" width="30.54" height="6.89" fill="#8fd4e9" stroke="#5590c8" stroke-width="1.0" stroke-linecap="square"/>
<line x1="382.82" x2="413.36" y1="340.55" y2="340.55" stroke="#111" stroke-width="1.45"/>
<circle cx="396.71" cy="317.52" r="1.38" fill="#222" stroke="#fff" stroke-width="0.22"/>
<circle cx="399.00" cy="320.95" r="1.38" fill="#222" stroke="#fff" stroke-width="0.22"/>
<circle cx="395.57" cy="323.81" r="1.38" fill="#222" stroke="#fff" stroke-width="0.22"/>
<circle cx="394.71" cy="334.68" r="1.38" fill="#222" stroke="#fff" stroke-width="0.22"/>
<circle cx="400.43" cy="335.54" r="1.38" fill="#222" stroke="#fff" stroke-width="0.22"/>
<circle cx="399.57" cy="338.40" r="1.38" fill="#222" stroke="#fff" stroke-width="0.22"/>
<circle cx="401.29" cy="339.83" r="1.38" fill="#222" stroke="#fff" stroke-width="0.22"/>
<circle cx="396.14" cy="342.41" r="1.38" fill="#222" stroke="#fff" stroke-width="0.22"/>
<circle cx="399.00" cy="342.41" r="1.38" fill="#222" stroke="#fff" stroke-width="0.22"/>
<circle cx="401.86" cy="342.41" r="1.38" fill="#222" stroke="#fff" stroke-width="0.22"/>
<line x1="436.26" x2="436.26" y1="336.98" y2="334.80" stroke="#5590c8" stroke-width="1.0" stroke-linecap="square"/>
<line x1="436.26" x2="436.26" y1="342.50" y2="342.50" stroke="#5590c8" stroke-width="1.0" stroke-linecap="square"/>
<line x1="428.63" x2="443.90" y1="334.80" y2="334.80" stroke="#5590c8" stroke-width="1.0" stroke-linecap="square"/>
<line x1="428.63" x2="443.90" y1="342.50" y2="342.50" stroke="#5590c8" stroke-width="1.0" stroke-linecap="square"/>
<rect x="420.99" y="336.98" width="30.54" height="5.52" fill="#8fd4e9" stroke="#5590c8" stroke-width="1.0" stroke-linecap="square"/>
<line x1="420.99" x2="451.53" y1="342.50" y2="342.50" stroke="#111" stroke-width="1.45"/>
<circle cx="439.00" cy="243.15" r="1.38" fill="#222" stroke="#fff" stroke-width="0.22"/>
<circle cx="434.71" cy="273.19" r="1.38" fill="#222" stroke="#fff" stroke-width="0.22"/>
<circle cx="438.43" cy="296.64" r="1.38" fill="#222" stroke="#fff" stroke-width="0.22"/>
<circle cx="432.71" cy="308.08" r="1.38" fill="#222" stroke="#fff" stroke-width="0.22"/>
<circle cx="434.14" cy="308.08" r="1.38" fill="#222" stroke="#fff" stroke-width="0.22"/>
<circle cx="437.00" cy="315.52" r="1.38" fill="#222" stroke="#fff" stroke-width="0.22"/>
<circle cx="434.14" cy="323.24" r="1.38" fill="#222" stroke="#fff" stroke-width="0.22"/>
<circle cx="437.00" cy="334.68" r="1.38" fill="#222" stroke="#fff" stroke-width="0.22"/>
<circle cx="434.71" cy="338.12" r="1.38" fill="#222" stroke="#fff" stroke-width="0.22"/>
<circle cx="437.57" cy="338.12" r="1.38" fill="#222" stroke="#fff" stroke-width="0.22"/>
<circle cx="433.29" cy="342.41" r="1.38" fill="#222" stroke="#fff" stroke-width="0.22"/>
<circle cx="436.14" cy="342.41" r="1.38" fill="#222" stroke="#fff" stroke-width="0.22"/>
<circle cx="439.00" cy="342.41" r="1.38" fill="#222" stroke="#fff" stroke-width="0.22"/>
<line x1="474.44" x2="474.44" y1="334.69" y2="324.46" stroke="#5590c8" stroke-width="1.0" stroke-linecap="square"/>
<line x1="474.44" x2="474.44" y1="342.50" y2="342.50" stroke="#5590c8" stroke-width="1.0" stroke-linecap="square"/>
<line x1="466.80" x2="482.07" y1="324.46" y2="324.46" stroke="#5590c8" stroke-width="1.0" stroke-linecap="square"/>
<line x1="466.80" x2="482.07" y1="342.50" y2="342.50" stroke="#5590c8" stroke-width="1.0" stroke-linecap="square"/>
<rect x="459.17" y="334.69" width="30.54" height="7.81" fill="#8fd4e9" stroke="#5590c8" stroke-width="1.0" stroke-linecap="square"/>
<line x1="459.17" x2="489.71" y1="342.50" y2="342.50" stroke="#111" stroke-width="1.45"/>
<circle cx="473.57" cy="261.74" r="1.38" fill="#222" stroke="#fff" stroke-width="0.22"/>
<circle cx="472.71" cy="298.07" r="1.38" fill="#222" stroke="#fff" stroke-width="0.22"/>
<circle cx="474.43" cy="306.08" r="1.38" fill="#222" stroke="#fff" stroke-width="0.22"/>
<circle cx="477.29" cy="316.66" r="1.38" fill="#222" stroke="#fff" stroke-width="0.22"/>
<circle cx="473.57" cy="324.10" r="1.38" fill="#222" stroke="#fff" stroke-width="0.22"/>
<circle cx="477.29" cy="326.96" r="1.38" fill="#222" stroke="#fff" stroke-width="0.22"/>
<circle cx="477.86" cy="329.82" r="1.38" fill="#222" stroke="#fff" stroke-width="0.22"/>
<circle cx="473.57" cy="334.68" r="1.38" fill="#222" stroke="#fff" stroke-width="0.22"/>
<circle cx="472.71" cy="339.55" r="1.38" fill="#222" stroke="#fff" stroke-width="0.22"/>
<circle cx="475.57" cy="339.55" r="1.38" fill="#222" stroke="#fff" stroke-width="0.22"/>
<circle cx="477.29" cy="339.55" r="1.38" fill="#222" stroke="#fff" stroke-width="0.22"/>
<circle cx="472.14" cy="342.41" r="1.38" fill="#222" stroke="#fff" stroke-width="0.22"/>
<circle cx="475.00" cy="342.41" r="1.38" fill="#222" stroke="#fff" stroke-width="0.22"/>
<line x1="512.61" x2="512.61" y1="337.56" y2="331.47" stroke="#5590c8" stroke-width="1.0" stroke-linecap="square"/>
<line x1="512.61" x2="512.61" y1="342.50" y2="342.50" stroke="#5590c8" stroke-width="1.0" stroke-linecap="square"/>
<line x1="504.98" x2="520.25" y1="331.47" y2="331.47" stroke="#5590c8" stroke-width="1.0" stroke-linecap="square"/>
<line x1="504.98" x2="520.25" y1="342.50" y2="342.50" stroke="#5590c8" stroke-width="1.0" stroke-linecap="square"/>
<rect x="497.34" y="337.56" width="30.54" height="4.94" fill="#8fd4e9" stroke="#5590c8" stroke-width="1.0" stroke-linecap="square"/>
<line x1="497.34" x2="527.88" y1="340.78" y2="340.78" stroke="#111" stroke-width="1.45"/>
<circle cx="515.00" cy="288.35" r="1.38" fill="#222" stroke="#fff" stroke-width="0.22"/>
<circle cx="513.57" cy="304.08" r="1.38" fill="#222" stroke="#fff" stroke-width="0.22"/>
<circle cx="513.00" cy="311.80" r="1.38" fill="#222" stroke="#fff" stroke-width="0.22"/>
<circle cx="508.71" cy="324.67" r="1.38" fill="#222" stroke="#fff" stroke-width="0.22"/>
<circle cx="512.14" cy="327.53" r="1.38" fill="#222" stroke="#fff" stroke-width="0.22"/>
<circle cx="514.43" cy="326.68" r="1.38" fill="#222" stroke="#fff" stroke-width="0.22"/>
<circle cx="510.71" cy="330.97" r="1.38" fill="#222" stroke="#fff" stroke-width="0.22"/>
<circle cx="515.00" cy="336.69" r="1.38" fill="#222" stroke="#fff" stroke-width="0.22"/>
<circle cx="513.57" cy="338.12" r="1.38" fill="#222" stroke="#fff" stroke-width="0.22"/>
<circle cx="512.14" cy="339.55" r="1.38" fill="#222" stroke="#fff" stroke-width="0.22"/>
<circle cx="510.71" cy="341.84" r="1.38" fill="#222" stroke="#fff" stroke-width="0.22"/>
<line x1="550.79" x2="550.79" y1="336.30" y2="332.16" stroke="#5590c8" stroke-width="1.0" stroke-linecap="square"/>
<line x1="550.79" x2="550.79" y1="342.50" y2="342.50" stroke="#5590c8" stroke-width="1.0" stroke-linecap="square"/>
<line x1="543.15" x2="558.42" y1="332.16" y2="332.16" stroke="#5590c8" stroke-width="1.0" stroke-linecap="square"/>
<line x1="543.15" x2="558.42" y1="342.50" y2="342.50" stroke="#5590c8" stroke-width="1.0" stroke-linecap="square"/>
<rect x="535.52" y="336.30" width="30.54" height="6.20" fill="#8fd4e9" stroke="#5590c8" stroke-width="1.0" stroke-linecap="square"/>
<line x1="535.52" x2="566.06" y1="341.81" y2="341.81" stroke="#111" stroke-width="1.45"/>
<circle cx="551.43" cy="289.78" r="1.38" fill="#222" stroke="#fff" stroke-width="0.22"/>
<circle cx="550.86" cy="305.22" r="1.38" fill="#222" stroke="#fff" stroke-width="0.22"/>
<circle cx="552.00" cy="310.94" r="1.38" fill="#222" stroke="#fff" stroke-width="0.22"/>
<circle cx="547.71" cy="321.24" r="1.38" fill="#222" stroke="#fff" stroke-width="0.22"/>
<circle cx="554.29" cy="319.52" r="1.38" fill="#222" stroke="#fff" stroke-width="0.22"/>
<circle cx="553.71" cy="331.82" r="1.38" fill="#222" stroke="#fff" stroke-width="0.22"/>
<circle cx="549.43" cy="336.69" r="1.38" fill="#222" stroke="#fff" stroke-width="0.22"/>
<circle cx="552.29" cy="336.11" r="1.38" fill="#222" stroke="#fff" stroke-width="0.22"/>
<circle cx="550.57" cy="339.55" r="1.38" fill="#222" stroke="#fff" stroke-width="0.22"/>
<circle cx="548.57" cy="341.84" r="1.38" fill="#222" stroke="#fff" stroke-width="0.22"/>
<circle cx="552.86" cy="341.84" r="1.38" fill="#222" stroke="#fff" stroke-width="0.22"/>
<line x1="588.96" x2="588.96" y1="338.02" y2="333.65" stroke="#5590c8" stroke-width="1.0" stroke-linecap="square"/>
<line x1="588.96" x2="588.96" y1="342.50" y2="342.50" stroke="#5590c8" stroke-width="1.0" stroke-linecap="square"/>
<line x1="581.33" x2="596.60" y1="333.65" y2="333.65" stroke="#5590c8" stroke-width="1.0" stroke-linecap="square"/>
<line x1="581.33" x2="596.60" y1="342.50" y2="342.50" stroke="#5590c8" stroke-width="1.0" stroke-linecap="square"/>
<rect x="573.69" y="338.02" width="30.54" height="4.48" fill="#8fd4e9" stroke="#5590c8" stroke-width="1.0" stroke-linecap="square"/>
<line x1="573.69" x2="604.23" y1="341.35" y2="341.35" stroke="#111" stroke-width="1.45"/>
<circle cx="590.00" cy="306.65" r="1.38" fill="#222" stroke="#fff" stroke-width="0.22"/>
<circle cx="592.86" cy="306.08" r="1.38" fill="#222" stroke="#fff" stroke-width="0.22"/>
<circle cx="590.86" cy="312.66" r="1.38" fill="#222" stroke="#fff" stroke-width="0.22"/>
<circle cx="586.29" cy="319.52" r="1.38" fill="#222" stroke="#fff" stroke-width="0.22"/>
<circle cx="585.14" cy="333.83" r="1.38" fill="#222" stroke="#fff" stroke-width="0.22"/>
<circle cx="589.43" cy="334.68" r="1.38" fill="#222" stroke="#fff" stroke-width="0.22"/>
<circle cx="587.14" cy="337.54" r="1.38" fill="#222" stroke="#fff" stroke-width="0.22"/>
<circle cx="590.00" cy="338.40" r="1.38" fill="#222" stroke="#fff" stroke-width="0.22"/>
<circle cx="588.57" cy="340.41" r="1.38" fill="#222" stroke="#fff" stroke-width="0.22"/>
<circle cx="585.71" cy="341.84" r="1.38" fill="#222" stroke="#fff" stroke-width="0.22"/>
<circle cx="590.57" cy="341.84" r="1.38" fill="#222" stroke="#fff" stroke-width="0.22"/>
<line x1="627.14" x2="627.14" y1="336.87" y2="332.96" stroke="#5590c8" stroke-width="1.0" stroke-linecap="square"/>
<line x1="627.14" x2="627.14" y1="342.50" y2="342.50" stroke="#5590c8" stroke-width="1.0" stroke-linecap="square"/>
<line x1="619.50" x2="634.77" y1="332.96" y2="332.96" stroke="#5590c8" stroke-width="1.0" stroke-linecap="square"/>
<line x1="619.50" x2="634.77" y1="342.50" y2="342.50" stroke="#5590c8" stroke-width="1.0" stroke-linecap="square"/>
<rect x="611.87" y="336.87" width="30.54" height="5.63" fill="#8fd4e9" stroke="#5590c8" stroke-width="1.0" stroke-linecap="square"/>
<line x1="611.87" x2="642.41" y1="340.66" y2="340.66" stroke="#111" stroke-width="1.45"/>
<circle cx="624.43" cy="312.66" r="1.38" fill="#222" stroke="#fff" stroke-width="0.22"/>
<circle cx="627.29" cy="312.66" r="1.38" fill="#222" stroke="#fff" stroke-width="0.22"/>
<circle cx="624.43" cy="318.09" r="1.38" fill="#222" stroke="#fff" stroke-width="0.22"/>
<circle cx="625.57" cy="321.24" r="1.38" fill="#222" stroke="#fff" stroke-width="0.22"/>
<circle cx="629.29" cy="321.24" r="1.38" fill="#222" stroke="#fff" stroke-width="0.22"/>
<circle cx="630.71" cy="328.96" r="1.38" fill="#222" stroke="#fff" stroke-width="0.22"/>
<circle cx="630.14" cy="332.68" r="1.38" fill="#222" stroke="#fff" stroke-width="0.22"/>
<circle cx="625.57" cy="336.69" r="1.38" fill="#222" stroke="#fff" stroke-width="0.22"/>
<circle cx="623.57" cy="338.12" r="1.38" fill="#222" stroke="#fff" stroke-width="0.22"/>
<circle cx="627.86" cy="338.40" r="1.38" fill="#222" stroke="#fff" stroke-width="0.22"/>
<circle cx="627.29" cy="339.55" r="1.38" fill="#222" stroke="#fff" stroke-width="0.22"/>
<circle cx="624.43" cy="340.41" r="1.38" fill="#222" stroke="#fff" stroke-width="0.22"/>
<circle cx="629.29" cy="341.84" r="1.38" fill="#222" stroke="#fff" stroke-width="0.22"/>
<circle cx="625.57" cy="341.84" r="1.38" fill="#222" stroke="#fff" stroke-width="0.22"/>
<line x1="665.31" x2="665.31" y1="339.51" y2="339.51" stroke="#5590c8" stroke-width="1.0" stroke-linecap="square"/>
<line x1="665.31" x2="665.31" y1="342.50" y2="342.50" stroke="#5590c8" stroke-width="1.0" stroke-linecap="square"/>
<line x1="657.68" x2="672.95" y1="339.51" y2="339.51" stroke="#5590c8" stroke-width="1.0" stroke-linecap="square"/>
<line x1="657.68" x2="672.95" y1="342.50" y2="342.50" stroke="#5590c8" stroke-width="1.0" stroke-linecap="square"/>
<rect x="650.04" y="339.51" width="30.54" height="2.99" fill="#8fd4e9" stroke="#5590c8" stroke-width="1.0" stroke-linecap="square"/>
<line x1="650.04" x2="680.58" y1="341.70" y2="341.70" stroke="#111" stroke-width="1.45"/>
<circle cx="665.86" cy="288.06" r="1.38" fill="#222" stroke="#fff" stroke-width="0.22"/>
<circle cx="663.57" cy="312.66" r="1.38" fill="#222" stroke="#fff" stroke-width="0.22"/>
<circle cx="666.43" cy="311.23" r="1.38" fill="#222" stroke="#fff" stroke-width="0.22"/>
<circle cx="667.29" cy="321.81" r="1.38" fill="#222" stroke="#fff" stroke-width="0.22"/>
<circle cx="666.43" cy="323.24" r="1.38" fill="#222" stroke="#fff" stroke-width="0.22"/>
<circle cx="667.86" cy="336.69" r="1.38" fill="#222" stroke="#fff" stroke-width="0.22"/>
<circle cx="665.00" cy="338.97" r="1.38" fill="#222" stroke="#fff" stroke-width="0.22"/>
<circle cx="663.00" cy="341.84" r="1.38" fill="#222" stroke="#fff" stroke-width="0.22"/>
<circle cx="666.43" cy="341.84" r="1.38" fill="#222" stroke="#fff" stroke-width="0.22"/>
<circle cx="667.86" cy="340.41" r="1.38" fill="#222" stroke="#fff" stroke-width="0.22"/>
<rect x="379" y="238.5" width="305.4" height="108.86000000000001" fill="none" stroke="#8a8a8a" stroke-width="1"/>
<line x1="377" x2="379" y1="342.50" y2="342.50" stroke="#8a8a8a" stroke-width="0.8"/>
<text transform="translate(363.79,345.15)" y="0" font-size="7.86" fill="#222" font-weight="normal" stroke="#222" stroke-width="0.12"><tspan x="0.17" textLength="4.30" lengthAdjust="spacingAndGlyphs">0</tspan><tspan x="4.75" textLength="2.14" lengthAdjust="spacingAndGlyphs">.</tspan><tspan x="7.18" textLength="4.30" lengthAdjust="spacingAndGlyphs">0</tspan></text>
<line x1="377" x2="379" y1="319.52" y2="319.52" stroke="#8a8a8a" stroke-width="0.8"/>
<text transform="translate(364.05,322.17)" y="0" font-size="7.86" fill="#222" font-weight="normal" stroke="#222" stroke-width="0.12"><tspan x="0.17" textLength="4.30" lengthAdjust="spacingAndGlyphs">0</tspan><tspan x="4.75" textLength="2.14" lengthAdjust="spacingAndGlyphs">.</tspan><tspan x="7.15" textLength="4.18" lengthAdjust="spacingAndGlyphs">2</tspan></text>
<line x1="377" x2="379" y1="296.54" y2="296.54" stroke="#8a8a8a" stroke-width="0.8"/>
<text transform="translate(363.72,299.19)" y="0" font-size="7.86" fill="#222" font-weight="normal" stroke="#222" stroke-width="0.12"><tspan x="0.17" textLength="4.30" lengthAdjust="spacingAndGlyphs">0</tspan><tspan x="4.75" textLength="2.14" lengthAdjust="spacingAndGlyphs">.</tspan><tspan x="7.23" textLength="4.25" lengthAdjust="spacingAndGlyphs">4</tspan></text>
<line x1="377" x2="379" y1="273.56" y2="273.56" stroke="#8a8a8a" stroke-width="0.8"/>
<text transform="translate(363.75,276.21)" y="0" font-size="7.86" fill="#222" font-weight="normal" stroke="#222" stroke-width="0.12"><tspan x="0.17" textLength="4.30" lengthAdjust="spacingAndGlyphs">0</tspan><tspan x="4.75" textLength="2.14" lengthAdjust="spacingAndGlyphs">.</tspan><tspan x="7.13" textLength="4.44" lengthAdjust="spacingAndGlyphs">6</tspan></text>
<line x1="377" x2="379" y1="250.58" y2="250.58" stroke="#8a8a8a" stroke-width="0.8"/>
<text transform="translate(363.79,253.23)" y="0" font-size="7.86" fill="#222" font-weight="normal" stroke="#222" stroke-width="0.12"><tspan x="0.17" textLength="4.30" lengthAdjust="spacingAndGlyphs">0</tspan><tspan x="4.75" textLength="2.14" lengthAdjust="spacingAndGlyphs">.</tspan><tspan x="7.18" textLength="4.35" lengthAdjust="spacingAndGlyphs">8</tspan></text>
<line x1="398.09" x2="398.09" y1="347.36" y2="349.36" stroke="#8a8a8a" stroke-width="0.8"/>
<text transform="translate(400.59,369.12) rotate(-90)" y="0" font-size="7.86" fill="#222" font-weight="normal" stroke="#222" stroke-width="0.12"><tspan x="0.06" textLength="4.93" lengthAdjust="spacingAndGlyphs">C</tspan><tspan x="5.22" textLength="4.39" lengthAdjust="spacingAndGlyphs">e</tspan><tspan x="9.83" textLength="3.98" lengthAdjust="spacingAndGlyphs">v</tspan><tspan x="14.10" textLength="4.35" lengthAdjust="spacingAndGlyphs">o</tspan></text>
<line x1="436.26" x2="436.26" y1="347.36" y2="349.36" stroke="#8a8a8a" stroke-width="0.8"/>
<text transform="translate(438.76,384.15) rotate(-90)" y="0" font-size="7.86" fill="#222" font-weight="normal" stroke="#222" stroke-width="0.12"><tspan x="-0.20" textLength="4.88" lengthAdjust="spacingAndGlyphs">T</tspan><tspan x="4.66" textLength="3.70" lengthAdjust="spacingAndGlyphs">a</tspan><tspan x="8.00" textLength="1.63" lengthAdjust="spacingAndGlyphs">l</tspan><tspan x="10.03" textLength="4.25" lengthAdjust="spacingAndGlyphs">4</tspan><tspan x="14.66" textLength="4.30" lengthAdjust="spacingAndGlyphs">0</tspan><tspan x="19.43" textLength="4.09" lengthAdjust="spacingAndGlyphs">5</tspan><tspan x="23.93" textLength="5.21" lengthAdjust="spacingAndGlyphs">U</tspan><tspan x="29.37" textLength="4.18" lengthAdjust="spacingAndGlyphs">2</tspan></text>
<line x1="474.44" x2="474.44" y1="347.36" y2="349.36" stroke="#8a8a8a" stroke-width="0.8"/>
<text transform="translate(476.94,384.15) rotate(-90)" y="0" font-size="7.86" fill="#222" font-weight="normal" stroke="#222" stroke-width="0.12"><tspan x="-0.20" textLength="4.88" lengthAdjust="spacingAndGlyphs">T</tspan><tspan x="4.66" textLength="3.70" lengthAdjust="spacingAndGlyphs">a</tspan><tspan x="8.00" textLength="1.63" lengthAdjust="spacingAndGlyphs">l</tspan><tspan x="9.98" textLength="4.35" lengthAdjust="spacingAndGlyphs">8</tspan><tspan x="14.66" textLength="4.30" lengthAdjust="spacingAndGlyphs">0</tspan><tspan x="19.34" textLength="4.30" lengthAdjust="spacingAndGlyphs">0</tspan><tspan x="23.93" textLength="5.21" lengthAdjust="spacingAndGlyphs">U</tspan><tspan x="29.37" textLength="4.18" lengthAdjust="spacingAndGlyphs">2</tspan></text>
<line x1="512.61" x2="512.61" y1="347.36" y2="349.36" stroke="#8a8a8a" stroke-width="0.8"/>
<text transform="translate(515.11,367.94) rotate(-90)" y="0" font-size="7.86" fill="#222" font-weight="normal" stroke="#222" stroke-width="0.12"><tspan x="-0.20" textLength="4.88" lengthAdjust="spacingAndGlyphs">T</tspan><tspan x="4.67" textLength="3.69" lengthAdjust="spacingAndGlyphs">a</tspan><tspan x="8.00" textLength="1.63" lengthAdjust="spacingAndGlyphs">l</tspan><tspan x="9.79" textLength="2.26" lengthAdjust="spacingAndGlyphs">I</tspan><tspan x="11.99" textLength="4.98" lengthAdjust="spacingAndGlyphs">V</tspan></text>
<line x1="550.79" x2="550.79" y1="347.36" y2="349.36" stroke="#8a8a8a" stroke-width="0.8"/>
<text transform="translate(553.29,370.22) rotate(-90)" y="0" font-size="7.86" fill="#222" font-weight="normal" stroke="#222" stroke-width="0.12"><tspan x="-0.20" textLength="4.88" lengthAdjust="spacingAndGlyphs">T</tspan><tspan x="4.67" textLength="3.69" lengthAdjust="spacingAndGlyphs">a</tspan><tspan x="8.00" textLength="1.63" lengthAdjust="spacingAndGlyphs">l</tspan><tspan x="10.00" textLength="4.39" lengthAdjust="spacingAndGlyphs">S</tspan><tspan x="14.55" textLength="4.93" lengthAdjust="spacingAndGlyphs">C</tspan></text>
<line x1="588.96" x2="588.96" y1="347.36" y2="349.36" stroke="#8a8a8a" stroke-width="0.8"/>
<text transform="translate(591.46,375.77) rotate(-90)" y="0" font-size="7.86" fill="#222" font-weight="normal" stroke="#222" stroke-width="0.12"><tspan x="-0.20" textLength="4.88" lengthAdjust="spacingAndGlyphs">T</tspan><tspan x="4.67" textLength="3.69" lengthAdjust="spacingAndGlyphs">a</tspan><tspan x="8.00" textLength="1.63" lengthAdjust="spacingAndGlyphs">l</tspan><tspan x="9.84" textLength="3.63" lengthAdjust="spacingAndGlyphs">_</tspan><tspan x="13.66" textLength="4.30" lengthAdjust="spacingAndGlyphs">0</tspan><tspan x="18.25" textLength="2.14" lengthAdjust="spacingAndGlyphs">.</tspan><tspan x="20.72" textLength="4.25" lengthAdjust="spacingAndGlyphs">4</tspan></text>
<line x1="627.14" x2="627.14" y1="347.36" y2="349.36" stroke="#8a8a8a" stroke-width="0.8"/>
<text transform="translate(629.64,375.70) rotate(-90)" y="0" font-size="7.86" fill="#222" font-weight="normal" stroke="#222" stroke-width="0.12"><tspan x="-0.20" textLength="4.88" lengthAdjust="spacingAndGlyphs">T</tspan><tspan x="4.67" textLength="3.69" lengthAdjust="spacingAndGlyphs">a</tspan><tspan x="8.00" textLength="1.63" lengthAdjust="spacingAndGlyphs">l</tspan><tspan x="9.84" textLength="3.63" lengthAdjust="spacingAndGlyphs">_</tspan><tspan x="13.66" textLength="4.30" lengthAdjust="spacingAndGlyphs">0</tspan><tspan x="18.25" textLength="2.14" lengthAdjust="spacingAndGlyphs">.</tspan><tspan x="20.67" textLength="4.35" lengthAdjust="spacingAndGlyphs">8</tspan></text>
<line x1="665.31" x2="665.31" y1="347.36" y2="349.36" stroke="#8a8a8a" stroke-width="0.8"/>
<text transform="translate(667.81,378.56) rotate(-90)" y="0" font-size="7.86" fill="#222" font-weight="normal" stroke="#222" stroke-width="0.12"><tspan x="-0.19" textLength="4.88" lengthAdjust="spacingAndGlyphs">T</tspan><tspan x="4.67" textLength="3.69" lengthAdjust="spacingAndGlyphs">a</tspan><tspan x="8.00" textLength="1.63" lengthAdjust="spacingAndGlyphs">l</tspan><tspan x="9.84" textLength="3.63" lengthAdjust="spacingAndGlyphs">_</tspan><tspan x="13.30" textLength="4.88" lengthAdjust="spacingAndGlyphs">T</tspan><tspan x="18.05" textLength="4.93" lengthAdjust="spacingAndGlyphs">C</tspan><tspan x="22.82" textLength="5.08" lengthAdjust="spacingAndGlyphs">R</tspan></text>
<text transform="translate(378.81,225.70)" y="0" font-size="10.67" fill="#000" font-weight="bold" stroke="#000" stroke-width="0.35"><tspan x="0.08" textLength="7.82" lengthAdjust="spacingAndGlyphs">G</tspan><tspan x="8.17" textLength="6.87" lengthAdjust="spacingAndGlyphs">P</tspan><tspan x="15.29" textLength="7.28" lengthAdjust="spacingAndGlyphs">R</tspan><tspan x="22.64" textLength="6.67" lengthAdjust="spacingAndGlyphs">C</tspan><tspan x="30.07" textLength="5.93" lengthAdjust="spacingAndGlyphs">5</tspan><tspan x="36.57" textLength="7.86" lengthAdjust="spacingAndGlyphs">D</tspan><tspan x="44.48" textLength="3.47" lengthAdjust="spacingAndGlyphs">/</tspan><tspan x="48.25" textLength="5.93" lengthAdjust="spacingAndGlyphs">F</tspan><tspan x="54.63" textLength="5.39" lengthAdjust="spacingAndGlyphs">c</tspan><tspan x="60.60" textLength="7.28" lengthAdjust="spacingAndGlyphs">R</tspan><tspan x="68.02" textLength="7.78" lengthAdjust="spacingAndGlyphs">H</tspan><tspan x="76.37" textLength="5.93" lengthAdjust="spacingAndGlyphs">5</tspan></text>
<text transform="translate(399.60,235.70)" y="0" font-size="9.64" fill="#5a5a5a" font-weight="normal" stroke="#5a5a5a" stroke-width="0.12"><tspan x="-0.05" textLength="5.77" lengthAdjust="spacingAndGlyphs">S</tspan><tspan x="5.71" textLength="4.88" lengthAdjust="spacingAndGlyphs">k</tspan><tspan x="10.90" textLength="1.95" lengthAdjust="spacingAndGlyphs">i</tspan><tspan x="13.33" textLength="1.95" lengthAdjust="spacingAndGlyphs">l</tspan><tspan x="15.76" textLength="1.95" lengthAdjust="spacingAndGlyphs">l</tspan><tspan x="18.20" textLength="1.95" lengthAdjust="spacingAndGlyphs">i</tspan><tspan x="20.55" textLength="5.21" lengthAdjust="spacingAndGlyphs">n</tspan><tspan x="26.03" textLength="5.25" lengthAdjust="spacingAndGlyphs">g</tspan><tspan x="31.68" textLength="4.32" lengthAdjust="spacingAndGlyphs">s</tspan><tspan x="36.48" textLength="3.51" lengthAdjust="spacingAndGlyphs">–</tspan><tspan x="40.56" textLength="7.30" lengthAdjust="spacingAndGlyphs">M</tspan><tspan x="47.97" textLength="4.81" lengthAdjust="spacingAndGlyphs">a</tspan><tspan x="53.48" textLength="4.38" lengthAdjust="spacingAndGlyphs">c</tspan><tspan x="58.32" textLength="4.88" lengthAdjust="spacingAndGlyphs">k</tspan><tspan x="66.09" textLength="3.25" lengthAdjust="spacingAndGlyphs">t</tspan><tspan x="69.57" textLength="5.23" lengthAdjust="spacingAndGlyphs">e</tspan><tspan x="75.05" textLength="4.32" lengthAdjust="spacingAndGlyphs">s</tspan><tspan x="79.48" textLength="3.25" lengthAdjust="spacingAndGlyphs">t</tspan><tspan x="82.50" textLength="3.25" lengthAdjust="spacingAndGlyphs">,</tspan><tspan x="88.59" textLength="4.73" lengthAdjust="spacingAndGlyphs">χ</tspan><tspan x="93.70" textLength="2.92" lengthAdjust="spacingAndGlyphs">²</tspan><tspan x="97.05" textLength="2.88" lengthAdjust="spacingAndGlyphs">(</tspan><tspan x="100.66" textLength="5.03" lengthAdjust="spacingAndGlyphs">7</tspan><tspan x="106.48" textLength="2.88" lengthAdjust="spacingAndGlyphs">)</tspan><tspan x="112.53" textLength="6.65" lengthAdjust="spacingAndGlyphs">=</tspan><tspan x="122.61" textLength="4.87" lengthAdjust="spacingAndGlyphs">5</tspan><tspan x="127.97" textLength="2.56" lengthAdjust="spacingAndGlyphs">.</tspan><tspan x="130.76" textLength="5.29" lengthAdjust="spacingAndGlyphs">9</tspan><tspan x="136.44" textLength="5.13" lengthAdjust="spacingAndGlyphs">0</tspan><tspan x="141.47" textLength="3.25" lengthAdjust="spacingAndGlyphs">,</tspan><tspan x="147.55" textLength="5.30" lengthAdjust="spacingAndGlyphs">p</tspan><tspan x="156.08" textLength="6.65" lengthAdjust="spacingAndGlyphs">=</tspan><tspan x="166.05" textLength="5.13" lengthAdjust="spacingAndGlyphs">0</tspan><tspan x="171.52" textLength="2.56" lengthAdjust="spacingAndGlyphs">.</tspan><tspan x="174.52" textLength="4.87" lengthAdjust="spacingAndGlyphs">5</tspan><tspan x="180.09" textLength="4.87" lengthAdjust="spacingAndGlyphs">5</tspan><tspan x="185.66" textLength="4.87" lengthAdjust="spacingAndGlyphs">1</tspan><tspan x="191.13" textLength="5.13" lengthAdjust="spacingAndGlyphs">0</tspan><tspan x="196.16" textLength="3.25" lengthAdjust="spacingAndGlyphs">,</tspan><tspan x="202.25" textLength="5.21" lengthAdjust="spacingAndGlyphs">n</tspan><tspan x="210.76" textLength="6.65" lengthAdjust="spacingAndGlyphs">=</tspan><tspan x="220.79" textLength="5.06" lengthAdjust="spacingAndGlyphs">4</tspan><tspan x="226.41" textLength="4.87" lengthAdjust="spacingAndGlyphs">5</tspan><tspan x="231.33" textLength="3.25" lengthAdjust="spacingAndGlyphs">,</tspan><tspan x="237.35" textLength="5.25" lengthAdjust="spacingAndGlyphs">d</tspan><tspan x="242.81" textLength="3.21" lengthAdjust="spacingAndGlyphs">f</tspan><tspan x="249.03" textLength="6.65" lengthAdjust="spacingAndGlyphs">=</tspan><tspan x="259.05" textLength="5.03" lengthAdjust="spacingAndGlyphs">7</tspan></text>
<text transform="translate(360.20,336.73) rotate(-90)" y="0" font-size="9.05" fill="#000" font-weight="bold" stroke="#000" stroke-width="0.35"><tspan x="0.14" textLength="6.67" lengthAdjust="spacingAndGlyphs">D</tspan><tspan x="6.81" textLength="2.86" lengthAdjust="spacingAndGlyphs">i</tspan><tspan x="9.76" textLength="4.77" lengthAdjust="spacingAndGlyphs">s</tspan><tspan x="14.64" textLength="3.69" lengthAdjust="spacingAndGlyphs">t</tspan><tspan x="18.49" textLength="4.18" lengthAdjust="spacingAndGlyphs">r</tspan><tspan x="22.52" textLength="2.86" lengthAdjust="spacingAndGlyphs">i</tspan><tspan x="25.45" textLength="5.82" lengthAdjust="spacingAndGlyphs">b</tspan><tspan x="31.31" textLength="5.75" lengthAdjust="spacingAndGlyphs">u</tspan><tspan x="37.20" textLength="3.69" lengthAdjust="spacingAndGlyphs">t</tspan><tspan x="41.03" textLength="2.86" lengthAdjust="spacingAndGlyphs">i</tspan><tspan x="43.83" textLength="5.69" lengthAdjust="spacingAndGlyphs">o</tspan><tspan x="49.62" textLength="5.70" lengthAdjust="spacingAndGlyphs">n</tspan><tspan x="58.21" textLength="5.69" lengthAdjust="spacingAndGlyphs">o</tspan><tspan x="63.90" textLength="3.64" lengthAdjust="spacingAndGlyphs">f</tspan><tspan x="70.16" textLength="6.79" lengthAdjust="spacingAndGlyphs">A</tspan><tspan x="76.75" textLength="5.46" lengthAdjust="spacingAndGlyphs">E</tspan><tspan x="82.45" textLength="4.77" lengthAdjust="spacingAndGlyphs">s</tspan></text>
<text transform="translate(515.59,392.75)" y="0" font-size="9.05" fill="#000" font-weight="bold" stroke="#000" stroke-width="0.35"><tspan x="-0.19" textLength="6.79" lengthAdjust="spacingAndGlyphs">A</tspan><tspan x="6.36" textLength="5.87" lengthAdjust="spacingAndGlyphs">g</tspan><tspan x="12.19" textLength="5.57" lengthAdjust="spacingAndGlyphs">e</tspan><tspan x="17.94" textLength="5.70" lengthAdjust="spacingAndGlyphs">n</tspan><tspan x="23.79" textLength="3.68" lengthAdjust="spacingAndGlyphs">t</tspan><tspan x="27.75" textLength="4.77" lengthAdjust="spacingAndGlyphs">s</tspan></text>
<text transform="translate(290.16,8.50)" y="0" font-size="11.88" fill="#000" font-weight="bold" stroke="#000" stroke-width="0.35"><tspan x="0.09" textLength="8.71" lengthAdjust="spacingAndGlyphs">G</tspan><tspan x="8.87" textLength="5.49" lengthAdjust="spacingAndGlyphs">r</tspan><tspan x="14.29" textLength="6.23" lengthAdjust="spacingAndGlyphs">a</tspan><tspan x="21.46" textLength="7.71" lengthAdjust="spacingAndGlyphs">d</tspan><tspan x="29.12" textLength="7.31" lengthAdjust="spacingAndGlyphs">e</tspan><tspan x="40.76" textLength="6.67" lengthAdjust="spacingAndGlyphs">3</tspan><tspan x="47.75" textLength="4.03" lengthAdjust="spacingAndGlyphs">/</tspan><tspan x="52.06" textLength="6.79" lengthAdjust="spacingAndGlyphs">4</tspan><tspan x="63.11" textLength="4.30" lengthAdjust="spacingAndGlyphs">-</tspan><tspan x="71.02" textLength="8.91" lengthAdjust="spacingAndGlyphs">A</tspan><tspan x="79.60" textLength="3.75" lengthAdjust="spacingAndGlyphs">l</tspan><tspan x="83.30" textLength="3.75" lengthAdjust="spacingAndGlyphs">l</tspan><tspan x="90.54" textLength="8.91" lengthAdjust="spacingAndGlyphs">A</tspan><tspan x="99.20" textLength="7.16" lengthAdjust="spacingAndGlyphs">E</tspan><tspan x="106.68" textLength="6.26" lengthAdjust="spacingAndGlyphs">s</tspan></text>
</svg>
</body></html>
